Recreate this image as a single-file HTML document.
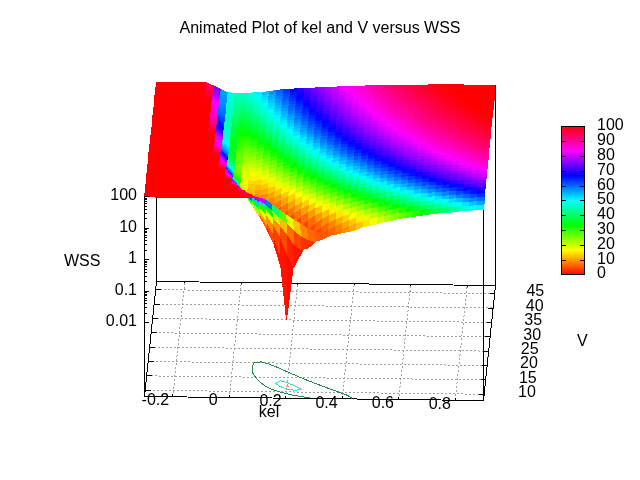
<!DOCTYPE html>
<html><head><meta charset="utf-8"><style>
html,body{margin:0;padding:0;background:#fff;}
svg{display:block;will-change:transform;}
text{font-family:"Liberation Sans",sans-serif;fill:#000;}
</style></head><body>
<svg width="640" height="480" viewBox="0 0 640 480">
<rect width="640" height="480" fill="#fff"/>
<g shape-rendering="crispEdges">
<text x="179.5" y="33" font-size="16">Animated Plot of kel and V versus WSS</text>
<line x1="145.1" y1="390.25" x2="484.1" y2="394.25" stroke="#a0a0a0" stroke-width="1" stroke-dasharray="2,2"/>
<line x1="146.6" y1="375.88" x2="485.6" y2="379.88" stroke="#a0a0a0" stroke-width="1" stroke-dasharray="2,2"/>
<line x1="148.1" y1="361.5" x2="487.1" y2="365.5" stroke="#a0a0a0" stroke-width="1" stroke-dasharray="2,2"/>
<line x1="149.6" y1="347.13" x2="488.6" y2="351.13" stroke="#a0a0a0" stroke-width="1" stroke-dasharray="2,2"/>
<line x1="151.1" y1="332.75" x2="490.1" y2="336.75" stroke="#a0a0a0" stroke-width="1" stroke-dasharray="2,2"/>
<line x1="152.6" y1="318.38" x2="491.6" y2="322.38" stroke="#a0a0a0" stroke-width="1" stroke-dasharray="2,2"/>
<line x1="154.1" y1="304.0" x2="493.1" y2="308.0" stroke="#a0a0a0" stroke-width="1" stroke-dasharray="2,2"/>
<line x1="155.6" y1="289.63" x2="494.6" y2="293.63" stroke="#a0a0a0" stroke-width="1" stroke-dasharray="2,2"/>
<line x1="172.75" y1="396.83" x2="184.75" y2="281.83" stroke="#a0a0a0" stroke-width="1" stroke-dasharray="2,2"/>
<line x1="229.25" y1="397.5" x2="241.25" y2="282.5" stroke="#a0a0a0" stroke-width="1" stroke-dasharray="2,2"/>
<line x1="285.75" y1="398.17" x2="297.75" y2="283.17" stroke="#a0a0a0" stroke-width="1" stroke-dasharray="2,2"/>
<line x1="342.25" y1="398.83" x2="354.25" y2="283.83" stroke="#a0a0a0" stroke-width="1" stroke-dasharray="2,2"/>
<line x1="398.75" y1="399.5" x2="410.75" y2="284.5" stroke="#a0a0a0" stroke-width="1" stroke-dasharray="2,2"/>
<line x1="455.25" y1="400.17" x2="467.25" y2="285.17" stroke="#a0a0a0" stroke-width="1" stroke-dasharray="2,2"/>
<line x1="144.5" y1="396.5" x2="483.5" y2="400.5" stroke="#000" stroke-width="1" />
<line x1="156.5" y1="281.5" x2="495.5" y2="285.5" stroke="#000" stroke-width="1" />
<line x1="144.5" y1="396.5" x2="156.5" y2="281.5" stroke="#000" stroke-width="1" />
<line x1="483.5" y1="400.5" x2="495.5" y2="285.5" stroke="#000" stroke-width="1" />
<line x1="145.1" y1="390.25" x2="150.5" y2="390.25" stroke="#000" stroke-width="1" />
<line x1="479.1" y1="394.25" x2="484.1" y2="394.25" stroke="#000" stroke-width="1" />
<line x1="146.6" y1="375.88" x2="152.0" y2="375.88" stroke="#000" stroke-width="1" />
<line x1="480.6" y1="379.88" x2="485.6" y2="379.88" stroke="#000" stroke-width="1" />
<line x1="148.1" y1="361.5" x2="153.5" y2="361.5" stroke="#000" stroke-width="1" />
<line x1="482.1" y1="365.5" x2="487.1" y2="365.5" stroke="#000" stroke-width="1" />
<line x1="149.6" y1="347.13" x2="155.0" y2="347.13" stroke="#000" stroke-width="1" />
<line x1="483.6" y1="351.13" x2="488.6" y2="351.13" stroke="#000" stroke-width="1" />
<line x1="151.1" y1="332.75" x2="156.5" y2="332.75" stroke="#000" stroke-width="1" />
<line x1="485.1" y1="336.75" x2="490.1" y2="336.75" stroke="#000" stroke-width="1" />
<line x1="152.6" y1="318.38" x2="158.0" y2="318.38" stroke="#000" stroke-width="1" />
<line x1="486.6" y1="322.38" x2="491.6" y2="322.38" stroke="#000" stroke-width="1" />
<line x1="154.1" y1="304.0" x2="159.5" y2="304.0" stroke="#000" stroke-width="1" />
<line x1="488.1" y1="308.0" x2="493.1" y2="308.0" stroke="#000" stroke-width="1" />
<line x1="155.6" y1="289.63" x2="161.0" y2="289.63" stroke="#000" stroke-width="1" />
<line x1="489.6" y1="293.63" x2="494.6" y2="293.63" stroke="#000" stroke-width="1" />
<line x1="172.75" y1="394" x2="172.75" y2="396" stroke="#000" stroke-width="1" />
<line x1="184.75" y1="282" x2="184.75" y2="283" stroke="#000" stroke-width="1" />
<line x1="229.25" y1="395" x2="229.25" y2="397" stroke="#000" stroke-width="1" />
<line x1="241.25" y1="283" x2="241.25" y2="284" stroke="#000" stroke-width="1" />
<line x1="285.75" y1="396" x2="285.75" y2="398" stroke="#000" stroke-width="1" />
<line x1="297.75" y1="284" x2="297.75" y2="285" stroke="#000" stroke-width="1" />
<line x1="342.25" y1="396" x2="342.25" y2="398" stroke="#000" stroke-width="1" />
<line x1="354.25" y1="284" x2="354.25" y2="285" stroke="#000" stroke-width="1" />
<line x1="398.75" y1="397" x2="398.75" y2="399" stroke="#000" stroke-width="1" />
<line x1="410.75" y1="285" x2="410.75" y2="286" stroke="#000" stroke-width="1" />
<line x1="455.25" y1="398" x2="455.25" y2="400" stroke="#000" stroke-width="1" />
<line x1="467.25" y1="286" x2="467.25" y2="287" stroke="#000" stroke-width="1" />
<line x1="156.5" y1="196.5" x2="156.5" y2="281.5" stroke="#000" stroke-width="1" />
<line x1="483.5" y1="209" x2="483.5" y2="400.5" stroke="#000" stroke-width="1" />
<text x="137" y="200.10" text-anchor="end" font-size="16">100</text>
<text x="137" y="231.60" text-anchor="end" font-size="16">10</text>
<text x="137" y="263.10" text-anchor="end" font-size="16">1</text>
<text x="137" y="294.60" text-anchor="end" font-size="16">0.1</text>
<text x="137" y="326.10" text-anchor="end" font-size="16">0.01</text>
<text x="64" y="266" font-size="16">WSS</text>
<text x="155.4" y="405.0" text-anchor="middle" font-size="16">-0.2</text>
<text x="213.1" y="405.0" text-anchor="middle" font-size="16">0</text>
<text x="270.6" y="406.0" text-anchor="middle" font-size="16">0.2</text>
<text x="326.6" y="407.5" text-anchor="middle" font-size="16">0.4</text>
<text x="382.9" y="408.0" text-anchor="middle" font-size="16">0.6</text>
<text x="439.75" y="408.5" text-anchor="middle" font-size="16">0.8</text>
<text x="269" y="417" text-anchor="middle" font-size="16">kel</text>
<text x="526.4" y="296" font-size="16">45</text>
<text x="525.75" y="310.6" font-size="16">40</text>
<text x="524.25" y="325" font-size="16">35</text>
<text x="523.25" y="339.6" font-size="16">30</text>
<text x="520.75" y="353.75" font-size="16">25</text>
<text x="520.1" y="367.75" font-size="16">20</text>
<text x="518.9" y="382.5" font-size="16">15</text>
<text x="518.0" y="396.9" font-size="16">10</text>
<text x="577" y="346" font-size="16">V</text>
<rect x="286" y="386" width="3" height="1" fill="#ffa000"/>
<polyline points="352.5,398.5 349.5,396.8 347.9,395.5 342.7,393.6 340.3,392.6 335.9,391.1 332.0,389.6 329.1,388.6 323.8,386.6 322.3,386.1 315.9,383.6 315.5,383.5 308.7,380.9 308.3,380.7 301.9,378.1 301.0,377.7 295.2,375.2 294.0,374.8 288.4,372.3 287.3,371.8 281.6,369.3 280.6,368.8 274.9,366.3 273.6,365.9 268.1,363.7 264.9,362.9 261.2,361.8 254.3,362.8 254.0,362.9 252.6,365.6 252.2,368.5 252.5,371.4 252.9,373.2 253.5,374.3 255.6,377.2 257.8,380.1 259.2,381.5 261.0,383.0 265.1,385.9 265.7,386.3 271.1,388.9 272.5,389.4 278.9,391.8 279.3,391.9 286.2,393.6 291.0,394.9 293.1,395.2 300.0,396.3 307.0,397.5 310.0,398.0" fill="none" stroke="#228b50" stroke-width="1"/>
<polyline points="300.8,388.9 296.0,386.3 294.1,385.5 288.6,383.3 287.3,382.8 280.4,380.8 275.5,383.2 279.2,386.1 279.9,386.4 286.7,389.0 286.9,389.1 293.6,390.1 300.7,389.9 301.6,389.2 300.8,388.9" fill="none" stroke="#40e0d0" stroke-width="1"/>
</g>
<g shape-rendering="crispEdges" stroke-width="1" stroke-linejoin="bevel">
<polygon points="233.5,96.5 240.5,97.5 241.5,93.5 234.5,93.5" fill="#00ffbd" stroke="#00ffbd"/>
<polygon points="226.5,95.5 233.5,96.5 234.5,93.5 227.5,92.5" fill="#00ffe5" stroke="#00ffe5"/>
<polygon points="240.5,97.5 248.5,96.5 248.5,93.5 241.5,93.5" fill="#00ffc3" stroke="#00ffc3"/>
<polygon points="219.5,92.5 226.5,95.5 227.5,92.5 220.5,89.5" fill="#009cff" stroke="#009cff"/>
<polygon points="248.5,96.5 255.5,95.5 255.5,92.5 248.5,93.5" fill="#00ffe2" stroke="#00ffe2"/>
<polygon points="255.5,95.5 262.5,95.5 262.5,92.5 255.5,92.5" fill="#00f2ff" stroke="#00f2ff"/>
<polygon points="156.5,85.5 163.5,85.5 163.5,82.5 156.5,82.5" fill="#ff0000" stroke="#ff0000"/>
<polygon points="163.5,85.5 170.5,85.5 170.5,82.5 163.5,82.5" fill="#ff0000" stroke="#ff0000"/>
<polygon points="212.5,87.5 219.5,92.5 220.5,89.5 212.5,85.5" fill="#7b00ff" stroke="#7b00ff"/>
<polygon points="262.5,95.5 269.5,94.5 269.5,91.5 262.5,92.5" fill="#00c2ff" stroke="#00c2ff"/>
<polygon points="170.5,85.5 177.5,85.5 177.5,82.5 170.5,82.5" fill="#ff0000" stroke="#ff0000"/>
<polygon points="177.5,85.5 184.5,85.5 184.5,82.5 177.5,82.5" fill="#ff0000" stroke="#ff0000"/>
<polygon points="269.5,94.5 276.5,93.5 276.5,90.5 269.5,91.5" fill="#0091ff" stroke="#0091ff"/>
<polygon points="184.5,85.5 191.5,85.5 191.5,82.5 184.5,82.5" fill="#ff0000" stroke="#ff0000"/>
<polygon points="191.5,85.5 198.5,85.5 198.5,82.5 191.5,82.5" fill="#ff0000" stroke="#ff0000"/>
<polygon points="205.5,85.5 212.5,87.5 212.5,85.5 205.5,82.5" fill="#ff0064" stroke="#ff0064"/>
<polygon points="276.5,93.5 283.5,93.5 283.5,89.5 276.5,90.5" fill="#0060ff" stroke="#0060ff"/>
<polygon points="198.5,85.5 205.5,85.5 205.5,82.5 198.5,82.5" fill="#ff0000" stroke="#ff0000"/>
<polygon points="283.5,93.5 290.5,92.5 290.5,89.5 283.5,89.5" fill="#0032ff" stroke="#0032ff"/>
<polygon points="290.5,92.5 297.5,91.5 297.5,88.5 290.5,89.5" fill="#0005ff" stroke="#0005ff"/>
<polygon points="297.5,91.5 304.5,91.5 304.5,88.5 297.5,88.5" fill="#2400ff" stroke="#2400ff"/>
<polygon points="304.5,91.5 311.5,91.5 311.5,88.5 304.5,88.5" fill="#4c00ff" stroke="#4c00ff"/>
<polygon points="311.5,91.5 318.5,90.5 318.5,87.5 311.5,88.5" fill="#7100ff" stroke="#7100ff"/>
<polygon points="318.5,90.5 325.5,90.5 326.5,87.5 318.5,87.5" fill="#9300ff" stroke="#9300ff"/>
<polygon points="325.5,90.5 332.5,90.5 333.5,87.5 326.5,87.5" fill="#b400ff" stroke="#b400ff"/>
<polygon points="332.5,90.5 339.5,89.5 340.5,86.5 333.5,87.5" fill="#d200ff" stroke="#d200ff"/>
<polygon points="339.5,89.5 346.5,89.5 347.5,86.5 340.5,86.5" fill="#ef00ff" stroke="#ef00ff"/>
<polygon points="346.5,89.5 353.5,89.5 354.5,86.5 347.5,86.5" fill="#ff00f4" stroke="#ff00f4"/>
<polygon points="353.5,89.5 361.5,89.5 361.5,86.5 354.5,86.5" fill="#ff00db" stroke="#ff00db"/>
<polygon points="361.5,89.5 368.5,88.5 368.5,85.5 361.5,86.5" fill="#ff00c3" stroke="#ff00c3"/>
<polygon points="368.5,88.5 375.5,88.5 375.5,85.5 368.5,85.5" fill="#ff00ad" stroke="#ff00ad"/>
<polygon points="233.5,99.5 240.5,100.5 240.5,97.5 233.5,96.5" fill="#00ffb1" stroke="#00ffb1"/>
<polygon points="226.5,98.5 233.5,99.5 233.5,96.5 226.5,95.5" fill="#00ffde" stroke="#00ffde"/>
<polygon points="375.5,88.5 382.5,88.5 382.5,85.5 375.5,85.5" fill="#ff0097" stroke="#ff0097"/>
<polygon points="240.5,100.5 247.5,99.5 248.5,96.5 240.5,97.5" fill="#00ffb4" stroke="#00ffb4"/>
<polygon points="382.5,88.5 389.5,88.5 389.5,85.5 382.5,85.5" fill="#ff0083" stroke="#ff0083"/>
<polygon points="219.5,95.5 226.5,98.5 226.5,95.5 219.5,92.5" fill="#009aff" stroke="#009aff"/>
<polygon points="247.5,99.5 254.5,99.5 255.5,95.5 248.5,96.5" fill="#00ffd1" stroke="#00ffd1"/>
<polygon points="389.5,88.5 396.5,88.5 396.5,85.5 389.5,85.5" fill="#ff0071" stroke="#ff0071"/>
<polygon points="396.5,88.5 403.5,88.5 403.5,85.5 396.5,85.5" fill="#ff005f" stroke="#ff005f"/>
<polygon points="254.5,99.5 261.5,98.5 262.5,95.5 255.5,95.5" fill="#00fffb" stroke="#00fffb"/>
<polygon points="403.5,88.5 410.5,88.5 410.5,85.5 403.5,85.5" fill="#ff004e" stroke="#ff004e"/>
<polygon points="155.5,88.5 162.5,88.5 163.5,85.5 156.5,85.5" fill="#ff0000" stroke="#ff0000"/>
<polygon points="410.5,88.5 417.5,88.5 417.5,85.5 410.5,85.5" fill="#ff003e" stroke="#ff003e"/>
<polygon points="162.5,88.5 170.5,88.5 170.5,85.5 163.5,85.5" fill="#ff0000" stroke="#ff0000"/>
<polygon points="261.5,98.5 268.5,97.5 269.5,94.5 262.5,95.5" fill="#00d3ff" stroke="#00d3ff"/>
<polygon points="212.5,90.5 219.5,95.5 219.5,92.5 212.5,87.5" fill="#8d00ff" stroke="#8d00ff"/>
<polygon points="417.5,88.5 424.5,87.5 424.5,85.5 417.5,85.5" fill="#ff002f" stroke="#ff002f"/>
<polygon points="170.5,88.5 177.5,88.5 177.5,85.5 170.5,85.5" fill="#ff0000" stroke="#ff0000"/>
<polygon points="177.5,88.5 184.5,88.5 184.5,85.5 177.5,85.5" fill="#ff0000" stroke="#ff0000"/>
<polygon points="424.5,87.5 431.5,87.5 431.5,84.5 424.5,85.5" fill="#ff0020" stroke="#ff0020"/>
<polygon points="268.5,97.5 275.5,96.5 276.5,93.5 269.5,94.5" fill="#00a2ff" stroke="#00a2ff"/>
<polygon points="184.5,88.5 191.5,88.5 191.5,85.5 184.5,85.5" fill="#ff0000" stroke="#ff0000"/>
<polygon points="431.5,87.5 438.5,87.5 438.5,84.5 431.5,84.5" fill="#ff0013" stroke="#ff0013"/>
<polygon points="191.5,88.5 198.5,88.5 198.5,85.5 191.5,85.5" fill="#ff0000" stroke="#ff0000"/>
<polygon points="275.5,96.5 283.5,96.5 283.5,93.5 276.5,93.5" fill="#0071ff" stroke="#0071ff"/>
<polygon points="438.5,87.5 445.5,87.5 446.5,84.5 438.5,84.5" fill="#ff0007" stroke="#ff0007"/>
<polygon points="205.5,88.5 212.5,90.5 212.5,87.5 205.5,85.5" fill="#ff0055" stroke="#ff0055"/>
<polygon points="198.5,88.5 205.5,88.5 205.5,85.5 198.5,85.5" fill="#ff0000" stroke="#ff0000"/>
<polygon points="445.5,87.5 452.5,87.5 453.5,84.5 446.5,84.5" fill="#ff0001" stroke="#ff0001"/>
<polygon points="283.5,96.5 290.5,95.5 290.5,92.5 283.5,93.5" fill="#0042ff" stroke="#0042ff"/>
<polygon points="452.5,87.5 459.5,87.5 460.5,84.5 453.5,84.5" fill="#ff0000" stroke="#ff0000"/>
<polygon points="459.5,87.5 466.5,87.5 467.5,85.5 460.5,84.5" fill="#ff0000" stroke="#ff0000"/>
<polygon points="466.5,87.5 474.5,87.5 474.5,85.5 467.5,85.5" fill="#ff0000" stroke="#ff0000"/>
<polygon points="290.5,95.5 297.5,95.5 297.5,91.5 290.5,92.5" fill="#0015ff" stroke="#0015ff"/>
<polygon points="474.5,87.5 481.5,88.5 481.5,85.5 474.5,85.5" fill="#ff0000" stroke="#ff0000"/>
<polygon points="297.5,95.5 304.5,94.5 304.5,91.5 297.5,91.5" fill="#1600ff" stroke="#1600ff"/>
<polygon points="481.5,88.5 488.5,88.5 488.5,85.5 481.5,85.5" fill="#ff0000" stroke="#ff0000"/>
<polygon points="488.5,88.5 495.5,88.5 495.5,85.5 488.5,85.5" fill="#ff0000" stroke="#ff0000"/>
<polygon points="304.5,94.5 311.5,94.5 311.5,91.5 304.5,91.5" fill="#3e00ff" stroke="#3e00ff"/>
<polygon points="311.5,94.5 318.5,93.5 318.5,90.5 311.5,91.5" fill="#6300ff" stroke="#6300ff"/>
<polygon points="318.5,93.5 325.5,93.5 325.5,90.5 318.5,90.5" fill="#8600ff" stroke="#8600ff"/>
<polygon points="325.5,93.5 332.5,93.5 332.5,90.5 325.5,90.5" fill="#a700ff" stroke="#a700ff"/>
<polygon points="332.5,93.5 339.5,92.5 339.5,89.5 332.5,90.5" fill="#c600ff" stroke="#c600ff"/>
<polygon points="339.5,92.5 346.5,92.5 346.5,89.5 339.5,89.5" fill="#e400ff" stroke="#e400ff"/>
<polygon points="346.5,92.5 353.5,92.5 353.5,89.5 346.5,89.5" fill="#ff00ff" stroke="#ff00ff"/>
<polygon points="353.5,92.5 360.5,92.5 361.5,89.5 353.5,89.5" fill="#ff00e5" stroke="#ff00e5"/>
<polygon points="360.5,92.5 367.5,91.5 368.5,88.5 361.5,89.5" fill="#ff00cd" stroke="#ff00cd"/>
<polygon points="367.5,91.5 374.5,91.5 375.5,88.5 368.5,88.5" fill="#ff00b6" stroke="#ff00b6"/>
<polygon points="233.5,102.5 240.5,103.5 240.5,100.5 233.5,99.5" fill="#00ffa4" stroke="#00ffa4"/>
<polygon points="226.5,101.5 233.5,102.5 233.5,99.5 226.5,98.5" fill="#00ffd7" stroke="#00ffd7"/>
<polygon points="240.5,103.5 247.5,103.5 247.5,99.5 240.5,100.5" fill="#00ffa4" stroke="#00ffa4"/>
<polygon points="374.5,91.5 381.5,91.5 382.5,88.5 375.5,88.5" fill="#ff00a1" stroke="#ff00a1"/>
<polygon points="381.5,91.5 388.5,91.5 389.5,88.5 382.5,88.5" fill="#ff008c" stroke="#ff008c"/>
<polygon points="247.5,103.5 254.5,102.5 254.5,99.5 247.5,99.5" fill="#00ffc0" stroke="#00ffc0"/>
<polygon points="219.5,97.5 226.5,101.5 226.5,98.5 219.5,95.5" fill="#0097ff" stroke="#0097ff"/>
<polygon points="388.5,91.5 396.5,91.5 396.5,88.5 389.5,88.5" fill="#ff0079" stroke="#ff0079"/>
<polygon points="396.5,91.5 403.5,91.5 403.5,88.5 396.5,88.5" fill="#ff0067" stroke="#ff0067"/>
<polygon points="254.5,102.5 261.5,101.5 261.5,98.5 254.5,99.5" fill="#00ffe9" stroke="#00ffe9"/>
<polygon points="403.5,91.5 410.5,91.5 410.5,88.5 403.5,88.5" fill="#ff0056" stroke="#ff0056"/>
<polygon points="155.5,91.5 162.5,91.5 162.5,88.5 155.5,88.5" fill="#ff0000" stroke="#ff0000"/>
<polygon points="261.5,101.5 268.5,100.5 268.5,97.5 261.5,98.5" fill="#00e5ff" stroke="#00e5ff"/>
<polygon points="410.5,91.5 417.5,90.5 417.5,88.5 410.5,88.5" fill="#ff0046" stroke="#ff0046"/>
<polygon points="162.5,91.5 169.5,91.5 170.5,88.5 162.5,88.5" fill="#ff0000" stroke="#ff0000"/>
<polygon points="417.5,90.5 424.5,90.5 424.5,87.5 417.5,88.5" fill="#ff0036" stroke="#ff0036"/>
<polygon points="212.5,92.5 219.5,97.5 219.5,95.5 212.5,90.5" fill="#a200ff" stroke="#a200ff"/>
<polygon points="169.5,91.5 176.5,91.5 177.5,88.5 170.5,88.5" fill="#ff0000" stroke="#ff0000"/>
<polygon points="268.5,100.5 275.5,99.5 275.5,96.5 268.5,97.5" fill="#00b3ff" stroke="#00b3ff"/>
<polygon points="176.5,91.5 183.5,91.5 184.5,88.5 177.5,88.5" fill="#ff0000" stroke="#ff0000"/>
<polygon points="424.5,90.5 431.5,90.5 431.5,87.5 424.5,87.5" fill="#ff0027" stroke="#ff0027"/>
<polygon points="183.5,91.5 190.5,91.5 191.5,88.5 184.5,88.5" fill="#ff0000" stroke="#ff0000"/>
<polygon points="431.5,90.5 438.5,90.5 438.5,87.5 431.5,87.5" fill="#ff0019" stroke="#ff0019"/>
<polygon points="190.5,91.5 197.5,91.5 198.5,88.5 191.5,88.5" fill="#ff0000" stroke="#ff0000"/>
<polygon points="275.5,99.5 282.5,99.5 283.5,96.5 275.5,96.5" fill="#0082ff" stroke="#0082ff"/>
<polygon points="438.5,90.5 445.5,90.5 445.5,87.5 438.5,87.5" fill="#ff000c" stroke="#ff000c"/>
<polygon points="205.5,91.5 212.5,92.5 212.5,90.5 205.5,88.5" fill="#ff0045" stroke="#ff0045"/>
<polygon points="197.5,91.5 205.5,91.5 205.5,88.5 198.5,88.5" fill="#ff0000" stroke="#ff0000"/>
<polygon points="445.5,90.5 452.5,90.5 452.5,87.5 445.5,87.5" fill="#ff0003" stroke="#ff0003"/>
<polygon points="282.5,99.5 289.5,98.5 290.5,95.5 283.5,96.5" fill="#0052ff" stroke="#0052ff"/>
<polygon points="452.5,90.5 459.5,90.5 459.5,87.5 452.5,87.5" fill="#ff0000" stroke="#ff0000"/>
<polygon points="459.5,90.5 466.5,90.5 466.5,87.5 459.5,87.5" fill="#ff0000" stroke="#ff0000"/>
<polygon points="289.5,98.5 296.5,98.5 297.5,95.5 290.5,95.5" fill="#0025ff" stroke="#0025ff"/>
<polygon points="466.5,90.5 473.5,90.5 474.5,87.5 466.5,87.5" fill="#ff0000" stroke="#ff0000"/>
<polygon points="473.5,90.5 480.5,90.5 481.5,88.5 474.5,87.5" fill="#ff0000" stroke="#ff0000"/>
<polygon points="296.5,98.5 303.5,97.5 304.5,94.5 297.5,95.5" fill="#0600ff" stroke="#0600ff"/>
<polygon points="480.5,90.5 487.5,90.5 488.5,88.5 481.5,88.5" fill="#ff0000" stroke="#ff0000"/>
<polygon points="487.5,90.5 494.5,91.5 495.5,88.5 488.5,88.5" fill="#ff0000" stroke="#ff0000"/>
<polygon points="303.5,97.5 310.5,97.5 311.5,94.5 304.5,94.5" fill="#2f00ff" stroke="#2f00ff"/>
<polygon points="310.5,97.5 318.5,96.5 318.5,93.5 311.5,94.5" fill="#5500ff" stroke="#5500ff"/>
<polygon points="318.5,96.5 325.5,96.5 325.5,93.5 318.5,93.5" fill="#7900ff" stroke="#7900ff"/>
<polygon points="325.5,96.5 332.5,96.5 332.5,93.5 325.5,93.5" fill="#9a00ff" stroke="#9a00ff"/>
<polygon points="332.5,96.5 339.5,95.5 339.5,92.5 332.5,93.5" fill="#ba00ff" stroke="#ba00ff"/>
<polygon points="339.5,95.5 346.5,95.5 346.5,92.5 339.5,92.5" fill="#d800ff" stroke="#d800ff"/>
<polygon points="346.5,95.5 353.5,95.5 353.5,92.5 346.5,92.5" fill="#f300ff" stroke="#f300ff"/>
<polygon points="353.5,95.5 360.5,95.5 360.5,92.5 353.5,92.5" fill="#ff00f0" stroke="#ff00f0"/>
<polygon points="360.5,95.5 367.5,94.5 367.5,91.5 360.5,92.5" fill="#ff00d8" stroke="#ff00d8"/>
<polygon points="232.5,105.5 240.5,106.5 240.5,103.5 233.5,102.5" fill="#00ff97" stroke="#00ff97"/>
<polygon points="367.5,94.5 374.5,94.5 374.5,91.5 367.5,91.5" fill="#ff00c1" stroke="#ff00c1"/>
<polygon points="225.5,104.5 232.5,105.5 233.5,102.5 226.5,101.5" fill="#00ffd0" stroke="#00ffd0"/>
<polygon points="240.5,106.5 247.5,106.5 247.5,103.5 240.5,103.5" fill="#00ff94" stroke="#00ff94"/>
<polygon points="374.5,94.5 381.5,94.5 381.5,91.5 374.5,91.5" fill="#ff00ab" stroke="#ff00ab"/>
<polygon points="247.5,106.5 254.5,105.5 254.5,102.5 247.5,103.5" fill="#00ffae" stroke="#00ffae"/>
<polygon points="381.5,94.5 388.5,94.5 388.5,91.5 381.5,91.5" fill="#ff0096" stroke="#ff0096"/>
<polygon points="218.5,100.5 225.5,104.5 226.5,101.5 219.5,97.5" fill="#0093ff" stroke="#0093ff"/>
<polygon points="388.5,94.5 395.5,94.5 396.5,91.5 388.5,91.5" fill="#ff0082" stroke="#ff0082"/>
<polygon points="254.5,105.5 261.5,104.5 261.5,101.5 254.5,102.5" fill="#00ffd7" stroke="#00ffd7"/>
<polygon points="395.5,94.5 402.5,94.5 403.5,91.5 396.5,91.5" fill="#ff0070" stroke="#ff0070"/>
<polygon points="402.5,94.5 409.5,93.5 410.5,91.5 403.5,91.5" fill="#ff005e" stroke="#ff005e"/>
<polygon points="155.5,93.5 162.5,93.5 162.5,91.5 155.5,91.5" fill="#ff0000" stroke="#ff0000"/>
<polygon points="261.5,104.5 268.5,103.5 268.5,100.5 261.5,101.5" fill="#00f7ff" stroke="#00f7ff"/>
<polygon points="409.5,93.5 416.5,93.5 417.5,90.5 410.5,91.5" fill="#ff004e" stroke="#ff004e"/>
<polygon points="162.5,93.5 169.5,94.5 169.5,91.5 162.5,91.5" fill="#ff0000" stroke="#ff0000"/>
<polygon points="416.5,93.5 423.5,93.5 424.5,90.5 417.5,90.5" fill="#ff003e" stroke="#ff003e"/>
<polygon points="169.5,94.5 176.5,94.5 176.5,91.5 169.5,91.5" fill="#ff0000" stroke="#ff0000"/>
<polygon points="211.5,95.5 218.5,100.5 219.5,97.5 212.5,92.5" fill="#b900ff" stroke="#b900ff"/>
<polygon points="268.5,103.5 275.5,103.5 275.5,99.5 268.5,100.5" fill="#00c5ff" stroke="#00c5ff"/>
<polygon points="423.5,93.5 431.5,93.5 431.5,90.5 424.5,90.5" fill="#ff002f" stroke="#ff002f"/>
<polygon points="176.5,94.5 183.5,94.5 183.5,91.5 176.5,91.5" fill="#ff0000" stroke="#ff0000"/>
<polygon points="183.5,94.5 190.5,94.5 190.5,91.5 183.5,91.5" fill="#ff0000" stroke="#ff0000"/>
<polygon points="431.5,93.5 438.5,93.5 438.5,90.5 431.5,90.5" fill="#ff0021" stroke="#ff0021"/>
<polygon points="275.5,103.5 282.5,102.5 282.5,99.5 275.5,99.5" fill="#0093ff" stroke="#0093ff"/>
<polygon points="190.5,94.5 197.5,94.5 197.5,91.5 190.5,91.5" fill="#ff0000" stroke="#ff0000"/>
<polygon points="438.5,93.5 445.5,93.5 445.5,90.5 438.5,90.5" fill="#ff0013" stroke="#ff0013"/>
<polygon points="197.5,94.5 204.5,94.5 205.5,91.5 197.5,91.5" fill="#ff0000" stroke="#ff0000"/>
<polygon points="204.5,94.5 211.5,95.5 212.5,92.5 205.5,91.5" fill="#ff0033" stroke="#ff0033"/>
<polygon points="445.5,93.5 452.5,93.5 452.5,90.5 445.5,90.5" fill="#ff0007" stroke="#ff0007"/>
<polygon points="282.5,102.5 289.5,101.5 289.5,98.5 282.5,99.5" fill="#0063ff" stroke="#0063ff"/>
<polygon points="452.5,93.5 459.5,93.5 459.5,90.5 452.5,90.5" fill="#ff0001" stroke="#ff0001"/>
<polygon points="459.5,93.5 466.5,93.5 466.5,90.5 459.5,90.5" fill="#ff0000" stroke="#ff0000"/>
<polygon points="289.5,101.5 296.5,101.5 296.5,98.5 289.5,98.5" fill="#0035ff" stroke="#0035ff"/>
<polygon points="466.5,93.5 473.5,93.5 473.5,90.5 466.5,90.5" fill="#ff0000" stroke="#ff0000"/>
<polygon points="473.5,93.5 480.5,93.5 480.5,90.5 473.5,90.5" fill="#ff0000" stroke="#ff0000"/>
<polygon points="296.5,101.5 303.5,100.5 303.5,97.5 296.5,98.5" fill="#0009ff" stroke="#0009ff"/>
<polygon points="480.5,93.5 487.5,93.5 487.5,90.5 480.5,90.5" fill="#ff0000" stroke="#ff0000"/>
<polygon points="487.5,93.5 494.5,93.5 494.5,91.5 487.5,90.5" fill="#ff0000" stroke="#ff0000"/>
<polygon points="303.5,100.5 310.5,100.5 310.5,97.5 303.5,97.5" fill="#2000ff" stroke="#2000ff"/>
<polygon points="310.5,100.5 317.5,99.5 318.5,96.5 310.5,97.5" fill="#4600ff" stroke="#4600ff"/>
<polygon points="317.5,99.5 324.5,99.5 325.5,96.5 318.5,96.5" fill="#6b00ff" stroke="#6b00ff"/>
<polygon points="324.5,99.5 331.5,99.5 332.5,96.5 325.5,96.5" fill="#8d00ff" stroke="#8d00ff"/>
<polygon points="331.5,99.5 338.5,98.5 339.5,95.5 332.5,96.5" fill="#ad00ff" stroke="#ad00ff"/>
<polygon points="338.5,98.5 345.5,98.5 346.5,95.5 339.5,95.5" fill="#cb00ff" stroke="#cb00ff"/>
<polygon points="345.5,98.5 353.5,98.5 353.5,95.5 346.5,95.5" fill="#e700ff" stroke="#e700ff"/>
<polygon points="353.5,98.5 360.5,98.5 360.5,95.5 353.5,95.5" fill="#ff00fc" stroke="#ff00fc"/>
<polygon points="360.5,98.5 367.5,97.5 367.5,94.5 360.5,95.5" fill="#ff00e3" stroke="#ff00e3"/>
<polygon points="232.5,109.5 239.5,109.5 240.5,106.5 232.5,105.5" fill="#00ff8a" stroke="#00ff8a"/>
<polygon points="367.5,97.5 374.5,97.5 374.5,94.5 367.5,94.5" fill="#ff00cb" stroke="#ff00cb"/>
<polygon points="239.5,109.5 246.5,109.5 247.5,106.5 240.5,106.5" fill="#00ff84" stroke="#00ff84"/>
<polygon points="225.5,106.5 232.5,109.5 232.5,105.5 225.5,104.5" fill="#00ffca" stroke="#00ffca"/>
<polygon points="374.5,97.5 381.5,97.5 381.5,94.5 374.5,94.5" fill="#ff00b5" stroke="#ff00b5"/>
<polygon points="246.5,109.5 253.5,108.5 254.5,105.5 247.5,106.5" fill="#00ff9c" stroke="#00ff9c"/>
<polygon points="381.5,97.5 388.5,97.5 388.5,94.5 381.5,94.5" fill="#ff00a0" stroke="#ff00a0"/>
<polygon points="388.5,97.5 395.5,97.5 395.5,94.5 388.5,94.5" fill="#ff008c" stroke="#ff008c"/>
<polygon points="218.5,103.5 225.5,106.5 225.5,104.5 218.5,100.5" fill="#008dff" stroke="#008dff"/>
<polygon points="253.5,108.5 260.5,107.5 261.5,104.5 254.5,105.5" fill="#00ffc5" stroke="#00ffc5"/>
<polygon points="395.5,97.5 402.5,97.5 402.5,94.5 395.5,94.5" fill="#ff0079" stroke="#ff0079"/>
<polygon points="402.5,97.5 409.5,96.5 409.5,93.5 402.5,94.5" fill="#ff0067" stroke="#ff0067"/>
<polygon points="260.5,107.5 268.5,107.5 268.5,103.5 261.5,104.5" fill="#00fff4" stroke="#00fff4"/>
<polygon points="154.5,96.5 162.5,96.5 162.5,93.5 155.5,93.5" fill="#ff0000" stroke="#ff0000"/>
<polygon points="409.5,96.5 416.5,96.5 416.5,93.5 409.5,93.5" fill="#ff0056" stroke="#ff0056"/>
<polygon points="162.5,96.5 169.5,96.5 169.5,94.5 162.5,93.5" fill="#ff0000" stroke="#ff0000"/>
<polygon points="416.5,96.5 423.5,96.5 423.5,93.5 416.5,93.5" fill="#ff0046" stroke="#ff0046"/>
<polygon points="268.5,107.5 275.5,106.5 275.5,103.5 268.5,103.5" fill="#00d8ff" stroke="#00d8ff"/>
<polygon points="169.5,96.5 176.5,96.5 176.5,94.5 169.5,94.5" fill="#ff0000" stroke="#ff0000"/>
<polygon points="211.5,97.5 218.5,103.5 218.5,100.5 211.5,95.5" fill="#d400ff" stroke="#d400ff"/>
<polygon points="423.5,96.5 430.5,96.5 431.5,93.5 423.5,93.5" fill="#ff0037" stroke="#ff0037"/>
<polygon points="176.5,96.5 183.5,97.5 183.5,94.5 176.5,94.5" fill="#ff0000" stroke="#ff0000"/>
<polygon points="183.5,97.5 190.5,97.5 190.5,94.5 183.5,94.5" fill="#ff0000" stroke="#ff0000"/>
<polygon points="430.5,96.5 437.5,96.5 438.5,93.5 431.5,93.5" fill="#ff0028" stroke="#ff0028"/>
<polygon points="275.5,106.5 282.5,105.5 282.5,102.5 275.5,103.5" fill="#00a6ff" stroke="#00a6ff"/>
<polygon points="190.5,97.5 197.5,97.5 197.5,94.5 190.5,94.5" fill="#ff0000" stroke="#ff0000"/>
<polygon points="437.5,96.5 444.5,96.5 445.5,93.5 438.5,93.5" fill="#ff001a" stroke="#ff001a"/>
<polygon points="197.5,97.5 204.5,97.5 204.5,94.5 197.5,94.5" fill="#ff0000" stroke="#ff0000"/>
<polygon points="282.5,105.5 289.5,104.5 289.5,101.5 282.5,102.5" fill="#0075ff" stroke="#0075ff"/>
<polygon points="444.5,96.5 451.5,96.5 452.5,93.5 445.5,93.5" fill="#ff000d" stroke="#ff000d"/>
<polygon points="204.5,97.5 211.5,97.5 211.5,95.5 204.5,94.5" fill="#ff001f" stroke="#ff001f"/>
<polygon points="451.5,96.5 458.5,96.5 459.5,93.5 452.5,93.5" fill="#ff0003" stroke="#ff0003"/>
<polygon points="289.5,104.5 296.5,104.5 296.5,101.5 289.5,101.5" fill="#0046ff" stroke="#0046ff"/>
<polygon points="458.5,96.5 466.5,96.5 466.5,93.5 459.5,93.5" fill="#ff0000" stroke="#ff0000"/>
<polygon points="466.5,96.5 473.5,96.5 473.5,93.5 466.5,93.5" fill="#ff0000" stroke="#ff0000"/>
<polygon points="296.5,104.5 303.5,103.5 303.5,100.5 296.5,101.5" fill="#001aff" stroke="#001aff"/>
<polygon points="473.5,96.5 480.5,96.5 480.5,93.5 473.5,93.5" fill="#ff0000" stroke="#ff0000"/>
<polygon points="480.5,96.5 487.5,96.5 487.5,93.5 480.5,93.5" fill="#ff0000" stroke="#ff0000"/>
<polygon points="303.5,103.5 310.5,103.5 310.5,100.5 303.5,100.5" fill="#1000ff" stroke="#1000ff"/>
<polygon points="487.5,96.5 494.5,96.5 494.5,93.5 487.5,93.5" fill="#ff0000" stroke="#ff0000"/>
<polygon points="310.5,103.5 317.5,102.5 317.5,99.5 310.5,100.5" fill="#3700ff" stroke="#3700ff"/>
<polygon points="317.5,102.5 324.5,102.5 324.5,99.5 317.5,99.5" fill="#5c00ff" stroke="#5c00ff"/>
<polygon points="324.5,102.5 331.5,102.5 331.5,99.5 324.5,99.5" fill="#7f00ff" stroke="#7f00ff"/>
<polygon points="331.5,102.5 338.5,101.5 338.5,98.5 331.5,99.5" fill="#a000ff" stroke="#a000ff"/>
<polygon points="338.5,101.5 345.5,101.5 345.5,98.5 338.5,98.5" fill="#be00ff" stroke="#be00ff"/>
<polygon points="345.5,101.5 352.5,101.5 353.5,98.5 345.5,98.5" fill="#db00ff" stroke="#db00ff"/>
<polygon points="352.5,101.5 359.5,100.5 360.5,98.5 353.5,98.5" fill="#f600ff" stroke="#f600ff"/>
<polygon points="359.5,100.5 366.5,100.5 367.5,97.5 360.5,98.5" fill="#ff00ee" stroke="#ff00ee"/>
<polygon points="232.5,112.5 239.5,112.5 239.5,109.5 232.5,109.5" fill="#00ff7e" stroke="#00ff7e"/>
<polygon points="366.5,100.5 373.5,100.5 374.5,97.5 367.5,97.5" fill="#ff00d6" stroke="#ff00d6"/>
<polygon points="239.5,112.5 246.5,112.5 246.5,109.5 239.5,109.5" fill="#00ff74" stroke="#00ff74"/>
<polygon points="225.5,109.5 232.5,112.5 232.5,109.5 225.5,106.5" fill="#00ffc4" stroke="#00ffc4"/>
<polygon points="373.5,100.5 380.5,100.5 381.5,97.5 374.5,97.5" fill="#ff00bf" stroke="#ff00bf"/>
<polygon points="246.5,112.5 253.5,112.5 253.5,108.5 246.5,109.5" fill="#00ff8a" stroke="#00ff8a"/>
<polygon points="380.5,100.5 388.5,100.5 388.5,97.5 381.5,97.5" fill="#ff00aa" stroke="#ff00aa"/>
<polygon points="388.5,100.5 395.5,100.5 395.5,97.5 388.5,97.5" fill="#ff0095" stroke="#ff0095"/>
<polygon points="253.5,112.5 260.5,111.5 260.5,107.5 253.5,108.5" fill="#00ffb1" stroke="#00ffb1"/>
<polygon points="218.5,105.5 225.5,109.5 225.5,106.5 218.5,103.5" fill="#0086ff" stroke="#0086ff"/>
<polygon points="395.5,100.5 402.5,100.5 402.5,97.5 395.5,97.5" fill="#ff0082" stroke="#ff0082"/>
<polygon points="260.5,111.5 267.5,110.5 268.5,107.5 260.5,107.5" fill="#00ffe1" stroke="#00ffe1"/>
<polygon points="402.5,100.5 409.5,99.5 409.5,96.5 402.5,97.5" fill="#ff0070" stroke="#ff0070"/>
<polygon points="154.5,99.5 161.5,99.5 162.5,96.5 154.5,96.5" fill="#ff0000" stroke="#ff0000"/>
<polygon points="409.5,99.5 416.5,99.5 416.5,96.5 409.5,96.5" fill="#ff005f" stroke="#ff005f"/>
<polygon points="161.5,99.5 168.5,99.5 169.5,96.5 162.5,96.5" fill="#ff0000" stroke="#ff0000"/>
<polygon points="267.5,110.5 274.5,109.5 275.5,106.5 268.5,107.5" fill="#00ebff" stroke="#00ebff"/>
<polygon points="416.5,99.5 423.5,99.5 423.5,96.5 416.5,96.5" fill="#ff004e" stroke="#ff004e"/>
<polygon points="168.5,99.5 175.5,99.5 176.5,96.5 169.5,96.5" fill="#ff0000" stroke="#ff0000"/>
<polygon points="423.5,99.5 430.5,99.5 430.5,96.5 423.5,96.5" fill="#ff003f" stroke="#ff003f"/>
<polygon points="175.5,99.5 182.5,99.5 183.5,97.5 176.5,96.5" fill="#ff0000" stroke="#ff0000"/>
<polygon points="211.5,100.5 218.5,105.5 218.5,103.5 211.5,97.5" fill="#f000ff" stroke="#f000ff"/>
<polygon points="274.5,109.5 281.5,108.5 282.5,105.5 275.5,106.5" fill="#00b8ff" stroke="#00b8ff"/>
<polygon points="430.5,99.5 437.5,99.5 437.5,96.5 430.5,96.5" fill="#ff0030" stroke="#ff0030"/>
<polygon points="182.5,99.5 190.5,99.5 190.5,97.5 183.5,97.5" fill="#ff0000" stroke="#ff0000"/>
<polygon points="190.5,99.5 197.5,100.5 197.5,97.5 190.5,97.5" fill="#ff0000" stroke="#ff0000"/>
<polygon points="437.5,99.5 444.5,99.5 444.5,96.5 437.5,96.5" fill="#ff0022" stroke="#ff0022"/>
<polygon points="197.5,100.5 204.5,100.5 204.5,97.5 197.5,97.5" fill="#ff0000" stroke="#ff0000"/>
<polygon points="281.5,108.5 288.5,108.5 289.5,104.5 282.5,105.5" fill="#0087ff" stroke="#0087ff"/>
<polygon points="444.5,99.5 451.5,99.5 451.5,96.5 444.5,96.5" fill="#ff0014" stroke="#ff0014"/>
<polygon points="204.5,100.5 211.5,100.5 211.5,97.5 204.5,97.5" fill="#ff000a" stroke="#ff000a"/>
<polygon points="451.5,99.5 458.5,99.5 458.5,96.5 451.5,96.5" fill="#ff0008" stroke="#ff0008"/>
<polygon points="288.5,108.5 295.5,107.5 296.5,104.5 289.5,104.5" fill="#0058ff" stroke="#0058ff"/>
<polygon points="458.5,99.5 465.5,99.5 466.5,96.5 458.5,96.5" fill="#ff0001" stroke="#ff0001"/>
<polygon points="465.5,99.5 472.5,99.5 473.5,96.5 466.5,96.5" fill="#ff0000" stroke="#ff0000"/>
<polygon points="295.5,107.5 303.5,106.5 303.5,103.5 296.5,104.5" fill="#002bff" stroke="#002bff"/>
<polygon points="472.5,99.5 479.5,99.5 480.5,96.5 473.5,96.5" fill="#ff0000" stroke="#ff0000"/>
<polygon points="479.5,99.5 486.5,99.5 487.5,96.5 480.5,96.5" fill="#ff0000" stroke="#ff0000"/>
<polygon points="303.5,106.5 310.5,106.5 310.5,103.5 303.5,103.5" fill="#0000ff" stroke="#0000ff"/>
<polygon points="486.5,99.5 494.5,99.5 494.5,96.5 487.5,96.5" fill="#ff0000" stroke="#ff0000"/>
<polygon points="310.5,106.5 317.5,105.5 317.5,102.5 310.5,103.5" fill="#2700ff" stroke="#2700ff"/>
<polygon points="317.5,105.5 324.5,105.5 324.5,102.5 317.5,102.5" fill="#4d00ff" stroke="#4d00ff"/>
<polygon points="324.5,105.5 331.5,105.5 331.5,102.5 324.5,102.5" fill="#7000ff" stroke="#7000ff"/>
<polygon points="331.5,105.5 338.5,104.5 338.5,101.5 331.5,102.5" fill="#9200ff" stroke="#9200ff"/>
<polygon points="338.5,104.5 345.5,104.5 345.5,101.5 338.5,101.5" fill="#b100ff" stroke="#b100ff"/>
<polygon points="345.5,104.5 352.5,104.5 352.5,101.5 345.5,101.5" fill="#ce00ff" stroke="#ce00ff"/>
<polygon points="352.5,104.5 359.5,103.5 359.5,100.5 352.5,101.5" fill="#ea00ff" stroke="#ea00ff"/>
<polygon points="359.5,103.5 366.5,103.5 366.5,100.5 359.5,100.5" fill="#ff00fa" stroke="#ff00fa"/>
<polygon points="232.5,115.5 239.5,116.5 239.5,112.5 232.5,112.5" fill="#00ff71" stroke="#00ff71"/>
<polygon points="239.5,116.5 246.5,115.5 246.5,112.5 239.5,112.5" fill="#00ff63" stroke="#00ff63"/>
<polygon points="366.5,103.5 373.5,103.5 373.5,100.5 366.5,100.5" fill="#ff00e1" stroke="#ff00e1"/>
<polygon points="225.5,112.5 232.5,115.5 232.5,112.5 225.5,109.5" fill="#00ffc0" stroke="#00ffc0"/>
<polygon points="246.5,115.5 253.5,115.5 253.5,112.5 246.5,112.5" fill="#00ff77" stroke="#00ff77"/>
<polygon points="373.5,103.5 380.5,103.5 380.5,100.5 373.5,100.5" fill="#ff00ca" stroke="#ff00ca"/>
<polygon points="380.5,103.5 387.5,103.5 388.5,100.5 380.5,100.5" fill="#ff00b4" stroke="#ff00b4"/>
<polygon points="253.5,115.5 260.5,114.5 260.5,111.5 253.5,112.5" fill="#00ff9e" stroke="#00ff9e"/>
<polygon points="387.5,103.5 394.5,103.5 395.5,100.5 388.5,100.5" fill="#ff00a0" stroke="#ff00a0"/>
<polygon points="217.5,108.5 225.5,112.5 225.5,109.5 218.5,105.5" fill="#007dff" stroke="#007dff"/>
<polygon points="394.5,103.5 401.5,102.5 402.5,100.5 395.5,100.5" fill="#ff008c" stroke="#ff008c"/>
<polygon points="260.5,114.5 267.5,113.5 267.5,110.5 260.5,111.5" fill="#00ffcd" stroke="#00ffcd"/>
<polygon points="401.5,102.5 408.5,102.5 409.5,99.5 402.5,100.5" fill="#ff0079" stroke="#ff0079"/>
<polygon points="154.5,102.5 161.5,102.5 161.5,99.5 154.5,99.5" fill="#ff0000" stroke="#ff0000"/>
<polygon points="408.5,102.5 416.5,102.5 416.5,99.5 409.5,99.5" fill="#ff0068" stroke="#ff0068"/>
<polygon points="267.5,113.5 274.5,112.5 274.5,109.5 267.5,110.5" fill="#00ffff" stroke="#00ffff"/>
<polygon points="161.5,102.5 168.5,102.5 168.5,99.5 161.5,99.5" fill="#ff0000" stroke="#ff0000"/>
<polygon points="416.5,102.5 423.5,102.5 423.5,99.5 416.5,99.5" fill="#ff0057" stroke="#ff0057"/>
<polygon points="168.5,102.5 175.5,102.5 175.5,99.5 168.5,99.5" fill="#ff0000" stroke="#ff0000"/>
<polygon points="423.5,102.5 430.5,102.5 430.5,99.5 423.5,99.5" fill="#ff0047" stroke="#ff0047"/>
<polygon points="175.5,102.5 182.5,102.5 182.5,99.5 175.5,99.5" fill="#ff0000" stroke="#ff0000"/>
<polygon points="274.5,112.5 281.5,111.5 281.5,108.5 274.5,109.5" fill="#00ccff" stroke="#00ccff"/>
<polygon points="210.5,102.5 217.5,108.5 218.5,105.5 211.5,100.5" fill="#ff00fa" stroke="#ff00fa"/>
<polygon points="430.5,102.5 437.5,102.5 437.5,99.5 430.5,99.5" fill="#ff0038" stroke="#ff0038"/>
<polygon points="182.5,102.5 189.5,102.5 190.5,99.5 182.5,99.5" fill="#ff0000" stroke="#ff0000"/>
<polygon points="189.5,102.5 196.5,102.5 197.5,100.5 190.5,99.5" fill="#ff0000" stroke="#ff0000"/>
<polygon points="437.5,102.5 444.5,102.5 444.5,99.5 437.5,99.5" fill="#ff002a" stroke="#ff002a"/>
<polygon points="281.5,111.5 288.5,111.5 288.5,108.5 281.5,108.5" fill="#009aff" stroke="#009aff"/>
<polygon points="196.5,102.5 203.5,102.5 204.5,100.5 197.5,100.5" fill="#ff0000" stroke="#ff0000"/>
<polygon points="444.5,102.5 451.5,102.5 451.5,99.5 444.5,99.5" fill="#ff001c" stroke="#ff001c"/>
<polygon points="203.5,102.5 210.5,102.5 211.5,100.5 204.5,100.5" fill="#ff0000" stroke="#ff0000"/>
<polygon points="451.5,102.5 458.5,102.5 458.5,99.5 451.5,99.5" fill="#ff000f" stroke="#ff000f"/>
<polygon points="288.5,111.5 295.5,110.5 295.5,107.5 288.5,108.5" fill="#006aff" stroke="#006aff"/>
<polygon points="458.5,102.5 465.5,102.5 465.5,99.5 458.5,99.5" fill="#ff0004" stroke="#ff0004"/>
<polygon points="465.5,102.5 472.5,102.5 472.5,99.5 465.5,99.5" fill="#ff0000" stroke="#ff0000"/>
<polygon points="295.5,110.5 302.5,109.5 303.5,106.5 295.5,107.5" fill="#003dff" stroke="#003dff"/>
<polygon points="472.5,102.5 479.5,102.5 479.5,99.5 472.5,99.5" fill="#ff0000" stroke="#ff0000"/>
<polygon points="479.5,102.5 486.5,102.5 486.5,99.5 479.5,99.5" fill="#ff0000" stroke="#ff0000"/>
<polygon points="302.5,109.5 309.5,109.5 310.5,106.5 303.5,106.5" fill="#0012ff" stroke="#0012ff"/>
<polygon points="486.5,102.5 493.5,102.5 494.5,99.5 486.5,99.5" fill="#ff0000" stroke="#ff0000"/>
<polygon points="309.5,109.5 316.5,108.5 317.5,105.5 310.5,106.5" fill="#1700ff" stroke="#1700ff"/>
<polygon points="316.5,108.5 323.5,108.5 324.5,105.5 317.5,105.5" fill="#3d00ff" stroke="#3d00ff"/>
<polygon points="323.5,108.5 330.5,108.5 331.5,105.5 324.5,105.5" fill="#6100ff" stroke="#6100ff"/>
<polygon points="330.5,108.5 338.5,107.5 338.5,104.5 331.5,105.5" fill="#8300ff" stroke="#8300ff"/>
<polygon points="338.5,107.5 345.5,107.5 345.5,104.5 338.5,104.5" fill="#a300ff" stroke="#a300ff"/>
<polygon points="345.5,107.5 352.5,107.5 352.5,104.5 345.5,104.5" fill="#c100ff" stroke="#c100ff"/>
<polygon points="352.5,107.5 359.5,106.5 359.5,103.5 352.5,104.5" fill="#dd00ff" stroke="#dd00ff"/>
<polygon points="359.5,106.5 366.5,106.5 366.5,103.5 359.5,103.5" fill="#f700ff" stroke="#f700ff"/>
<polygon points="231.5,118.5 238.5,119.5 239.5,116.5 232.5,115.5" fill="#00ff65" stroke="#00ff65"/>
<polygon points="238.5,119.5 245.5,119.5 246.5,115.5 239.5,116.5" fill="#00ff52" stroke="#00ff52"/>
<polygon points="366.5,106.5 373.5,106.5 373.5,103.5 366.5,103.5" fill="#ff00ed" stroke="#ff00ed"/>
<polygon points="224.5,115.5 231.5,118.5 232.5,115.5 225.5,112.5" fill="#00ffbc" stroke="#00ffbc"/>
<polygon points="245.5,119.5 252.5,118.5 253.5,115.5 246.5,115.5" fill="#00ff64" stroke="#00ff64"/>
<polygon points="373.5,106.5 380.5,106.5 380.5,103.5 373.5,103.5" fill="#ff00d6" stroke="#ff00d6"/>
<polygon points="380.5,106.5 387.5,106.5 387.5,103.5 380.5,103.5" fill="#ff00bf" stroke="#ff00bf"/>
<polygon points="252.5,118.5 260.5,117.5 260.5,114.5 253.5,115.5" fill="#00ff89" stroke="#00ff89"/>
<polygon points="387.5,106.5 394.5,106.5 394.5,103.5 387.5,103.5" fill="#ff00aa" stroke="#ff00aa"/>
<polygon points="217.5,110.5 224.5,115.5 225.5,112.5 217.5,108.5" fill="#0071ff" stroke="#0071ff"/>
<polygon points="394.5,106.5 401.5,105.5 401.5,102.5 394.5,103.5" fill="#ff0096" stroke="#ff0096"/>
<polygon points="260.5,117.5 267.5,116.5 267.5,113.5 260.5,114.5" fill="#00ffb8" stroke="#00ffb8"/>
<polygon points="401.5,105.5 408.5,105.5 408.5,102.5 401.5,102.5" fill="#ff0083" stroke="#ff0083"/>
<polygon points="408.5,105.5 415.5,105.5 416.5,102.5 408.5,102.5" fill="#ff0071" stroke="#ff0071"/>
<polygon points="154.5,105.5 161.5,105.5 161.5,102.5 154.5,102.5" fill="#ff0000" stroke="#ff0000"/>
<polygon points="267.5,116.5 274.5,115.5 274.5,112.5 267.5,113.5" fill="#00ffeb" stroke="#00ffeb"/>
<polygon points="161.5,105.5 168.5,105.5 168.5,102.5 161.5,102.5" fill="#ff0000" stroke="#ff0000"/>
<polygon points="415.5,105.5 422.5,105.5 423.5,102.5 416.5,102.5" fill="#ff0060" stroke="#ff0060"/>
<polygon points="168.5,105.5 175.5,105.5 175.5,102.5 168.5,102.5" fill="#ff0000" stroke="#ff0000"/>
<polygon points="422.5,105.5 429.5,105.5 430.5,102.5 423.5,102.5" fill="#ff0050" stroke="#ff0050"/>
<polygon points="274.5,115.5 281.5,115.5 281.5,111.5 274.5,112.5" fill="#00e0ff" stroke="#00e0ff"/>
<polygon points="175.5,105.5 182.5,105.5 182.5,102.5 175.5,102.5" fill="#ff0000" stroke="#ff0000"/>
<polygon points="429.5,105.5 436.5,105.5 437.5,102.5 430.5,102.5" fill="#ff0041" stroke="#ff0041"/>
<polygon points="210.5,105.5 217.5,110.5 217.5,108.5 210.5,102.5" fill="#ff00f0" stroke="#ff00f0"/>
<polygon points="182.5,105.5 189.5,105.5 189.5,102.5 182.5,102.5" fill="#ff0000" stroke="#ff0000"/>
<polygon points="436.5,105.5 443.5,105.5 444.5,102.5 437.5,102.5" fill="#ff0032" stroke="#ff0032"/>
<polygon points="189.5,105.5 196.5,105.5 196.5,102.5 189.5,102.5" fill="#ff0000" stroke="#ff0000"/>
<polygon points="281.5,115.5 288.5,114.5 288.5,111.5 281.5,111.5" fill="#00aeff" stroke="#00aeff"/>
<polygon points="196.5,105.5 203.5,105.5 203.5,102.5 196.5,102.5" fill="#ff0000" stroke="#ff0000"/>
<polygon points="443.5,105.5 451.5,105.5 451.5,102.5 444.5,102.5" fill="#ff0024" stroke="#ff0024"/>
<polygon points="203.5,105.5 210.5,105.5 210.5,102.5 203.5,102.5" fill="#ff0000" stroke="#ff0000"/>
<polygon points="288.5,114.5 295.5,113.5 295.5,110.5 288.5,111.5" fill="#007dff" stroke="#007dff"/>
<polygon points="451.5,105.5 458.5,105.5 458.5,102.5 451.5,102.5" fill="#ff0017" stroke="#ff0017"/>
<polygon points="458.5,105.5 465.5,105.5 465.5,102.5 458.5,102.5" fill="#ff000a" stroke="#ff000a"/>
<polygon points="295.5,113.5 302.5,113.5 302.5,109.5 295.5,110.5" fill="#004fff" stroke="#004fff"/>
<polygon points="465.5,105.5 472.5,105.5 472.5,102.5 465.5,102.5" fill="#ff0002" stroke="#ff0002"/>
<polygon points="472.5,105.5 479.5,105.5 479.5,102.5 472.5,102.5" fill="#ff0000" stroke="#ff0000"/>
<polygon points="302.5,113.5 309.5,112.5 309.5,109.5 302.5,109.5" fill="#0023ff" stroke="#0023ff"/>
<polygon points="479.5,105.5 486.5,105.5 486.5,102.5 479.5,102.5" fill="#ff0000" stroke="#ff0000"/>
<polygon points="486.5,105.5 493.5,105.5 493.5,102.5 486.5,102.5" fill="#ff0000" stroke="#ff0000"/>
<polygon points="309.5,112.5 316.5,112.5 316.5,108.5 309.5,109.5" fill="#0600ff" stroke="#0600ff"/>
<polygon points="316.5,112.5 323.5,111.5 323.5,108.5 316.5,108.5" fill="#2d00ff" stroke="#2d00ff"/>
<polygon points="323.5,111.5 330.5,111.5 330.5,108.5 323.5,108.5" fill="#5100ff" stroke="#5100ff"/>
<polygon points="330.5,111.5 337.5,110.5 338.5,107.5 330.5,108.5" fill="#7400ff" stroke="#7400ff"/>
<polygon points="337.5,110.5 344.5,110.5 345.5,107.5 338.5,107.5" fill="#9400ff" stroke="#9400ff"/>
<polygon points="344.5,110.5 351.5,110.5 352.5,107.5 345.5,107.5" fill="#b300ff" stroke="#b300ff"/>
<polygon points="351.5,110.5 358.5,109.5 359.5,106.5 352.5,107.5" fill="#cf00ff" stroke="#cf00ff"/>
<polygon points="358.5,109.5 365.5,109.5 366.5,106.5 359.5,106.5" fill="#eb00ff" stroke="#eb00ff"/>
<polygon points="231.5,121.5 238.5,122.5 238.5,119.5 231.5,118.5" fill="#00ff5a" stroke="#00ff5a"/>
<polygon points="238.5,122.5 245.5,122.5 245.5,119.5 238.5,119.5" fill="#00ff41" stroke="#00ff41"/>
<polygon points="365.5,109.5 373.5,109.5 373.5,106.5 366.5,106.5" fill="#ff00fa" stroke="#ff00fa"/>
<polygon points="245.5,122.5 252.5,121.5 252.5,118.5 245.5,119.5" fill="#00ff50" stroke="#00ff50"/>
<polygon points="224.5,118.5 231.5,121.5 231.5,118.5 224.5,115.5" fill="#00ffb9" stroke="#00ffb9"/>
<polygon points="373.5,109.5 380.5,109.5 380.5,106.5 373.5,106.5" fill="#ff00e2" stroke="#ff00e2"/>
<polygon points="252.5,121.5 259.5,121.5 260.5,117.5 252.5,118.5" fill="#00ff74" stroke="#00ff74"/>
<polygon points="380.5,109.5 387.5,109.5 387.5,106.5 380.5,106.5" fill="#ff00cb" stroke="#ff00cb"/>
<polygon points="387.5,109.5 394.5,109.5 394.5,106.5 387.5,106.5" fill="#ff00b5" stroke="#ff00b5"/>
<polygon points="259.5,121.5 266.5,120.5 267.5,116.5 260.5,117.5" fill="#00ffa3" stroke="#00ffa3"/>
<polygon points="394.5,109.5 401.5,108.5 401.5,105.5 394.5,106.5" fill="#ff00a1" stroke="#ff00a1"/>
<polygon points="217.5,113.5 224.5,118.5 224.5,115.5 217.5,110.5" fill="#0064ff" stroke="#0064ff"/>
<polygon points="401.5,108.5 408.5,108.5 408.5,105.5 401.5,105.5" fill="#ff008e" stroke="#ff008e"/>
<polygon points="266.5,120.5 273.5,119.5 274.5,115.5 267.5,116.5" fill="#00ffd5" stroke="#00ffd5"/>
<polygon points="408.5,108.5 415.5,108.5 415.5,105.5 408.5,105.5" fill="#ff007b" stroke="#ff007b"/>
<polygon points="153.5,108.5 160.5,108.5 161.5,105.5 154.5,105.5" fill="#ff0000" stroke="#ff0000"/>
<polygon points="160.5,108.5 167.5,108.5 168.5,105.5 161.5,105.5" fill="#ff0000" stroke="#ff0000"/>
<polygon points="415.5,108.5 422.5,108.5 422.5,105.5 415.5,105.5" fill="#ff006a" stroke="#ff006a"/>
<polygon points="167.5,108.5 174.5,108.5 175.5,105.5 168.5,105.5" fill="#ff0000" stroke="#ff0000"/>
<polygon points="273.5,119.5 280.5,118.5 281.5,115.5 274.5,115.5" fill="#00f5ff" stroke="#00f5ff"/>
<polygon points="422.5,108.5 429.5,108.5 429.5,105.5 422.5,105.5" fill="#ff0059" stroke="#ff0059"/>
<polygon points="174.5,108.5 182.5,108.5 182.5,105.5 175.5,105.5" fill="#ff0000" stroke="#ff0000"/>
<polygon points="429.5,108.5 436.5,108.5 436.5,105.5 429.5,105.5" fill="#ff0049" stroke="#ff0049"/>
<polygon points="182.5,108.5 189.5,108.5 189.5,105.5 182.5,105.5" fill="#ff0000" stroke="#ff0000"/>
<polygon points="210.5,108.5 217.5,113.5 217.5,110.5 210.5,105.5" fill="#ff00e4" stroke="#ff00e4"/>
<polygon points="280.5,118.5 287.5,117.5 288.5,114.5 281.5,115.5" fill="#00c2ff" stroke="#00c2ff"/>
<polygon points="436.5,108.5 443.5,108.5 443.5,105.5 436.5,105.5" fill="#ff003a" stroke="#ff003a"/>
<polygon points="189.5,108.5 196.5,108.5 196.5,105.5 189.5,105.5" fill="#ff0000" stroke="#ff0000"/>
<polygon points="196.5,108.5 203.5,108.5 203.5,105.5 196.5,105.5" fill="#ff0000" stroke="#ff0000"/>
<polygon points="443.5,108.5 450.5,108.5 451.5,105.5 443.5,105.5" fill="#ff002c" stroke="#ff002c"/>
<polygon points="287.5,117.5 295.5,116.5 295.5,113.5 288.5,114.5" fill="#0091ff" stroke="#0091ff"/>
<polygon points="203.5,108.5 210.5,108.5 210.5,105.5 203.5,105.5" fill="#ff0000" stroke="#ff0000"/>
<polygon points="450.5,108.5 457.5,108.5 458.5,105.5 451.5,105.5" fill="#ff001f" stroke="#ff001f"/>
<polygon points="457.5,108.5 464.5,108.5 465.5,105.5 458.5,105.5" fill="#ff0012" stroke="#ff0012"/>
<polygon points="295.5,116.5 302.5,116.5 302.5,113.5 295.5,113.5" fill="#0062ff" stroke="#0062ff"/>
<polygon points="464.5,108.5 471.5,108.5 472.5,105.5 465.5,105.5" fill="#ff0006" stroke="#ff0006"/>
<polygon points="471.5,108.5 478.5,108.5 479.5,105.5 472.5,105.5" fill="#ff0001" stroke="#ff0001"/>
<polygon points="302.5,116.5 309.5,115.5 309.5,112.5 302.5,113.5" fill="#0036ff" stroke="#0036ff"/>
<polygon points="478.5,108.5 486.5,108.5 486.5,105.5 479.5,105.5" fill="#ff0000" stroke="#ff0000"/>
<polygon points="486.5,108.5 493.5,108.5 493.5,105.5 486.5,105.5" fill="#ff0000" stroke="#ff0000"/>
<polygon points="309.5,115.5 316.5,115.5 316.5,112.5 309.5,112.5" fill="#000cff" stroke="#000cff"/>
<polygon points="316.5,115.5 323.5,114.5 323.5,111.5 316.5,112.5" fill="#1c00ff" stroke="#1c00ff"/>
<polygon points="323.5,114.5 330.5,114.5 330.5,111.5 323.5,111.5" fill="#4100ff" stroke="#4100ff"/>
<polygon points="330.5,114.5 337.5,113.5 337.5,110.5 330.5,111.5" fill="#6400ff" stroke="#6400ff"/>
<polygon points="337.5,113.5 344.5,113.5 344.5,110.5 337.5,110.5" fill="#8500ff" stroke="#8500ff"/>
<polygon points="344.5,113.5 351.5,113.5 351.5,110.5 344.5,110.5" fill="#a400ff" stroke="#a400ff"/>
<polygon points="351.5,113.5 358.5,113.5 358.5,109.5 351.5,110.5" fill="#c100ff" stroke="#c100ff"/>
<polygon points="238.5,125.5 245.5,125.5 245.5,122.5 238.5,122.5" fill="#00ff30" stroke="#00ff30"/>
<polygon points="231.5,124.5 238.5,125.5 238.5,122.5 231.5,121.5" fill="#00ff4e" stroke="#00ff4e"/>
<polygon points="358.5,113.5 365.5,112.5 365.5,109.5 358.5,109.5" fill="#dd00ff" stroke="#dd00ff"/>
<polygon points="245.5,125.5 252.5,125.5 252.5,121.5 245.5,122.5" fill="#00ff3c" stroke="#00ff3c"/>
<polygon points="365.5,112.5 372.5,112.5 373.5,109.5 365.5,109.5" fill="#f700ff" stroke="#f700ff"/>
<polygon points="224.5,120.5 231.5,124.5 231.5,121.5 224.5,118.5" fill="#00ffb8" stroke="#00ffb8"/>
<polygon points="372.5,112.5 379.5,112.5 380.5,109.5 373.5,109.5" fill="#ff00ee" stroke="#ff00ee"/>
<polygon points="252.5,125.5 259.5,124.5 259.5,121.5 252.5,121.5" fill="#00ff5f" stroke="#00ff5f"/>
<polygon points="379.5,112.5 386.5,112.5 387.5,109.5 380.5,109.5" fill="#ff00d7" stroke="#ff00d7"/>
<polygon points="386.5,112.5 393.5,112.5 394.5,109.5 387.5,109.5" fill="#ff00c1" stroke="#ff00c1"/>
<polygon points="259.5,124.5 266.5,123.5 266.5,120.5 259.5,121.5" fill="#00ff8d" stroke="#00ff8d"/>
<polygon points="393.5,112.5 400.5,111.5 401.5,108.5 394.5,109.5" fill="#ff00ac" stroke="#ff00ac"/>
<polygon points="217.5,115.5 224.5,120.5 224.5,118.5 217.5,113.5" fill="#0054ff" stroke="#0054ff"/>
<polygon points="400.5,111.5 408.5,111.5 408.5,108.5 401.5,108.5" fill="#ff0098" stroke="#ff0098"/>
<polygon points="266.5,123.5 273.5,122.5 273.5,119.5 266.5,120.5" fill="#00ffbf" stroke="#00ffbf"/>
<polygon points="408.5,111.5 415.5,111.5 415.5,108.5 408.5,108.5" fill="#ff0086" stroke="#ff0086"/>
<polygon points="153.5,111.5 160.5,111.5 160.5,108.5 153.5,108.5" fill="#ff0000" stroke="#ff0000"/>
<polygon points="415.5,111.5 422.5,111.5 422.5,108.5 415.5,108.5" fill="#ff0074" stroke="#ff0074"/>
<polygon points="160.5,111.5 167.5,111.5 167.5,108.5 160.5,108.5" fill="#ff0000" stroke="#ff0000"/>
<polygon points="273.5,122.5 280.5,121.5 280.5,118.5 273.5,119.5" fill="#00fff3" stroke="#00fff3"/>
<polygon points="167.5,111.5 174.5,111.5 174.5,108.5 167.5,108.5" fill="#ff0000" stroke="#ff0000"/>
<polygon points="422.5,111.5 429.5,111.5 429.5,108.5 422.5,108.5" fill="#ff0063" stroke="#ff0063"/>
<polygon points="174.5,111.5 181.5,111.5 182.5,108.5 174.5,108.5" fill="#ff0000" stroke="#ff0000"/>
<polygon points="429.5,111.5 436.5,111.5 436.5,108.5 429.5,108.5" fill="#ff0053" stroke="#ff0053"/>
<polygon points="280.5,121.5 287.5,120.5 287.5,117.5 280.5,118.5" fill="#00d7ff" stroke="#00d7ff"/>
<polygon points="181.5,111.5 188.5,111.5 189.5,108.5 182.5,108.5" fill="#ff0000" stroke="#ff0000"/>
<polygon points="210.5,111.5 217.5,115.5 217.5,113.5 210.5,108.5" fill="#ff00d6" stroke="#ff00d6"/>
<polygon points="436.5,111.5 443.5,111.5 443.5,108.5 436.5,108.5" fill="#ff0043" stroke="#ff0043"/>
<polygon points="188.5,111.5 195.5,111.5 196.5,108.5 189.5,108.5" fill="#ff0000" stroke="#ff0000"/>
<polygon points="443.5,111.5 450.5,111.5 450.5,108.5 443.5,108.5" fill="#ff0035" stroke="#ff0035"/>
<polygon points="195.5,111.5 202.5,111.5 203.5,108.5 196.5,108.5" fill="#ff0000" stroke="#ff0000"/>
<polygon points="287.5,120.5 294.5,120.5 295.5,116.5 287.5,117.5" fill="#00a6ff" stroke="#00a6ff"/>
<polygon points="202.5,111.5 210.5,111.5 210.5,108.5 203.5,108.5" fill="#ff0000" stroke="#ff0000"/>
<polygon points="450.5,111.5 457.5,111.5 457.5,108.5 450.5,108.5" fill="#ff0027" stroke="#ff0027"/>
<polygon points="457.5,111.5 464.5,111.5 464.5,108.5 457.5,108.5" fill="#ff001a" stroke="#ff001a"/>
<polygon points="294.5,120.5 301.5,119.5 302.5,116.5 295.5,116.5" fill="#0076ff" stroke="#0076ff"/>
<polygon points="464.5,111.5 471.5,110.5 471.5,108.5 464.5,108.5" fill="#ff000d" stroke="#ff000d"/>
<polygon points="301.5,119.5 308.5,118.5 309.5,115.5 302.5,116.5" fill="#0049ff" stroke="#0049ff"/>
<polygon points="471.5,110.5 478.5,110.5 478.5,108.5 471.5,108.5" fill="#ff0004" stroke="#ff0004"/>
<polygon points="478.5,110.5 485.5,110.5 486.5,108.5 478.5,108.5" fill="#ff0000" stroke="#ff0000"/>
<polygon points="308.5,118.5 315.5,118.5 316.5,115.5 309.5,115.5" fill="#001eff" stroke="#001eff"/>
<polygon points="485.5,110.5 492.5,111.5 493.5,108.5 486.5,108.5" fill="#ff0000" stroke="#ff0000"/>
<polygon points="315.5,118.5 322.5,117.5 323.5,114.5 316.5,115.5" fill="#0a00ff" stroke="#0a00ff"/>
<polygon points="322.5,117.5 330.5,117.5 330.5,114.5 323.5,114.5" fill="#3000ff" stroke="#3000ff"/>
<polygon points="330.5,117.5 337.5,116.5 337.5,113.5 330.5,114.5" fill="#5300ff" stroke="#5300ff"/>
<polygon points="337.5,116.5 344.5,116.5 344.5,113.5 337.5,113.5" fill="#7500ff" stroke="#7500ff"/>
<polygon points="344.5,116.5 351.5,116.5 351.5,113.5 344.5,113.5" fill="#9500ff" stroke="#9500ff"/>
<polygon points="351.5,116.5 358.5,116.5 358.5,113.5 351.5,113.5" fill="#b300ff" stroke="#b300ff"/>
<polygon points="237.5,128.5 245.5,129.5 245.5,125.5 238.5,125.5" fill="#00ff1f" stroke="#00ff1f"/>
<polygon points="230.5,127.5 237.5,128.5 238.5,125.5 231.5,124.5" fill="#00ff43" stroke="#00ff43"/>
<polygon points="358.5,116.5 365.5,115.5 365.5,112.5 358.5,113.5" fill="#cf00ff" stroke="#cf00ff"/>
<polygon points="245.5,129.5 252.5,128.5 252.5,125.5 245.5,125.5" fill="#00ff28" stroke="#00ff28"/>
<polygon points="365.5,115.5 372.5,115.5 372.5,112.5 365.5,112.5" fill="#e900ff" stroke="#e900ff"/>
<polygon points="223.5,123.5 230.5,127.5 231.5,124.5 224.5,120.5" fill="#00ffb8" stroke="#00ffb8"/>
<polygon points="372.5,115.5 379.5,115.5 379.5,112.5 372.5,112.5" fill="#ff00fb" stroke="#ff00fb"/>
<polygon points="252.5,128.5 259.5,127.5 259.5,124.5 252.5,125.5" fill="#00ff49" stroke="#00ff49"/>
<polygon points="379.5,115.5 386.5,115.5 386.5,112.5 379.5,112.5" fill="#ff00e4" stroke="#ff00e4"/>
<polygon points="259.5,127.5 266.5,126.5 266.5,123.5 259.5,124.5" fill="#00ff76" stroke="#00ff76"/>
<polygon points="386.5,115.5 393.5,114.5 393.5,112.5 386.5,112.5" fill="#ff00cd" stroke="#ff00cd"/>
<polygon points="393.5,114.5 400.5,114.5 400.5,111.5 393.5,112.5" fill="#ff00b8" stroke="#ff00b8"/>
<polygon points="266.5,126.5 273.5,125.5 273.5,122.5 266.5,123.5" fill="#00ffa8" stroke="#00ffa8"/>
<polygon points="400.5,114.5 407.5,114.5 408.5,111.5 400.5,111.5" fill="#ff00a4" stroke="#ff00a4"/>
<polygon points="216.5,118.5 223.5,123.5 224.5,120.5 217.5,115.5" fill="#0040ff" stroke="#0040ff"/>
<polygon points="407.5,114.5 414.5,114.5 415.5,111.5 408.5,111.5" fill="#ff0090" stroke="#ff0090"/>
<polygon points="153.5,113.5 160.5,114.5 160.5,111.5 153.5,111.5" fill="#ff0000" stroke="#ff0000"/>
<polygon points="414.5,114.5 421.5,114.5 422.5,111.5 415.5,111.5" fill="#ff007e" stroke="#ff007e"/>
<polygon points="273.5,125.5 280.5,124.5 280.5,121.5 273.5,122.5" fill="#00ffdd" stroke="#00ffdd"/>
<polygon points="160.5,114.5 167.5,114.5 167.5,111.5 160.5,111.5" fill="#ff0000" stroke="#ff0000"/>
<polygon points="167.5,114.5 174.5,114.5 174.5,111.5 167.5,111.5" fill="#ff0000" stroke="#ff0000"/>
<polygon points="421.5,114.5 428.5,114.5 429.5,111.5 422.5,111.5" fill="#ff006d" stroke="#ff006d"/>
<polygon points="174.5,114.5 181.5,114.5 181.5,111.5 174.5,111.5" fill="#ff0000" stroke="#ff0000"/>
<polygon points="428.5,114.5 436.5,114.5 436.5,111.5 429.5,111.5" fill="#ff005c" stroke="#ff005c"/>
<polygon points="280.5,124.5 287.5,123.5 287.5,120.5 280.5,121.5" fill="#00edff" stroke="#00edff"/>
<polygon points="181.5,114.5 188.5,114.5 188.5,111.5 181.5,111.5" fill="#ff0000" stroke="#ff0000"/>
<polygon points="436.5,114.5 443.5,114.5 443.5,111.5 436.5,111.5" fill="#ff004d" stroke="#ff004d"/>
<polygon points="209.5,114.5 216.5,118.5 217.5,115.5 210.5,111.5" fill="#ff00c7" stroke="#ff00c7"/>
<polygon points="188.5,114.5 195.5,114.5 195.5,111.5 188.5,111.5" fill="#ff0000" stroke="#ff0000"/>
<polygon points="287.5,123.5 294.5,123.5 294.5,120.5 287.5,120.5" fill="#00bbff" stroke="#00bbff"/>
<polygon points="443.5,114.5 450.5,114.5 450.5,111.5 443.5,111.5" fill="#ff003e" stroke="#ff003e"/>
<polygon points="195.5,114.5 202.5,114.5 202.5,111.5 195.5,111.5" fill="#ff0000" stroke="#ff0000"/>
<polygon points="450.5,114.5 457.5,114.5 457.5,111.5 450.5,111.5" fill="#ff0030" stroke="#ff0030"/>
<polygon points="202.5,114.5 209.5,114.5 210.5,111.5 202.5,111.5" fill="#ff0000" stroke="#ff0000"/>
<polygon points="294.5,123.5 301.5,122.5 301.5,119.5 294.5,120.5" fill="#008bff" stroke="#008bff"/>
<polygon points="457.5,114.5 464.5,113.5 464.5,111.5 457.5,111.5" fill="#ff0022" stroke="#ff0022"/>
<polygon points="464.5,113.5 471.5,113.5 471.5,110.5 464.5,111.5" fill="#ff0015" stroke="#ff0015"/>
<polygon points="301.5,122.5 308.5,121.5 308.5,118.5 301.5,119.5" fill="#005dff" stroke="#005dff"/>
<polygon points="471.5,113.5 478.5,113.5 478.5,110.5 471.5,110.5" fill="#ff0009" stroke="#ff0009"/>
<polygon points="478.5,113.5 485.5,113.5 485.5,110.5 478.5,110.5" fill="#ff0002" stroke="#ff0002"/>
<polygon points="308.5,121.5 315.5,121.5 315.5,118.5 308.5,118.5" fill="#0032ff" stroke="#0032ff"/>
<polygon points="485.5,113.5 492.5,113.5 492.5,111.5 485.5,110.5" fill="#ff0000" stroke="#ff0000"/>
<polygon points="315.5,121.5 322.5,120.5 322.5,117.5 315.5,118.5" fill="#0009ff" stroke="#0009ff"/>
<polygon points="322.5,120.5 329.5,120.5 330.5,117.5 322.5,117.5" fill="#1e00ff" stroke="#1e00ff"/>
<polygon points="329.5,120.5 336.5,120.5 337.5,116.5 330.5,117.5" fill="#4200ff" stroke="#4200ff"/>
<polygon points="336.5,120.5 343.5,119.5 344.5,116.5 337.5,116.5" fill="#6400ff" stroke="#6400ff"/>
<polygon points="343.5,119.5 350.5,119.5 351.5,116.5 344.5,116.5" fill="#8500ff" stroke="#8500ff"/>
<polygon points="350.5,119.5 358.5,119.5 358.5,116.5 351.5,116.5" fill="#a300ff" stroke="#a300ff"/>
<polygon points="237.5,132.5 244.5,132.5 245.5,129.5 237.5,128.5" fill="#00ff0e" stroke="#00ff0e"/>
<polygon points="230.5,130.5 237.5,132.5 237.5,128.5 230.5,127.5" fill="#00ff39" stroke="#00ff39"/>
<polygon points="358.5,119.5 365.5,118.5 365.5,115.5 358.5,116.5" fill="#c000ff" stroke="#c000ff"/>
<polygon points="244.5,132.5 251.5,132.5 252.5,128.5 245.5,129.5" fill="#00ff13" stroke="#00ff13"/>
<polygon points="365.5,118.5 372.5,118.5 372.5,115.5 365.5,115.5" fill="#db00ff" stroke="#db00ff"/>
<polygon points="251.5,132.5 258.5,131.5 259.5,127.5 252.5,128.5" fill="#00ff32" stroke="#00ff32"/>
<polygon points="372.5,118.5 379.5,118.5 379.5,115.5 372.5,115.5" fill="#f500ff" stroke="#f500ff"/>
<polygon points="223.5,126.5 230.5,130.5 230.5,127.5 223.5,123.5" fill="#00ffba" stroke="#00ffba"/>
<polygon points="379.5,118.5 386.5,118.5 386.5,115.5 379.5,115.5" fill="#ff00f1" stroke="#ff00f1"/>
<polygon points="258.5,131.5 265.5,130.5 266.5,126.5 259.5,127.5" fill="#00ff5e" stroke="#00ff5e"/>
<polygon points="386.5,118.5 393.5,117.5 393.5,114.5 386.5,115.5" fill="#ff00da" stroke="#ff00da"/>
<polygon points="393.5,117.5 400.5,117.5 400.5,114.5 393.5,114.5" fill="#ff00c4" stroke="#ff00c4"/>
<polygon points="265.5,130.5 272.5,129.5 273.5,125.5 266.5,126.5" fill="#00ff91" stroke="#00ff91"/>
<polygon points="400.5,117.5 407.5,117.5 407.5,114.5 400.5,114.5" fill="#ff00af" stroke="#ff00af"/>
<polygon points="216.5,120.5 223.5,126.5 223.5,123.5 216.5,118.5" fill="#0029ff" stroke="#0029ff"/>
<polygon points="407.5,117.5 414.5,117.5 414.5,114.5 407.5,114.5" fill="#ff009c" stroke="#ff009c"/>
<polygon points="152.5,116.5 159.5,116.5 160.5,114.5 153.5,113.5" fill="#ff0000" stroke="#ff0000"/>
<polygon points="272.5,129.5 280.5,128.5 280.5,124.5 273.5,125.5" fill="#00ffc5" stroke="#00ffc5"/>
<polygon points="414.5,117.5 421.5,117.5 421.5,114.5 414.5,114.5" fill="#ff0089" stroke="#ff0089"/>
<polygon points="159.5,116.5 167.5,116.5 167.5,114.5 160.5,114.5" fill="#ff0000" stroke="#ff0000"/>
<polygon points="421.5,117.5 428.5,117.5 428.5,114.5 421.5,114.5" fill="#ff0078" stroke="#ff0078"/>
<polygon points="167.5,116.5 174.5,116.5 174.5,114.5 167.5,114.5" fill="#ff0000" stroke="#ff0000"/>
<polygon points="280.5,128.5 287.5,127.5 287.5,123.5 280.5,124.5" fill="#00fffa" stroke="#00fffa"/>
<polygon points="174.5,116.5 181.5,117.5 181.5,114.5 174.5,114.5" fill="#ff0000" stroke="#ff0000"/>
<polygon points="428.5,117.5 435.5,117.5 436.5,114.5 428.5,114.5" fill="#ff0067" stroke="#ff0067"/>
<polygon points="181.5,117.5 188.5,117.5 188.5,114.5 181.5,114.5" fill="#ff0000" stroke="#ff0000"/>
<polygon points="435.5,117.5 442.5,117.5 443.5,114.5 436.5,114.5" fill="#ff0057" stroke="#ff0057"/>
<polygon points="188.5,117.5 195.5,117.5 195.5,114.5 188.5,114.5" fill="#ff0000" stroke="#ff0000"/>
<polygon points="209.5,117.5 216.5,120.5 216.5,118.5 209.5,114.5" fill="#ff00b5" stroke="#ff00b5"/>
<polygon points="287.5,127.5 294.5,126.5 294.5,123.5 287.5,123.5" fill="#00d1ff" stroke="#00d1ff"/>
<polygon points="442.5,117.5 449.5,117.5 450.5,114.5 443.5,114.5" fill="#ff0047" stroke="#ff0047"/>
<polygon points="195.5,117.5 202.5,117.5 202.5,114.5 195.5,114.5" fill="#ff0000" stroke="#ff0000"/>
<polygon points="449.5,117.5 456.5,116.5 457.5,114.5 450.5,114.5" fill="#ff0039" stroke="#ff0039"/>
<polygon points="202.5,117.5 209.5,117.5 209.5,114.5 202.5,114.5" fill="#ff0000" stroke="#ff0000"/>
<polygon points="294.5,126.5 301.5,125.5 301.5,122.5 294.5,123.5" fill="#00a1ff" stroke="#00a1ff"/>
<polygon points="456.5,116.5 463.5,116.5 464.5,113.5 457.5,114.5" fill="#ff002b" stroke="#ff002b"/>
<polygon points="463.5,116.5 471.5,116.5 471.5,113.5 464.5,113.5" fill="#ff001e" stroke="#ff001e"/>
<polygon points="301.5,125.5 308.5,125.5 308.5,121.5 301.5,122.5" fill="#0072ff" stroke="#0072ff"/>
<polygon points="471.5,116.5 478.5,116.5 478.5,113.5 471.5,113.5" fill="#ff0011" stroke="#ff0011"/>
<polygon points="308.5,125.5 315.5,124.5 315.5,121.5 308.5,121.5" fill="#0046ff" stroke="#0046ff"/>
<polygon points="478.5,116.5 485.5,116.5 485.5,113.5 478.5,113.5" fill="#ff0006" stroke="#ff0006"/>
<polygon points="485.5,116.5 492.5,116.5 492.5,113.5 485.5,113.5" fill="#ff0001" stroke="#ff0001"/>
<polygon points="315.5,124.5 322.5,123.5 322.5,120.5 315.5,121.5" fill="#001cff" stroke="#001cff"/>
<polygon points="322.5,123.5 329.5,123.5 329.5,120.5 322.5,120.5" fill="#0b00ff" stroke="#0b00ff"/>
<polygon points="329.5,123.5 336.5,123.5 336.5,120.5 329.5,120.5" fill="#3000ff" stroke="#3000ff"/>
<polygon points="336.5,123.5 343.5,122.5 343.5,119.5 336.5,120.5" fill="#5300ff" stroke="#5300ff"/>
<polygon points="343.5,122.5 350.5,122.5 350.5,119.5 343.5,119.5" fill="#7400ff" stroke="#7400ff"/>
<polygon points="350.5,122.5 357.5,122.5 358.5,119.5 350.5,119.5" fill="#9300ff" stroke="#9300ff"/>
<polygon points="237.5,135.5 244.5,136.5 244.5,132.5 237.5,132.5" fill="#02ff00" stroke="#02ff00"/>
<polygon points="230.5,133.5 237.5,135.5 237.5,132.5 230.5,130.5" fill="#00ff30" stroke="#00ff30"/>
<polygon points="244.5,136.5 251.5,135.5 251.5,132.5 244.5,132.5" fill="#02ff00" stroke="#02ff00"/>
<polygon points="357.5,122.5 364.5,121.5 365.5,118.5 358.5,119.5" fill="#b100ff" stroke="#b100ff"/>
<polygon points="364.5,121.5 371.5,121.5 372.5,118.5 365.5,118.5" fill="#cc00ff" stroke="#cc00ff"/>
<polygon points="251.5,135.5 258.5,134.5 258.5,131.5 251.5,132.5" fill="#00ff1b" stroke="#00ff1b"/>
<polygon points="371.5,121.5 378.5,121.5 379.5,118.5 372.5,118.5" fill="#e700ff" stroke="#e700ff"/>
<polygon points="223.5,128.5 230.5,133.5 230.5,130.5 223.5,126.5" fill="#00ffbe" stroke="#00ffbe"/>
<polygon points="378.5,121.5 385.5,121.5 386.5,118.5 379.5,118.5" fill="#ff00ff" stroke="#ff00ff"/>
<polygon points="258.5,134.5 265.5,133.5 265.5,130.5 258.5,131.5" fill="#00ff46" stroke="#00ff46"/>
<polygon points="385.5,121.5 393.5,120.5 393.5,117.5 386.5,118.5" fill="#ff00e7" stroke="#ff00e7"/>
<polygon points="393.5,120.5 400.5,120.5 400.5,117.5 393.5,117.5" fill="#ff00d1" stroke="#ff00d1"/>
<polygon points="265.5,133.5 272.5,132.5 272.5,129.5 265.5,130.5" fill="#00ff78" stroke="#00ff78"/>
<polygon points="400.5,120.5 407.5,120.5 407.5,117.5 400.5,117.5" fill="#ff00bc" stroke="#ff00bc"/>
<polygon points="407.5,120.5 414.5,120.5 414.5,117.5 407.5,117.5" fill="#ff00a8" stroke="#ff00a8"/>
<polygon points="272.5,132.5 279.5,131.5 280.5,128.5 272.5,129.5" fill="#00ffad" stroke="#00ffad"/>
<polygon points="216.5,123.5 223.5,128.5 223.5,126.5 216.5,120.5" fill="#000eff" stroke="#000eff"/>
<polygon points="152.5,119.5 159.5,119.5 159.5,116.5 152.5,116.5" fill="#ff0000" stroke="#ff0000"/>
<polygon points="414.5,120.5 421.5,120.5 421.5,117.5 414.5,117.5" fill="#ff0095" stroke="#ff0095"/>
<polygon points="159.5,119.5 166.5,119.5 167.5,116.5 159.5,116.5" fill="#ff0000" stroke="#ff0000"/>
<polygon points="421.5,120.5 428.5,120.5 428.5,117.5 421.5,117.5" fill="#ff0083" stroke="#ff0083"/>
<polygon points="279.5,131.5 286.5,130.5 287.5,127.5 280.5,128.5" fill="#00ffe2" stroke="#00ffe2"/>
<polygon points="166.5,119.5 173.5,119.5 174.5,116.5 167.5,116.5" fill="#ff0000" stroke="#ff0000"/>
<polygon points="428.5,120.5 435.5,120.5 435.5,117.5 428.5,117.5" fill="#ff0071" stroke="#ff0071"/>
<polygon points="173.5,119.5 180.5,119.5 181.5,117.5 174.5,116.5" fill="#ff0000" stroke="#ff0000"/>
<polygon points="180.5,119.5 187.5,119.5 188.5,117.5 181.5,117.5" fill="#ff0000" stroke="#ff0000"/>
<polygon points="435.5,120.5 442.5,120.5 442.5,117.5 435.5,117.5" fill="#ff0061" stroke="#ff0061"/>
<polygon points="286.5,130.5 293.5,129.5 294.5,126.5 287.5,127.5" fill="#00e9ff" stroke="#00e9ff"/>
<polygon points="187.5,119.5 194.5,120.5 195.5,117.5 188.5,117.5" fill="#ff0000" stroke="#ff0000"/>
<polygon points="209.5,120.5 216.5,123.5 216.5,120.5 209.5,117.5" fill="#ff00a0" stroke="#ff00a0"/>
<polygon points="442.5,120.5 449.5,119.5 449.5,117.5 442.5,117.5" fill="#ff0051" stroke="#ff0051"/>
<polygon points="194.5,120.5 202.5,120.5 202.5,117.5 195.5,117.5" fill="#ff0000" stroke="#ff0000"/>
<polygon points="449.5,119.5 456.5,119.5 456.5,116.5 449.5,117.5" fill="#ff0043" stroke="#ff0043"/>
<polygon points="293.5,129.5 300.5,128.5 301.5,125.5 294.5,126.5" fill="#00b7ff" stroke="#00b7ff"/>
<polygon points="202.5,120.5 209.5,120.5 209.5,117.5 202.5,117.5" fill="#ff0000" stroke="#ff0000"/>
<polygon points="456.5,119.5 463.5,119.5 463.5,116.5 456.5,116.5" fill="#ff0034" stroke="#ff0034"/>
<polygon points="300.5,128.5 307.5,128.5 308.5,125.5 301.5,125.5" fill="#0088ff" stroke="#0088ff"/>
<polygon points="463.5,119.5 470.5,119.5 471.5,116.5 463.5,116.5" fill="#ff0027" stroke="#ff0027"/>
<polygon points="470.5,119.5 477.5,119.5 478.5,116.5 471.5,116.5" fill="#ff001a" stroke="#ff001a"/>
<polygon points="307.5,128.5 315.5,127.5 315.5,124.5 308.5,125.5" fill="#005bff" stroke="#005bff"/>
<polygon points="477.5,119.5 484.5,119.5 485.5,116.5 478.5,116.5" fill="#ff000e" stroke="#ff000e"/>
<polygon points="484.5,119.5 491.5,119.5 492.5,116.5 485.5,116.5" fill="#ff0004" stroke="#ff0004"/>
<polygon points="315.5,127.5 322.5,127.5 322.5,123.5 315.5,124.5" fill="#0031ff" stroke="#0031ff"/>
<polygon points="322.5,127.5 329.5,126.5 329.5,123.5 322.5,123.5" fill="#0009ff" stroke="#0009ff"/>
<polygon points="329.5,126.5 336.5,126.5 336.5,123.5 329.5,123.5" fill="#1d00ff" stroke="#1d00ff"/>
<polygon points="336.5,126.5 343.5,125.5 343.5,122.5 336.5,123.5" fill="#4100ff" stroke="#4100ff"/>
<polygon points="343.5,125.5 350.5,125.5 350.5,122.5 343.5,122.5" fill="#6300ff" stroke="#6300ff"/>
<polygon points="237.5,138.5 244.5,139.5 244.5,136.5 237.5,135.5" fill="#13ff00" stroke="#13ff00"/>
<polygon points="350.5,125.5 357.5,125.5 357.5,122.5 350.5,122.5" fill="#8200ff" stroke="#8200ff"/>
<polygon points="244.5,139.5 251.5,139.5 251.5,135.5 244.5,136.5" fill="#17ff00" stroke="#17ff00"/>
<polygon points="229.5,136.5 237.5,138.5 237.5,135.5 230.5,133.5" fill="#00ff28" stroke="#00ff28"/>
<polygon points="357.5,125.5 364.5,124.5 364.5,121.5 357.5,122.5" fill="#a000ff" stroke="#a000ff"/>
<polygon points="251.5,139.5 258.5,138.5 258.5,134.5 251.5,135.5" fill="#00ff03" stroke="#00ff03"/>
<polygon points="364.5,124.5 371.5,124.5 371.5,121.5 364.5,121.5" fill="#bd00ff" stroke="#bd00ff"/>
<polygon points="371.5,124.5 378.5,124.5 378.5,121.5 371.5,121.5" fill="#d700ff" stroke="#d700ff"/>
<polygon points="258.5,138.5 265.5,137.5 265.5,133.5 258.5,134.5" fill="#00ff2d" stroke="#00ff2d"/>
<polygon points="222.5,131.5 229.5,136.5 230.5,133.5 223.5,128.5" fill="#00ffc5" stroke="#00ffc5"/>
<polygon points="378.5,124.5 385.5,124.5 385.5,121.5 378.5,121.5" fill="#f100ff" stroke="#f100ff"/>
<polygon points="385.5,124.5 392.5,123.5 393.5,120.5 385.5,121.5" fill="#ff00f5" stroke="#ff00f5"/>
<polygon points="265.5,137.5 272.5,135.5 272.5,132.5 265.5,133.5" fill="#00ff5f" stroke="#00ff5f"/>
<polygon points="392.5,123.5 399.5,123.5 400.5,120.5 393.5,120.5" fill="#ff00de" stroke="#ff00de"/>
<polygon points="399.5,123.5 406.5,123.5 407.5,120.5 400.5,120.5" fill="#ff00c9" stroke="#ff00c9"/>
<polygon points="272.5,135.5 279.5,134.5 279.5,131.5 272.5,132.5" fill="#00ff94" stroke="#00ff94"/>
<polygon points="406.5,123.5 413.5,123.5 414.5,120.5 407.5,120.5" fill="#ff00b4" stroke="#ff00b4"/>
<polygon points="215.5,125.5 222.5,131.5 223.5,128.5 216.5,123.5" fill="#1100ff" stroke="#1100ff"/>
<polygon points="152.5,122.5 159.5,122.5 159.5,119.5 152.5,119.5" fill="#ff0000" stroke="#ff0000"/>
<polygon points="413.5,123.5 420.5,123.5 421.5,120.5 414.5,120.5" fill="#ff00a1" stroke="#ff00a1"/>
<polygon points="159.5,122.5 166.5,122.5 166.5,119.5 159.5,119.5" fill="#ff0000" stroke="#ff0000"/>
<polygon points="279.5,134.5 286.5,133.5 286.5,130.5 279.5,131.5" fill="#00ffc9" stroke="#00ffc9"/>
<polygon points="420.5,123.5 428.5,123.5 428.5,120.5 421.5,120.5" fill="#ff008e" stroke="#ff008e"/>
<polygon points="166.5,122.5 173.5,122.5 173.5,119.5 166.5,119.5" fill="#ff0000" stroke="#ff0000"/>
<polygon points="428.5,123.5 435.5,123.5 435.5,120.5 428.5,120.5" fill="#ff007d" stroke="#ff007d"/>
<polygon points="173.5,122.5 180.5,122.5 180.5,119.5 173.5,119.5" fill="#ff0000" stroke="#ff0000"/>
<polygon points="286.5,133.5 293.5,132.5 293.5,129.5 286.5,130.5" fill="#00fffd" stroke="#00fffd"/>
<polygon points="180.5,122.5 187.5,122.5 187.5,119.5 180.5,119.5" fill="#ff0000" stroke="#ff0000"/>
<polygon points="435.5,123.5 442.5,123.5 442.5,120.5 435.5,120.5" fill="#ff006c" stroke="#ff006c"/>
<polygon points="187.5,122.5 194.5,122.5 194.5,120.5 187.5,119.5" fill="#ff0000" stroke="#ff0000"/>
<polygon points="442.5,123.5 449.5,122.5 449.5,119.5 442.5,120.5" fill="#ff005c" stroke="#ff005c"/>
<polygon points="208.5,122.5 215.5,125.5 216.5,123.5 209.5,120.5" fill="#ff0088" stroke="#ff0088"/>
<polygon points="194.5,122.5 201.5,122.5 202.5,120.5 194.5,120.5" fill="#ff0000" stroke="#ff0000"/>
<polygon points="293.5,132.5 300.5,132.5 300.5,128.5 293.5,129.5" fill="#00cfff" stroke="#00cfff"/>
<polygon points="449.5,122.5 456.5,122.5 456.5,119.5 449.5,119.5" fill="#ff004d" stroke="#ff004d"/>
<polygon points="201.5,122.5 208.5,122.5 209.5,120.5 202.5,120.5" fill="#ff0000" stroke="#ff0000"/>
<polygon points="456.5,122.5 463.5,122.5 463.5,119.5 456.5,119.5" fill="#ff003e" stroke="#ff003e"/>
<polygon points="300.5,132.5 307.5,131.5 307.5,128.5 300.5,128.5" fill="#009fff" stroke="#009fff"/>
<polygon points="463.5,122.5 470.5,122.5 470.5,119.5 463.5,119.5" fill="#ff0030" stroke="#ff0030"/>
<polygon points="470.5,122.5 477.5,122.5 477.5,119.5 470.5,119.5" fill="#ff0023" stroke="#ff0023"/>
<polygon points="307.5,131.5 314.5,130.5 315.5,127.5 307.5,128.5" fill="#0071ff" stroke="#0071ff"/>
<polygon points="477.5,122.5 484.5,122.5 484.5,119.5 477.5,119.5" fill="#ff0017" stroke="#ff0017"/>
<polygon points="484.5,122.5 491.5,122.5 491.5,119.5 484.5,119.5" fill="#ff000b" stroke="#ff000b"/>
<polygon points="314.5,130.5 321.5,130.5 322.5,127.5 315.5,127.5" fill="#0046ff" stroke="#0046ff"/>
<polygon points="321.5,130.5 328.5,129.5 329.5,126.5 322.5,127.5" fill="#001dff" stroke="#001dff"/>
<polygon points="328.5,129.5 335.5,129.5 336.5,126.5 329.5,126.5" fill="#0900ff" stroke="#0900ff"/>
<polygon points="335.5,129.5 342.5,128.5 343.5,125.5 336.5,126.5" fill="#2e00ff" stroke="#2e00ff"/>
<polygon points="342.5,128.5 350.5,128.5 350.5,125.5 343.5,125.5" fill="#5000ff" stroke="#5000ff"/>
<polygon points="236.5,141.5 243.5,142.5 244.5,139.5 237.5,138.5" fill="#23ff00" stroke="#23ff00"/>
<polygon points="243.5,142.5 250.5,142.5 251.5,139.5 244.5,139.5" fill="#2cff00" stroke="#2cff00"/>
<polygon points="350.5,128.5 357.5,128.5 357.5,125.5 350.5,125.5" fill="#7100ff" stroke="#7100ff"/>
<polygon points="229.5,138.5 236.5,141.5 237.5,138.5 229.5,136.5" fill="#00ff21" stroke="#00ff21"/>
<polygon points="357.5,128.5 364.5,127.5 364.5,124.5 357.5,125.5" fill="#8f00ff" stroke="#8f00ff"/>
<polygon points="250.5,142.5 257.5,141.5 258.5,138.5 251.5,139.5" fill="#15ff00" stroke="#15ff00"/>
<polygon points="364.5,127.5 371.5,127.5 371.5,124.5 364.5,124.5" fill="#ac00ff" stroke="#ac00ff"/>
<polygon points="371.5,127.5 378.5,127.5 378.5,124.5 371.5,124.5" fill="#c800ff" stroke="#c800ff"/>
<polygon points="257.5,141.5 264.5,140.5 265.5,137.5 258.5,138.5" fill="#00ff14" stroke="#00ff14"/>
<polygon points="222.5,134.5 229.5,138.5 229.5,136.5 222.5,131.5" fill="#00ffce" stroke="#00ffce"/>
<polygon points="378.5,127.5 385.5,127.5 385.5,124.5 378.5,124.5" fill="#e200ff" stroke="#e200ff"/>
<polygon points="385.5,127.5 392.5,127.5 392.5,123.5 385.5,124.5" fill="#fa00ff" stroke="#fa00ff"/>
<polygon points="264.5,140.5 272.5,139.5 272.5,135.5 265.5,137.5" fill="#00ff45" stroke="#00ff45"/>
<polygon points="392.5,127.5 399.5,126.5 399.5,123.5 392.5,123.5" fill="#ff00ed" stroke="#ff00ed"/>
<polygon points="399.5,126.5 406.5,126.5 406.5,123.5 399.5,123.5" fill="#ff00d6" stroke="#ff00d6"/>
<polygon points="272.5,139.5 279.5,138.5 279.5,134.5 272.5,135.5" fill="#00ff7a" stroke="#00ff7a"/>
<polygon points="406.5,126.5 413.5,126.5 413.5,123.5 406.5,123.5" fill="#ff00c1" stroke="#ff00c1"/>
<polygon points="152.5,125.5 159.5,125.5 159.5,122.5 152.5,122.5" fill="#ff0000" stroke="#ff0000"/>
<polygon points="413.5,126.5 420.5,126.5 420.5,123.5 413.5,123.5" fill="#ff00ad" stroke="#ff00ad"/>
<polygon points="279.5,138.5 286.5,137.5 286.5,133.5 279.5,134.5" fill="#00ffaf" stroke="#00ffaf"/>
<polygon points="215.5,127.5 222.5,134.5 222.5,131.5 215.5,125.5" fill="#3600ff" stroke="#3600ff"/>
<polygon points="159.5,125.5 166.5,125.5 166.5,122.5 159.5,122.5" fill="#ff0000" stroke="#ff0000"/>
<polygon points="420.5,126.5 427.5,126.5 428.5,123.5 420.5,123.5" fill="#ff009b" stroke="#ff009b"/>
<polygon points="166.5,125.5 173.5,125.5 173.5,122.5 166.5,122.5" fill="#ff0000" stroke="#ff0000"/>
<polygon points="427.5,126.5 434.5,126.5 435.5,123.5 428.5,123.5" fill="#ff0089" stroke="#ff0089"/>
<polygon points="173.5,125.5 180.5,125.5 180.5,122.5 173.5,122.5" fill="#ff0000" stroke="#ff0000"/>
<polygon points="286.5,137.5 293.5,136.5 293.5,132.5 286.5,133.5" fill="#00ffe4" stroke="#00ffe4"/>
<polygon points="434.5,126.5 441.5,126.5 442.5,123.5 435.5,123.5" fill="#ff0077" stroke="#ff0077"/>
<polygon points="180.5,125.5 187.5,125.5 187.5,122.5 180.5,122.5" fill="#ff0000" stroke="#ff0000"/>
<polygon points="187.5,125.5 194.5,125.5 194.5,122.5 187.5,122.5" fill="#ff0000" stroke="#ff0000"/>
<polygon points="441.5,126.5 448.5,125.5 449.5,122.5 442.5,123.5" fill="#ff0067" stroke="#ff0067"/>
<polygon points="293.5,136.5 300.5,135.5 300.5,132.5 293.5,132.5" fill="#00e7ff" stroke="#00e7ff"/>
<polygon points="194.5,125.5 201.5,125.5 201.5,122.5 194.5,122.5" fill="#ff0000" stroke="#ff0000"/>
<polygon points="208.5,125.5 215.5,127.5 215.5,125.5 208.5,122.5" fill="#ff006d" stroke="#ff006d"/>
<polygon points="448.5,125.5 455.5,125.5 456.5,122.5 449.5,122.5" fill="#ff0057" stroke="#ff0057"/>
<polygon points="201.5,125.5 208.5,125.5 208.5,122.5 201.5,122.5" fill="#ff0000" stroke="#ff0000"/>
<polygon points="455.5,125.5 463.5,125.5 463.5,122.5 456.5,122.5" fill="#ff0049" stroke="#ff0049"/>
<polygon points="300.5,135.5 307.5,134.5 307.5,131.5 300.5,132.5" fill="#00b7ff" stroke="#00b7ff"/>
<polygon points="463.5,125.5 470.5,125.5 470.5,122.5 463.5,122.5" fill="#ff003a" stroke="#ff003a"/>
<polygon points="307.5,134.5 314.5,134.5 314.5,130.5 307.5,131.5" fill="#0088ff" stroke="#0088ff"/>
<polygon points="470.5,125.5 477.5,125.5 477.5,122.5 470.5,122.5" fill="#ff002d" stroke="#ff002d"/>
<polygon points="477.5,125.5 484.5,125.5 484.5,122.5 477.5,122.5" fill="#ff0020" stroke="#ff0020"/>
<polygon points="314.5,134.5 321.5,133.5 321.5,130.5 314.5,130.5" fill="#005cff" stroke="#005cff"/>
<polygon points="484.5,125.5 491.5,125.5 491.5,122.5 484.5,122.5" fill="#ff0014" stroke="#ff0014"/>
<polygon points="321.5,133.5 328.5,132.5 328.5,129.5 321.5,130.5" fill="#0033ff" stroke="#0033ff"/>
<polygon points="328.5,132.5 335.5,132.5 335.5,129.5 328.5,129.5" fill="#000bff" stroke="#000bff"/>
<polygon points="335.5,132.5 342.5,132.5 342.5,128.5 335.5,129.5" fill="#1a00ff" stroke="#1a00ff"/>
<polygon points="342.5,132.5 349.5,131.5 350.5,128.5 342.5,128.5" fill="#3d00ff" stroke="#3d00ff"/>
<polygon points="236.5,145.5 243.5,146.5 243.5,142.5 236.5,141.5" fill="#32ff00" stroke="#32ff00"/>
<polygon points="243.5,146.5 250.5,146.5 250.5,142.5 243.5,142.5" fill="#42ff00" stroke="#42ff00"/>
<polygon points="349.5,131.5 356.5,131.5 357.5,128.5 350.5,128.5" fill="#5e00ff" stroke="#5e00ff"/>
<polygon points="250.5,146.5 257.5,145.5 257.5,141.5 250.5,142.5" fill="#2eff00" stroke="#2eff00"/>
<polygon points="229.5,141.5 236.5,145.5 236.5,141.5 229.5,138.5" fill="#00ff1c" stroke="#00ff1c"/>
<polygon points="356.5,131.5 363.5,131.5 364.5,127.5 357.5,128.5" fill="#7d00ff" stroke="#7d00ff"/>
<polygon points="363.5,131.5 370.5,130.5 371.5,127.5 364.5,127.5" fill="#9b00ff" stroke="#9b00ff"/>
<polygon points="257.5,145.5 264.5,144.5 264.5,140.5 257.5,141.5" fill="#07ff00" stroke="#07ff00"/>
<polygon points="370.5,130.5 378.5,130.5 378.5,127.5 371.5,127.5" fill="#b700ff" stroke="#b700ff"/>
<polygon points="378.5,130.5 385.5,130.5 385.5,127.5 378.5,127.5" fill="#d200ff" stroke="#d200ff"/>
<polygon points="222.5,136.5 229.5,141.5 229.5,138.5 222.5,134.5" fill="#00ffdb" stroke="#00ffdb"/>
<polygon points="264.5,144.5 271.5,142.5 272.5,139.5 264.5,140.5" fill="#00ff2a" stroke="#00ff2a"/>
<polygon points="385.5,130.5 392.5,130.5 392.5,127.5 385.5,127.5" fill="#eb00ff" stroke="#eb00ff"/>
<polygon points="392.5,130.5 399.5,129.5 399.5,126.5 392.5,127.5" fill="#ff00fb" stroke="#ff00fb"/>
<polygon points="271.5,142.5 278.5,141.5 279.5,138.5 272.5,139.5" fill="#00ff5e" stroke="#00ff5e"/>
<polygon points="399.5,129.5 406.5,129.5 406.5,126.5 399.5,126.5" fill="#ff00e5" stroke="#ff00e5"/>
<polygon points="406.5,129.5 413.5,129.5 413.5,126.5 406.5,126.5" fill="#ff00cf" stroke="#ff00cf"/>
<polygon points="278.5,141.5 285.5,140.5 286.5,137.5 279.5,138.5" fill="#00ff94" stroke="#00ff94"/>
<polygon points="413.5,129.5 420.5,129.5 420.5,126.5 413.5,126.5" fill="#ff00bb" stroke="#ff00bb"/>
<polygon points="151.5,128.5 158.5,128.5 159.5,125.5 152.5,125.5" fill="#ff0000" stroke="#ff0000"/>
<polygon points="158.5,128.5 165.5,128.5 166.5,125.5 159.5,125.5" fill="#ff0000" stroke="#ff0000"/>
<polygon points="420.5,129.5 427.5,129.5 427.5,126.5 420.5,126.5" fill="#ff00a7" stroke="#ff00a7"/>
<polygon points="215.5,129.5 222.5,136.5 222.5,134.5 215.5,127.5" fill="#6100ff" stroke="#6100ff"/>
<polygon points="165.5,128.5 172.5,128.5 173.5,125.5 166.5,125.5" fill="#ff0000" stroke="#ff0000"/>
<polygon points="285.5,140.5 292.5,139.5 293.5,136.5 286.5,137.5" fill="#00ffc9" stroke="#00ffc9"/>
<polygon points="427.5,129.5 434.5,129.5 434.5,126.5 427.5,126.5" fill="#ff0095" stroke="#ff0095"/>
<polygon points="172.5,128.5 179.5,128.5 180.5,125.5 173.5,125.5" fill="#ff0000" stroke="#ff0000"/>
<polygon points="434.5,129.5 441.5,128.5 441.5,126.5 434.5,126.5" fill="#ff0083" stroke="#ff0083"/>
<polygon points="179.5,128.5 187.5,128.5 187.5,125.5 180.5,125.5" fill="#ff0000" stroke="#ff0000"/>
<polygon points="292.5,139.5 300.5,138.5 300.5,135.5 293.5,136.5" fill="#00fffd" stroke="#00fffd"/>
<polygon points="441.5,128.5 448.5,128.5 448.5,125.5 441.5,126.5" fill="#ff0073" stroke="#ff0073"/>
<polygon points="187.5,128.5 194.5,128.5 194.5,125.5 187.5,125.5" fill="#ff0000" stroke="#ff0000"/>
<polygon points="194.5,128.5 201.5,128.5 201.5,125.5 194.5,125.5" fill="#ff0000" stroke="#ff0000"/>
<polygon points="448.5,128.5 455.5,128.5 455.5,125.5 448.5,125.5" fill="#ff0063" stroke="#ff0063"/>
<polygon points="208.5,128.5 215.5,129.5 215.5,127.5 208.5,125.5" fill="#ff004e" stroke="#ff004e"/>
<polygon points="201.5,128.5 208.5,128.5 208.5,125.5 201.5,125.5" fill="#ff0000" stroke="#ff0000"/>
<polygon points="300.5,138.5 307.5,137.5 307.5,134.5 300.5,135.5" fill="#00d0ff" stroke="#00d0ff"/>
<polygon points="455.5,128.5 462.5,128.5 463.5,125.5 455.5,125.5" fill="#ff0053" stroke="#ff0053"/>
<polygon points="462.5,128.5 469.5,128.5 470.5,125.5 463.5,125.5" fill="#ff0045" stroke="#ff0045"/>
<polygon points="307.5,137.5 314.5,137.5 314.5,134.5 307.5,134.5" fill="#00a0ff" stroke="#00a0ff"/>
<polygon points="469.5,128.5 476.5,128.5 477.5,125.5 470.5,125.5" fill="#ff0037" stroke="#ff0037"/>
<polygon points="476.5,128.5 483.5,128.5 484.5,125.5 477.5,125.5" fill="#ff002a" stroke="#ff002a"/>
<polygon points="314.5,137.5 321.5,136.5 321.5,133.5 314.5,134.5" fill="#0074ff" stroke="#0074ff"/>
<polygon points="483.5,128.5 490.5,128.5 491.5,125.5 484.5,125.5" fill="#ff001d" stroke="#ff001d"/>
<polygon points="321.5,136.5 328.5,136.5 328.5,132.5 321.5,133.5" fill="#0049ff" stroke="#0049ff"/>
<polygon points="328.5,136.5 335.5,135.5 335.5,132.5 328.5,132.5" fill="#0021ff" stroke="#0021ff"/>
<polygon points="335.5,135.5 342.5,135.5 342.5,132.5 335.5,132.5" fill="#0500ff" stroke="#0500ff"/>
<polygon points="342.5,135.5 349.5,134.5 349.5,131.5 342.5,132.5" fill="#2900ff" stroke="#2900ff"/>
<polygon points="243.5,149.5 250.5,149.5 250.5,146.5 243.5,146.5" fill="#57ff00" stroke="#57ff00"/>
<polygon points="236.5,148.5 243.5,149.5 243.5,146.5 236.5,145.5" fill="#41ff00" stroke="#41ff00"/>
<polygon points="349.5,134.5 356.5,134.5 356.5,131.5 349.5,131.5" fill="#4a00ff" stroke="#4a00ff"/>
<polygon points="250.5,149.5 257.5,149.5 257.5,145.5 250.5,146.5" fill="#47ff00" stroke="#47ff00"/>
<polygon points="229.5,144.5 236.5,148.5 236.5,145.5 229.5,141.5" fill="#00ff19" stroke="#00ff19"/>
<polygon points="356.5,134.5 363.5,134.5 363.5,131.5 356.5,131.5" fill="#6a00ff" stroke="#6a00ff"/>
<polygon points="257.5,149.5 264.5,147.5 264.5,144.5 257.5,145.5" fill="#22ff00" stroke="#22ff00"/>
<polygon points="363.5,134.5 370.5,133.5 370.5,130.5 363.5,131.5" fill="#8900ff" stroke="#8900ff"/>
<polygon points="370.5,133.5 377.5,133.5 378.5,130.5 370.5,130.5" fill="#a500ff" stroke="#a500ff"/>
<polygon points="264.5,147.5 271.5,146.5 271.5,142.5 264.5,144.5" fill="#00ff0e" stroke="#00ff0e"/>
<polygon points="377.5,133.5 384.5,133.5 385.5,130.5 378.5,130.5" fill="#c100ff" stroke="#c100ff"/>
<polygon points="222.5,138.5 229.5,144.5 229.5,141.5 222.5,136.5" fill="#00ffeb" stroke="#00ffeb"/>
<polygon points="384.5,133.5 391.5,133.5 392.5,130.5 385.5,130.5" fill="#da00ff" stroke="#da00ff"/>
<polygon points="391.5,133.5 398.5,132.5 399.5,129.5 392.5,130.5" fill="#f300ff" stroke="#f300ff"/>
<polygon points="271.5,146.5 278.5,145.5 278.5,141.5 271.5,142.5" fill="#00ff42" stroke="#00ff42"/>
<polygon points="398.5,132.5 405.5,132.5 406.5,129.5 399.5,129.5" fill="#ff00f4" stroke="#ff00f4"/>
<polygon points="405.5,132.5 413.5,132.5 413.5,129.5 406.5,129.5" fill="#ff00de" stroke="#ff00de"/>
<polygon points="278.5,145.5 285.5,144.5 285.5,140.5 278.5,141.5" fill="#00ff78" stroke="#00ff78"/>
<polygon points="413.5,132.5 420.5,132.5 420.5,129.5 413.5,129.5" fill="#ff00c9" stroke="#ff00c9"/>
<polygon points="151.5,131.5 158.5,131.5 158.5,128.5 151.5,128.5" fill="#ff0000" stroke="#ff0000"/>
<polygon points="420.5,132.5 427.5,132.5 427.5,129.5 420.5,129.5" fill="#ff00b5" stroke="#ff00b5"/>
<polygon points="158.5,131.5 165.5,131.5 165.5,128.5 158.5,128.5" fill="#ff0000" stroke="#ff0000"/>
<polygon points="285.5,144.5 292.5,143.5 292.5,139.5 285.5,140.5" fill="#00ffae" stroke="#00ffae"/>
<polygon points="165.5,131.5 172.5,131.5 172.5,128.5 165.5,128.5" fill="#ff0000" stroke="#ff0000"/>
<polygon points="427.5,132.5 434.5,132.5 434.5,129.5 427.5,129.5" fill="#ff00a2" stroke="#ff00a2"/>
<polygon points="214.5,132.5 222.5,138.5 222.5,136.5 215.5,129.5" fill="#9400ff" stroke="#9400ff"/>
<polygon points="172.5,131.5 179.5,131.5 179.5,128.5 172.5,128.5" fill="#ff0000" stroke="#ff0000"/>
<polygon points="434.5,132.5 441.5,131.5 441.5,128.5 434.5,129.5" fill="#ff0090" stroke="#ff0090"/>
<polygon points="292.5,143.5 299.5,142.5 300.5,138.5 292.5,139.5" fill="#00ffe2" stroke="#00ffe2"/>
<polygon points="179.5,131.5 186.5,131.5 187.5,128.5 179.5,128.5" fill="#ff0000" stroke="#ff0000"/>
<polygon points="441.5,131.5 448.5,131.5 448.5,128.5 441.5,128.5" fill="#ff007f" stroke="#ff007f"/>
<polygon points="186.5,131.5 193.5,131.5 194.5,128.5 187.5,128.5" fill="#ff0000" stroke="#ff0000"/>
<polygon points="193.5,131.5 200.5,131.5 201.5,128.5 194.5,128.5" fill="#ff0000" stroke="#ff0000"/>
<polygon points="448.5,131.5 455.5,131.5 455.5,128.5 448.5,128.5" fill="#ff006f" stroke="#ff006f"/>
<polygon points="299.5,142.5 306.5,141.5 307.5,137.5 300.5,138.5" fill="#00eaff" stroke="#00eaff"/>
<polygon points="200.5,131.5 207.5,131.5 208.5,128.5 201.5,128.5" fill="#ff0000" stroke="#ff0000"/>
<polygon points="455.5,131.5 462.5,131.5 462.5,128.5 455.5,128.5" fill="#ff005f" stroke="#ff005f"/>
<polygon points="207.5,131.5 214.5,132.5 215.5,129.5 208.5,128.5" fill="#ff002a" stroke="#ff002a"/>
<polygon points="462.5,131.5 469.5,131.5 469.5,128.5 462.5,128.5" fill="#ff0050" stroke="#ff0050"/>
<polygon points="306.5,141.5 313.5,140.5 314.5,137.5 307.5,137.5" fill="#00baff" stroke="#00baff"/>
<polygon points="469.5,131.5 476.5,131.5 476.5,128.5 469.5,128.5" fill="#ff0042" stroke="#ff0042"/>
<polygon points="313.5,140.5 320.5,139.5 321.5,136.5 314.5,137.5" fill="#008cff" stroke="#008cff"/>
<polygon points="476.5,131.5 483.5,131.5 483.5,128.5 476.5,128.5" fill="#ff0034" stroke="#ff0034"/>
<polygon points="483.5,131.5 490.5,131.5 490.5,128.5 483.5,128.5" fill="#ff0027" stroke="#ff0027"/>
<polygon points="320.5,139.5 327.5,139.5 328.5,136.5 321.5,136.5" fill="#0061ff" stroke="#0061ff"/>
<polygon points="327.5,139.5 335.5,138.5 335.5,135.5 328.5,136.5" fill="#0038ff" stroke="#0038ff"/>
<polygon points="335.5,138.5 342.5,138.5 342.5,135.5 335.5,135.5" fill="#0011ff" stroke="#0011ff"/>
<polygon points="242.5,153.5 249.5,153.5 250.5,149.5 243.5,149.5" fill="#6cff00" stroke="#6cff00"/>
<polygon points="342.5,138.5 349.5,137.5 349.5,134.5 342.5,135.5" fill="#1300ff" stroke="#1300ff"/>
<polygon points="235.5,151.5 242.5,153.5 243.5,149.5 236.5,148.5" fill="#4fff00" stroke="#4fff00"/>
<polygon points="249.5,153.5 257.5,152.5 257.5,149.5 250.5,149.5" fill="#60ff00" stroke="#60ff00"/>
<polygon points="349.5,137.5 356.5,137.5 356.5,134.5 349.5,134.5" fill="#3600ff" stroke="#3600ff"/>
<polygon points="356.5,137.5 363.5,137.5 363.5,134.5 356.5,134.5" fill="#5700ff" stroke="#5700ff"/>
<polygon points="228.5,147.5 235.5,151.5 236.5,148.5 229.5,144.5" fill="#00ff18" stroke="#00ff18"/>
<polygon points="257.5,152.5 264.5,151.5 264.5,147.5 257.5,149.5" fill="#3eff00" stroke="#3eff00"/>
<polygon points="363.5,137.5 370.5,136.5 370.5,133.5 363.5,134.5" fill="#7600ff" stroke="#7600ff"/>
<polygon points="370.5,136.5 377.5,136.5 377.5,133.5 370.5,133.5" fill="#9300ff" stroke="#9300ff"/>
<polygon points="264.5,151.5 271.5,150.5 271.5,146.5 264.5,147.5" fill="#0fff00" stroke="#0fff00"/>
<polygon points="377.5,136.5 384.5,136.5 384.5,133.5 377.5,133.5" fill="#af00ff" stroke="#af00ff"/>
<polygon points="384.5,136.5 391.5,136.5 391.5,133.5 384.5,133.5" fill="#c900ff" stroke="#c900ff"/>
<polygon points="221.5,141.5 228.5,147.5 229.5,144.5 222.5,138.5" fill="#00fdff" stroke="#00fdff"/>
<polygon points="271.5,150.5 278.5,148.5 278.5,145.5 271.5,146.5" fill="#00ff25" stroke="#00ff25"/>
<polygon points="391.5,136.5 398.5,135.5 398.5,132.5 391.5,133.5" fill="#e200ff" stroke="#e200ff"/>
<polygon points="398.5,135.5 405.5,135.5 405.5,132.5 398.5,132.5" fill="#fa00ff" stroke="#fa00ff"/>
<polygon points="278.5,148.5 285.5,147.5 285.5,144.5 278.5,145.5" fill="#00ff5b" stroke="#00ff5b"/>
<polygon points="405.5,135.5 412.5,135.5 413.5,132.5 405.5,132.5" fill="#ff00ed" stroke="#ff00ed"/>
<polygon points="412.5,135.5 419.5,135.5 420.5,132.5 413.5,132.5" fill="#ff00d8" stroke="#ff00d8"/>
<polygon points="151.5,133.5 158.5,134.5 158.5,131.5 151.5,131.5" fill="#ff0000" stroke="#ff0000"/>
<polygon points="285.5,147.5 292.5,146.5 292.5,143.5 285.5,144.5" fill="#00ff91" stroke="#00ff91"/>
<polygon points="419.5,135.5 426.5,135.5 427.5,132.5 420.5,132.5" fill="#ff00c3" stroke="#ff00c3"/>
<polygon points="158.5,134.5 165.5,134.5 165.5,131.5 158.5,131.5" fill="#ff0000" stroke="#ff0000"/>
<polygon points="426.5,135.5 433.5,135.5 434.5,132.5 427.5,132.5" fill="#ff00b0" stroke="#ff00b0"/>
<polygon points="165.5,134.5 172.5,134.5 172.5,131.5 165.5,131.5" fill="#ff0000" stroke="#ff0000"/>
<polygon points="172.5,134.5 179.5,134.5 179.5,131.5 172.5,131.5" fill="#ff0000" stroke="#ff0000"/>
<polygon points="292.5,146.5 299.5,145.5 299.5,142.5 292.5,143.5" fill="#00ffc6" stroke="#00ffc6"/>
<polygon points="433.5,135.5 440.5,134.5 441.5,131.5 434.5,132.5" fill="#ff009e" stroke="#ff009e"/>
<polygon points="214.5,134.5 221.5,141.5 222.5,138.5 214.5,132.5" fill="#c400ff" stroke="#c400ff"/>
<polygon points="179.5,134.5 186.5,134.5 186.5,131.5 179.5,131.5" fill="#ff0000" stroke="#ff0000"/>
<polygon points="440.5,134.5 448.5,134.5 448.5,131.5 441.5,131.5" fill="#ff008c" stroke="#ff008c"/>
<polygon points="186.5,134.5 193.5,134.5 193.5,131.5 186.5,131.5" fill="#ff0000" stroke="#ff0000"/>
<polygon points="299.5,145.5 306.5,144.5 306.5,141.5 299.5,142.5" fill="#00fff9" stroke="#00fff9"/>
<polygon points="448.5,134.5 455.5,134.5 455.5,131.5 448.5,131.5" fill="#ff007b" stroke="#ff007b"/>
<polygon points="193.5,134.5 200.5,134.5 200.5,131.5 193.5,131.5" fill="#ff0000" stroke="#ff0000"/>
<polygon points="200.5,134.5 207.5,134.5 207.5,131.5 200.5,131.5" fill="#ff0000" stroke="#ff0000"/>
<polygon points="455.5,134.5 462.5,134.5 462.5,131.5 455.5,131.5" fill="#ff006b" stroke="#ff006b"/>
<polygon points="207.5,134.5 214.5,134.5 214.5,132.5 207.5,131.5" fill="#ff000b" stroke="#ff000b"/>
<polygon points="306.5,144.5 313.5,143.5 313.5,140.5 306.5,141.5" fill="#00d4ff" stroke="#00d4ff"/>
<polygon points="462.5,134.5 469.5,134.5 469.5,131.5 462.5,131.5" fill="#ff005c" stroke="#ff005c"/>
<polygon points="469.5,134.5 476.5,134.5 476.5,131.5 469.5,131.5" fill="#ff004d" stroke="#ff004d"/>
<polygon points="313.5,143.5 320.5,143.5 320.5,139.5 313.5,140.5" fill="#00a6ff" stroke="#00a6ff"/>
<polygon points="476.5,134.5 483.5,134.5 483.5,131.5 476.5,131.5" fill="#ff003f" stroke="#ff003f"/>
<polygon points="483.5,134.5 490.5,134.5 490.5,131.5 483.5,131.5" fill="#ff0032" stroke="#ff0032"/>
<polygon points="320.5,143.5 327.5,142.5 327.5,139.5 320.5,139.5" fill="#007aff" stroke="#007aff"/>
<polygon points="327.5,142.5 334.5,142.5 335.5,138.5 327.5,139.5" fill="#0050ff" stroke="#0050ff"/>
<polygon points="334.5,142.5 341.5,141.5 342.5,138.5 335.5,138.5" fill="#0029ff" stroke="#0029ff"/>
<polygon points="242.5,156.5 249.5,157.5 249.5,153.5 242.5,153.5" fill="#81ff00" stroke="#81ff00"/>
<polygon points="235.5,154.5 242.5,156.5 242.5,153.5 235.5,151.5" fill="#5bff00" stroke="#5bff00"/>
<polygon points="341.5,141.5 348.5,141.5 349.5,137.5 342.5,138.5" fill="#0003ff" stroke="#0003ff"/>
<polygon points="249.5,157.5 256.5,156.5 257.5,152.5 249.5,153.5" fill="#7aff00" stroke="#7aff00"/>
<polygon points="348.5,141.5 355.5,140.5 356.5,137.5 349.5,137.5" fill="#2000ff" stroke="#2000ff"/>
<polygon points="256.5,156.5 263.5,155.5 264.5,151.5 257.5,152.5" fill="#5aff00" stroke="#5aff00"/>
<polygon points="355.5,140.5 362.5,140.5 363.5,137.5 356.5,137.5" fill="#4200ff" stroke="#4200ff"/>
<polygon points="228.5,149.5 235.5,154.5 235.5,151.5 228.5,147.5" fill="#00ff1a" stroke="#00ff1a"/>
<polygon points="362.5,140.5 370.5,140.5 370.5,136.5 363.5,137.5" fill="#6100ff" stroke="#6100ff"/>
<polygon points="263.5,155.5 270.5,153.5 271.5,150.5 264.5,151.5" fill="#2dff00" stroke="#2dff00"/>
<polygon points="370.5,140.5 377.5,139.5 377.5,136.5 370.5,136.5" fill="#8000ff" stroke="#8000ff"/>
<polygon points="377.5,139.5 384.5,139.5 384.5,136.5 377.5,136.5" fill="#9c00ff" stroke="#9c00ff"/>
<polygon points="270.5,153.5 277.5,152.5 278.5,148.5 271.5,150.5" fill="#00ff07" stroke="#00ff07"/>
<polygon points="384.5,139.5 391.5,139.5 391.5,136.5 384.5,136.5" fill="#b700ff" stroke="#b700ff"/>
<polygon points="391.5,139.5 398.5,138.5 398.5,135.5 391.5,136.5" fill="#d100ff" stroke="#d100ff"/>
<polygon points="221.5,143.5 228.5,149.5 228.5,147.5 221.5,141.5" fill="#00e3ff" stroke="#00e3ff"/>
<polygon points="398.5,138.5 405.5,138.5 405.5,135.5 398.5,135.5" fill="#e900ff" stroke="#e900ff"/>
<polygon points="277.5,152.5 284.5,151.5 285.5,147.5 278.5,148.5" fill="#00ff3d" stroke="#00ff3d"/>
<polygon points="405.5,138.5 412.5,138.5 412.5,135.5 405.5,135.5" fill="#ff00fe" stroke="#ff00fe"/>
<polygon points="412.5,138.5 419.5,138.5 419.5,135.5 412.5,135.5" fill="#ff00e8" stroke="#ff00e8"/>
<polygon points="284.5,151.5 292.5,149.5 292.5,146.5 285.5,147.5" fill="#00ff73" stroke="#00ff73"/>
<polygon points="150.5,136.5 157.5,136.5 158.5,134.5 151.5,133.5" fill="#ff0000" stroke="#ff0000"/>
<polygon points="419.5,138.5 426.5,138.5 426.5,135.5 419.5,135.5" fill="#ff00d3" stroke="#ff00d3"/>
<polygon points="157.5,136.5 164.5,136.5 165.5,134.5 158.5,134.5" fill="#ff0000" stroke="#ff0000"/>
<polygon points="426.5,138.5 433.5,138.5 433.5,135.5 426.5,135.5" fill="#ff00bf" stroke="#ff00bf"/>
<polygon points="164.5,136.5 171.5,137.5 172.5,134.5 165.5,134.5" fill="#ff0000" stroke="#ff0000"/>
<polygon points="292.5,149.5 299.5,148.5 299.5,145.5 292.5,146.5" fill="#00ffa9" stroke="#00ffa9"/>
<polygon points="171.5,137.5 179.5,137.5 179.5,134.5 172.5,134.5" fill="#ff0000" stroke="#ff0000"/>
<polygon points="433.5,138.5 440.5,137.5 440.5,134.5 433.5,135.5" fill="#ff00ac" stroke="#ff00ac"/>
<polygon points="214.5,137.5 221.5,143.5 221.5,141.5 214.5,134.5" fill="#e400ff" stroke="#e400ff"/>
<polygon points="179.5,137.5 186.5,137.5 186.5,134.5 179.5,134.5" fill="#ff0000" stroke="#ff0000"/>
<polygon points="440.5,137.5 447.5,137.5 448.5,134.5 440.5,134.5" fill="#ff009a" stroke="#ff009a"/>
<polygon points="299.5,148.5 306.5,148.5 306.5,144.5 299.5,145.5" fill="#00ffdc" stroke="#00ffdc"/>
<polygon points="186.5,137.5 193.5,137.5 193.5,134.5 186.5,134.5" fill="#ff0000" stroke="#ff0000"/>
<polygon points="447.5,137.5 454.5,137.5 455.5,134.5 448.5,134.5" fill="#ff0088" stroke="#ff0088"/>
<polygon points="193.5,137.5 200.5,137.5 200.5,134.5 193.5,134.5" fill="#ff0000" stroke="#ff0000"/>
<polygon points="454.5,137.5 461.5,137.5 462.5,134.5 455.5,134.5" fill="#ff0078" stroke="#ff0078"/>
<polygon points="200.5,137.5 207.5,137.5 207.5,134.5 200.5,134.5" fill="#ff0000" stroke="#ff0000"/>
<polygon points="306.5,148.5 313.5,147.5 313.5,143.5 306.5,144.5" fill="#00f0ff" stroke="#00f0ff"/>
<polygon points="207.5,137.5 214.5,137.5 214.5,134.5 207.5,134.5" fill="#ff0000" stroke="#ff0000"/>
<polygon points="461.5,137.5 468.5,137.5 469.5,134.5 462.5,134.5" fill="#ff0068" stroke="#ff0068"/>
<polygon points="468.5,137.5 475.5,137.5 476.5,134.5 469.5,134.5" fill="#ff0059" stroke="#ff0059"/>
<polygon points="313.5,147.5 320.5,146.5 320.5,143.5 313.5,143.5" fill="#00c1ff" stroke="#00c1ff"/>
<polygon points="475.5,137.5 483.5,137.5 483.5,134.5 476.5,134.5" fill="#ff004b" stroke="#ff004b"/>
<polygon points="320.5,146.5 327.5,145.5 327.5,142.5 320.5,143.5" fill="#0094ff" stroke="#0094ff"/>
<polygon points="483.5,137.5 490.5,137.5 490.5,134.5 483.5,134.5" fill="#ff003d" stroke="#ff003d"/>
<polygon points="327.5,145.5 334.5,145.5 334.5,142.5 327.5,142.5" fill="#0069ff" stroke="#0069ff"/>
<polygon points="334.5,145.5 341.5,144.5 341.5,141.5 334.5,142.5" fill="#0041ff" stroke="#0041ff"/>
<polygon points="242.5,160.5 249.5,161.5 249.5,157.5 242.5,156.5" fill="#95ff00" stroke="#95ff00"/>
<polygon points="249.5,161.5 256.5,160.5 256.5,156.5 249.5,157.5" fill="#94ff00" stroke="#94ff00"/>
<polygon points="235.5,157.5 242.5,160.5 242.5,156.5 235.5,154.5" fill="#66ff00" stroke="#66ff00"/>
<polygon points="341.5,144.5 348.5,144.5 348.5,141.5 341.5,141.5" fill="#001bff" stroke="#001bff"/>
<polygon points="348.5,144.5 355.5,143.5 355.5,140.5 348.5,141.5" fill="#0900ff" stroke="#0900ff"/>
<polygon points="256.5,160.5 263.5,159.5 263.5,155.5 256.5,156.5" fill="#77ff00" stroke="#77ff00"/>
<polygon points="355.5,143.5 362.5,143.5 362.5,140.5 355.5,140.5" fill="#2c00ff" stroke="#2c00ff"/>
<polygon points="228.5,152.5 235.5,157.5 235.5,154.5 228.5,149.5" fill="#00ff20" stroke="#00ff20"/>
<polygon points="362.5,143.5 369.5,143.5 370.5,140.5 362.5,140.5" fill="#4c00ff" stroke="#4c00ff"/>
<polygon points="263.5,159.5 270.5,157.5 270.5,153.5 263.5,155.5" fill="#4cff00" stroke="#4cff00"/>
<polygon points="369.5,143.5 376.5,142.5 377.5,139.5 370.5,140.5" fill="#6b00ff" stroke="#6b00ff"/>
<polygon points="376.5,142.5 383.5,142.5 384.5,139.5 377.5,139.5" fill="#8800ff" stroke="#8800ff"/>
<polygon points="270.5,157.5 277.5,156.5 277.5,152.5 270.5,153.5" fill="#19ff00" stroke="#19ff00"/>
<polygon points="383.5,142.5 390.5,142.5 391.5,139.5 384.5,139.5" fill="#a400ff" stroke="#a400ff"/>
<polygon points="390.5,142.5 397.5,142.5 398.5,138.5 391.5,139.5" fill="#be00ff" stroke="#be00ff"/>
<polygon points="277.5,156.5 284.5,154.5 284.5,151.5 277.5,152.5" fill="#00ff1d" stroke="#00ff1d"/>
<polygon points="221.5,145.5 228.5,152.5 228.5,149.5 221.5,143.5" fill="#00c1ff" stroke="#00c1ff"/>
<polygon points="397.5,142.5 405.5,141.5 405.5,138.5 398.5,138.5" fill="#d700ff" stroke="#d700ff"/>
<polygon points="405.5,141.5 412.5,141.5 412.5,138.5 405.5,138.5" fill="#ef00ff" stroke="#ef00ff"/>
<polygon points="284.5,154.5 291.5,153.5 292.5,149.5 284.5,151.5" fill="#00ff54" stroke="#00ff54"/>
<polygon points="412.5,141.5 419.5,141.5 419.5,138.5 412.5,138.5" fill="#ff00f8" stroke="#ff00f8"/>
<polygon points="150.5,139.5 157.5,139.5 157.5,136.5 150.5,136.5" fill="#ff0000" stroke="#ff0000"/>
<polygon points="419.5,141.5 426.5,141.5 426.5,138.5 419.5,138.5" fill="#ff00e3" stroke="#ff00e3"/>
<polygon points="157.5,139.5 164.5,139.5 164.5,136.5 157.5,136.5" fill="#ff0000" stroke="#ff0000"/>
<polygon points="291.5,153.5 298.5,152.5 299.5,148.5 292.5,149.5" fill="#00ff8a" stroke="#00ff8a"/>
<polygon points="426.5,141.5 433.5,141.5 433.5,138.5 426.5,138.5" fill="#ff00ce" stroke="#ff00ce"/>
<polygon points="164.5,139.5 171.5,139.5 171.5,137.5 164.5,136.5" fill="#ff0000" stroke="#ff0000"/>
<polygon points="433.5,141.5 440.5,140.5 440.5,137.5 433.5,138.5" fill="#ff00bb" stroke="#ff00bb"/>
<polygon points="171.5,139.5 178.5,139.5 179.5,137.5 171.5,137.5" fill="#ff0000" stroke="#ff0000"/>
<polygon points="298.5,152.5 305.5,151.5 306.5,148.5 299.5,148.5" fill="#00ffbe" stroke="#00ffbe"/>
<polygon points="178.5,139.5 185.5,139.5 186.5,137.5 179.5,137.5" fill="#ff0000" stroke="#ff0000"/>
<polygon points="440.5,140.5 447.5,140.5 447.5,137.5 440.5,137.5" fill="#ff00a8" stroke="#ff00a8"/>
<polygon points="214.5,140.5 221.5,145.5 221.5,143.5 214.5,137.5" fill="#fd00ff" stroke="#fd00ff"/>
<polygon points="185.5,139.5 192.5,140.5 193.5,137.5 186.5,137.5" fill="#ff0000" stroke="#ff0000"/>
<polygon points="447.5,140.5 454.5,140.5 454.5,137.5 447.5,137.5" fill="#ff0096" stroke="#ff0096"/>
<polygon points="192.5,140.5 199.5,140.5 200.5,137.5 193.5,137.5" fill="#ff0000" stroke="#ff0000"/>
<polygon points="305.5,151.5 312.5,150.5 313.5,147.5 306.5,148.5" fill="#00fff1" stroke="#00fff1"/>
<polygon points="454.5,140.5 461.5,140.5 461.5,137.5 454.5,137.5" fill="#ff0085" stroke="#ff0085"/>
<polygon points="199.5,140.5 206.5,140.5 207.5,137.5 200.5,137.5" fill="#ff0000" stroke="#ff0000"/>
<polygon points="461.5,140.5 468.5,140.5 468.5,137.5 461.5,137.5" fill="#ff0075" stroke="#ff0075"/>
<polygon points="206.5,140.5 214.5,140.5 214.5,137.5 207.5,137.5" fill="#ff0000" stroke="#ff0000"/>
<polygon points="312.5,150.5 320.5,149.5 320.5,146.5 313.5,147.5" fill="#00ddff" stroke="#00ddff"/>
<polygon points="468.5,140.5 475.5,140.5 475.5,137.5 468.5,137.5" fill="#ff0066" stroke="#ff0066"/>
<polygon points="475.5,140.5 482.5,140.5 483.5,137.5 475.5,137.5" fill="#ff0057" stroke="#ff0057"/>
<polygon points="320.5,149.5 327.5,149.5 327.5,145.5 320.5,146.5" fill="#00b0ff" stroke="#00b0ff"/>
<polygon points="482.5,140.5 489.5,140.5 490.5,137.5 483.5,137.5" fill="#ff0049" stroke="#ff0049"/>
<polygon points="327.5,149.5 334.5,148.5 334.5,145.5 327.5,145.5" fill="#0084ff" stroke="#0084ff"/>
<polygon points="242.5,163.5 249.5,164.5 249.5,161.5 242.5,160.5" fill="#a9ff00" stroke="#a9ff00"/>
<polygon points="334.5,148.5 341.5,147.5 341.5,144.5 334.5,145.5" fill="#005bff" stroke="#005bff"/>
<polygon points="249.5,164.5 256.5,164.5 256.5,160.5 249.5,161.5" fill="#aeff00" stroke="#aeff00"/>
<polygon points="234.5,160.5 242.5,163.5 242.5,160.5 235.5,157.5" fill="#6eff00" stroke="#6eff00"/>
<polygon points="341.5,147.5 348.5,147.5 348.5,144.5 341.5,144.5" fill="#0034ff" stroke="#0034ff"/>
<polygon points="256.5,164.5 263.5,163.5 263.5,159.5 256.5,160.5" fill="#95ff00" stroke="#95ff00"/>
<polygon points="348.5,147.5 355.5,147.5 355.5,143.5 348.5,144.5" fill="#000fff" stroke="#000fff"/>
<polygon points="355.5,147.5 362.5,146.5 362.5,143.5 355.5,143.5" fill="#1400ff" stroke="#1400ff"/>
<polygon points="263.5,163.5 270.5,161.5 270.5,157.5 263.5,159.5" fill="#6bff00" stroke="#6bff00"/>
<polygon points="362.5,146.5 369.5,146.5 369.5,143.5 362.5,143.5" fill="#3600ff" stroke="#3600ff"/>
<polygon points="227.5,154.5 234.5,160.5 235.5,157.5 228.5,152.5" fill="#00ff2a" stroke="#00ff2a"/>
<polygon points="369.5,146.5 376.5,145.5 376.5,142.5 369.5,143.5" fill="#5500ff" stroke="#5500ff"/>
<polygon points="270.5,161.5 277.5,159.5 277.5,156.5 270.5,157.5" fill="#39ff00" stroke="#39ff00"/>
<polygon points="376.5,145.5 383.5,145.5 383.5,142.5 376.5,142.5" fill="#7300ff" stroke="#7300ff"/>
<polygon points="383.5,145.5 390.5,145.5 390.5,142.5 383.5,142.5" fill="#9000ff" stroke="#9000ff"/>
<polygon points="277.5,159.5 284.5,158.5 284.5,154.5 277.5,156.5" fill="#04ff00" stroke="#04ff00"/>
<polygon points="390.5,145.5 397.5,145.5 397.5,142.5 390.5,142.5" fill="#ab00ff" stroke="#ab00ff"/>
<polygon points="397.5,145.5 404.5,144.5 405.5,141.5 397.5,142.5" fill="#c400ff" stroke="#c400ff"/>
<polygon points="220.5,147.5 227.5,154.5 228.5,152.5 221.5,145.5" fill="#0098ff" stroke="#0098ff"/>
<polygon points="284.5,158.5 291.5,157.5 291.5,153.5 284.5,154.5" fill="#00ff33" stroke="#00ff33"/>
<polygon points="404.5,144.5 411.5,144.5 412.5,141.5 405.5,141.5" fill="#dd00ff" stroke="#dd00ff"/>
<polygon points="411.5,144.5 418.5,144.5 419.5,141.5 412.5,141.5" fill="#f400ff" stroke="#f400ff"/>
<polygon points="418.5,144.5 425.5,144.5 426.5,141.5 419.5,141.5" fill="#ff00f4" stroke="#ff00f4"/>
<polygon points="150.5,142.5 157.5,142.5 157.5,139.5 150.5,139.5" fill="#ff0000" stroke="#ff0000"/>
<polygon points="291.5,157.5 298.5,155.5 298.5,152.5 291.5,153.5" fill="#00ff6a" stroke="#00ff6a"/>
<polygon points="157.5,142.5 164.5,142.5 164.5,139.5 157.5,139.5" fill="#ff0000" stroke="#ff0000"/>
<polygon points="425.5,144.5 432.5,144.5 433.5,141.5 426.5,141.5" fill="#ff00df" stroke="#ff00df"/>
<polygon points="164.5,142.5 171.5,142.5 171.5,139.5 164.5,139.5" fill="#ff0000" stroke="#ff0000"/>
<polygon points="432.5,144.5 440.5,144.5 440.5,140.5 433.5,141.5" fill="#ff00cb" stroke="#ff00cb"/>
<polygon points="298.5,155.5 305.5,154.5 305.5,151.5 298.5,152.5" fill="#00ff9f" stroke="#00ff9f"/>
<polygon points="171.5,142.5 178.5,142.5 178.5,139.5 171.5,139.5" fill="#ff0000" stroke="#ff0000"/>
<polygon points="440.5,144.5 447.5,143.5 447.5,140.5 440.5,140.5" fill="#ff00b8" stroke="#ff00b8"/>
<polygon points="178.5,142.5 185.5,142.5 185.5,139.5 178.5,139.5" fill="#ff0000" stroke="#ff0000"/>
<polygon points="185.5,142.5 192.5,142.5 192.5,140.5 185.5,139.5" fill="#ff0000" stroke="#ff0000"/>
<polygon points="213.5,143.5 220.5,147.5 221.5,145.5 214.5,140.5" fill="#ff00e2" stroke="#ff00e2"/>
<polygon points="447.5,143.5 454.5,143.5 454.5,140.5 447.5,140.5" fill="#ff00a5" stroke="#ff00a5"/>
<polygon points="305.5,154.5 312.5,154.5 312.5,150.5 305.5,151.5" fill="#00ffd2" stroke="#00ffd2"/>
<polygon points="192.5,142.5 199.5,142.5 199.5,140.5 192.5,140.5" fill="#ff0000" stroke="#ff0000"/>
<polygon points="454.5,143.5 461.5,143.5 461.5,140.5 454.5,140.5" fill="#ff0094" stroke="#ff0094"/>
<polygon points="199.5,142.5 206.5,143.5 206.5,140.5 199.5,140.5" fill="#ff0000" stroke="#ff0000"/>
<polygon points="461.5,143.5 468.5,143.5 468.5,140.5 461.5,140.5" fill="#ff0083" stroke="#ff0083"/>
<polygon points="312.5,154.5 319.5,153.5 320.5,149.5 312.5,150.5" fill="#00fbff" stroke="#00fbff"/>
<polygon points="206.5,143.5 213.5,143.5 214.5,140.5 206.5,140.5" fill="#ff0000" stroke="#ff0000"/>
<polygon points="468.5,143.5 475.5,143.5 475.5,140.5 468.5,140.5" fill="#ff0073" stroke="#ff0073"/>
<polygon points="475.5,143.5 482.5,143.5 482.5,140.5 475.5,140.5" fill="#ff0064" stroke="#ff0064"/>
<polygon points="319.5,153.5 326.5,152.5 327.5,149.5 320.5,149.5" fill="#00cdff" stroke="#00cdff"/>
<polygon points="482.5,143.5 489.5,143.5 489.5,140.5 482.5,140.5" fill="#ff0056" stroke="#ff0056"/>
<polygon points="326.5,152.5 333.5,151.5 334.5,148.5 327.5,149.5" fill="#00a0ff" stroke="#00a0ff"/>
<polygon points="241.5,166.5 248.5,168.5 249.5,164.5 242.5,163.5" fill="#bbff00" stroke="#bbff00"/>
<polygon points="248.5,168.5 255.5,168.5 256.5,164.5 249.5,164.5" fill="#c8ff00" stroke="#c8ff00"/>
<polygon points="333.5,151.5 340.5,151.5 341.5,147.5 334.5,148.5" fill="#0076ff" stroke="#0076ff"/>
<polygon points="255.5,168.5 262.5,167.5 263.5,163.5 256.5,164.5" fill="#b3ff00" stroke="#b3ff00"/>
<polygon points="340.5,151.5 347.5,150.5 348.5,147.5 341.5,147.5" fill="#004eff" stroke="#004eff"/>
<polygon points="234.5,162.5 241.5,166.5 242.5,163.5 234.5,160.5" fill="#74ff00" stroke="#74ff00"/>
<polygon points="347.5,150.5 355.5,150.5 355.5,147.5 348.5,147.5" fill="#0028ff" stroke="#0028ff"/>
<polygon points="262.5,167.5 269.5,165.5 270.5,161.5 263.5,163.5" fill="#8cff00" stroke="#8cff00"/>
<polygon points="355.5,150.5 362.5,149.5 362.5,146.5 355.5,147.5" fill="#0004ff" stroke="#0004ff"/>
<polygon points="362.5,149.5 369.5,149.5 369.5,146.5 362.5,146.5" fill="#1e00ff" stroke="#1e00ff"/>
<polygon points="269.5,165.5 277.5,163.5 277.5,159.5 270.5,161.5" fill="#5bff00" stroke="#5bff00"/>
<polygon points="227.5,156.5 234.5,162.5 234.5,160.5 227.5,154.5" fill="#00ff3a" stroke="#00ff3a"/>
<polygon points="369.5,149.5 376.5,149.5 376.5,145.5 369.5,146.5" fill="#3e00ff" stroke="#3e00ff"/>
<polygon points="376.5,149.5 383.5,148.5 383.5,145.5 376.5,145.5" fill="#5d00ff" stroke="#5d00ff"/>
<polygon points="277.5,163.5 284.5,162.5 284.5,158.5 277.5,159.5" fill="#26ff00" stroke="#26ff00"/>
<polygon points="383.5,148.5 390.5,148.5 390.5,145.5 383.5,145.5" fill="#7a00ff" stroke="#7a00ff"/>
<polygon points="390.5,148.5 397.5,148.5 397.5,145.5 390.5,145.5" fill="#9600ff" stroke="#9600ff"/>
<polygon points="397.5,148.5 404.5,147.5 404.5,144.5 397.5,145.5" fill="#b000ff" stroke="#b000ff"/>
<polygon points="284.5,162.5 291.5,160.5 291.5,157.5 284.5,158.5" fill="#00ff11" stroke="#00ff11"/>
<polygon points="404.5,147.5 411.5,147.5 411.5,144.5 404.5,144.5" fill="#c900ff" stroke="#c900ff"/>
<polygon points="220.5,149.5 227.5,156.5 227.5,154.5 220.5,147.5" fill="#0066ff" stroke="#0066ff"/>
<polygon points="411.5,147.5 418.5,147.5 418.5,144.5 411.5,144.5" fill="#e100ff" stroke="#e100ff"/>
<polygon points="291.5,160.5 298.5,159.5 298.5,155.5 291.5,157.5" fill="#00ff48" stroke="#00ff48"/>
<polygon points="418.5,147.5 425.5,147.5 425.5,144.5 418.5,144.5" fill="#f800ff" stroke="#f800ff"/>
<polygon points="149.5,145.5 156.5,145.5 157.5,142.5 150.5,142.5" fill="#ff0000" stroke="#ff0000"/>
<polygon points="425.5,147.5 432.5,147.5 432.5,144.5 425.5,144.5" fill="#ff00f0" stroke="#ff00f0"/>
<polygon points="156.5,145.5 164.5,145.5 164.5,142.5 157.5,142.5" fill="#ff0000" stroke="#ff0000"/>
<polygon points="298.5,159.5 305.5,158.5 305.5,154.5 298.5,155.5" fill="#00ff7e" stroke="#00ff7e"/>
<polygon points="164.5,145.5 171.5,145.5 171.5,142.5 164.5,142.5" fill="#ff0000" stroke="#ff0000"/>
<polygon points="432.5,147.5 439.5,147.5 440.5,144.5 432.5,144.5" fill="#ff00dc" stroke="#ff00dc"/>
<polygon points="171.5,145.5 178.5,145.5 178.5,142.5 171.5,142.5" fill="#ff0000" stroke="#ff0000"/>
<polygon points="439.5,147.5 446.5,146.5 447.5,143.5 440.5,144.5" fill="#ff00c8" stroke="#ff00c8"/>
<polygon points="178.5,145.5 185.5,145.5 185.5,142.5 178.5,142.5" fill="#ff0000" stroke="#ff0000"/>
<polygon points="305.5,158.5 312.5,157.5 312.5,154.5 305.5,154.5" fill="#00ffb1" stroke="#00ffb1"/>
<polygon points="446.5,146.5 453.5,146.5 454.5,143.5 447.5,143.5" fill="#ff00b5" stroke="#ff00b5"/>
<polygon points="185.5,145.5 192.5,145.5 192.5,142.5 185.5,142.5" fill="#ff0000" stroke="#ff0000"/>
<polygon points="213.5,145.5 220.5,149.5 220.5,147.5 213.5,143.5" fill="#ff00be" stroke="#ff00be"/>
<polygon points="192.5,145.5 199.5,145.5 199.5,142.5 192.5,142.5" fill="#ff0000" stroke="#ff0000"/>
<polygon points="453.5,146.5 460.5,146.5 461.5,143.5 454.5,143.5" fill="#ff00a3" stroke="#ff00a3"/>
<polygon points="312.5,157.5 319.5,156.5 319.5,153.5 312.5,154.5" fill="#00ffe3" stroke="#00ffe3"/>
<polygon points="199.5,145.5 206.5,145.5 206.5,143.5 199.5,142.5" fill="#ff0000" stroke="#ff0000"/>
<polygon points="460.5,146.5 468.5,146.5 468.5,143.5 461.5,143.5" fill="#ff0092" stroke="#ff0092"/>
<polygon points="206.5,145.5 213.5,145.5 213.5,143.5 206.5,143.5" fill="#ff0000" stroke="#ff0000"/>
<polygon points="468.5,146.5 475.5,146.5 475.5,143.5 468.5,143.5" fill="#ff0082" stroke="#ff0082"/>
<polygon points="319.5,156.5 326.5,155.5 326.5,152.5 319.5,153.5" fill="#00ebff" stroke="#00ebff"/>
<polygon points="475.5,146.5 482.5,146.5 482.5,143.5 475.5,143.5" fill="#ff0072" stroke="#ff0072"/>
<polygon points="482.5,146.5 489.5,146.5 489.5,143.5 482.5,143.5" fill="#ff0063" stroke="#ff0063"/>
<polygon points="248.5,172.5 255.5,172.5 255.5,168.5 248.5,168.5" fill="#e1ff00" stroke="#e1ff00"/>
<polygon points="326.5,155.5 333.5,155.5 333.5,151.5 326.5,152.5" fill="#00beff" stroke="#00beff"/>
<polygon points="241.5,170.5 248.5,172.5 248.5,168.5 241.5,166.5" fill="#cbff00" stroke="#cbff00"/>
<polygon points="255.5,172.5 262.5,171.5 262.5,167.5 255.5,168.5" fill="#d1ff00" stroke="#d1ff00"/>
<polygon points="333.5,155.5 340.5,154.5 340.5,151.5 333.5,151.5" fill="#0093ff" stroke="#0093ff"/>
<polygon points="340.5,154.5 347.5,154.5 347.5,150.5 340.5,151.5" fill="#006aff" stroke="#006aff"/>
<polygon points="234.5,165.5 241.5,170.5 241.5,166.5 234.5,162.5" fill="#76ff00" stroke="#76ff00"/>
<polygon points="262.5,171.5 269.5,169.5 269.5,165.5 262.5,167.5" fill="#adff00" stroke="#adff00"/>
<polygon points="347.5,154.5 354.5,153.5 355.5,150.5 347.5,150.5" fill="#0043ff" stroke="#0043ff"/>
<polygon points="354.5,153.5 361.5,153.5 362.5,149.5 355.5,150.5" fill="#001fff" stroke="#001fff"/>
<polygon points="269.5,169.5 276.5,167.5 277.5,163.5 269.5,165.5" fill="#7eff00" stroke="#7eff00"/>
<polygon points="361.5,153.5 368.5,152.5 369.5,149.5 362.5,149.5" fill="#0400ff" stroke="#0400ff"/>
<polygon points="368.5,152.5 375.5,152.5 376.5,149.5 369.5,149.5" fill="#2600ff" stroke="#2600ff"/>
<polygon points="227.5,158.5 234.5,165.5 234.5,162.5 227.5,156.5" fill="#00ff50" stroke="#00ff50"/>
<polygon points="375.5,152.5 382.5,151.5 383.5,148.5 376.5,149.5" fill="#4500ff" stroke="#4500ff"/>
<polygon points="276.5,167.5 283.5,166.5 284.5,162.5 277.5,163.5" fill="#49ff00" stroke="#49ff00"/>
<polygon points="382.5,151.5 390.5,151.5 390.5,148.5 383.5,148.5" fill="#6300ff" stroke="#6300ff"/>
<polygon points="390.5,151.5 397.5,151.5 397.5,148.5 390.5,148.5" fill="#8000ff" stroke="#8000ff"/>
<polygon points="283.5,166.5 290.5,164.5 291.5,160.5 284.5,162.5" fill="#12ff00" stroke="#12ff00"/>
<polygon points="397.5,151.5 404.5,151.5 404.5,147.5 397.5,148.5" fill="#9b00ff" stroke="#9b00ff"/>
<polygon points="404.5,151.5 411.5,150.5 411.5,147.5 404.5,147.5" fill="#b500ff" stroke="#b500ff"/>
<polygon points="290.5,164.5 297.5,163.5 298.5,159.5 291.5,160.5" fill="#00ff25" stroke="#00ff25"/>
<polygon points="411.5,150.5 418.5,150.5 418.5,147.5 411.5,147.5" fill="#cd00ff" stroke="#cd00ff"/>
<polygon points="418.5,150.5 425.5,150.5 425.5,147.5 418.5,147.5" fill="#e500ff" stroke="#e500ff"/>
<polygon points="220.5,151.5 227.5,158.5 227.5,156.5 220.5,149.5" fill="#0029ff" stroke="#0029ff"/>
<polygon points="149.5,148.5 156.5,148.5 156.5,145.5 149.5,145.5" fill="#ff0000" stroke="#ff0000"/>
<polygon points="297.5,163.5 304.5,162.5 305.5,158.5 298.5,159.5" fill="#00ff5b" stroke="#00ff5b"/>
<polygon points="425.5,150.5 432.5,150.5 432.5,147.5 425.5,147.5" fill="#fb00ff" stroke="#fb00ff"/>
<polygon points="156.5,148.5 163.5,148.5 164.5,145.5 156.5,145.5" fill="#ff0000" stroke="#ff0000"/>
<polygon points="432.5,150.5 439.5,150.5 439.5,147.5 432.5,147.5" fill="#ff00ee" stroke="#ff00ee"/>
<polygon points="163.5,148.5 170.5,148.5 171.5,145.5 164.5,145.5" fill="#ff0000" stroke="#ff0000"/>
<polygon points="170.5,148.5 177.5,148.5 178.5,145.5 171.5,145.5" fill="#ff0000" stroke="#ff0000"/>
<polygon points="439.5,150.5 446.5,149.5 446.5,146.5 439.5,147.5" fill="#ff00da" stroke="#ff00da"/>
<polygon points="304.5,162.5 312.5,161.5 312.5,157.5 305.5,158.5" fill="#00ff8f" stroke="#00ff8f"/>
<polygon points="177.5,148.5 184.5,148.5 185.5,145.5 178.5,145.5" fill="#ff0000" stroke="#ff0000"/>
<polygon points="446.5,149.5 453.5,149.5 453.5,146.5 446.5,146.5" fill="#ff00c6" stroke="#ff00c6"/>
<polygon points="184.5,148.5 191.5,148.5 192.5,145.5 185.5,145.5" fill="#ff0000" stroke="#ff0000"/>
<polygon points="453.5,149.5 460.5,149.5 460.5,146.5 453.5,146.5" fill="#ff00b4" stroke="#ff00b4"/>
<polygon points="312.5,161.5 319.5,160.5 319.5,156.5 312.5,157.5" fill="#00ffc2" stroke="#00ffc2"/>
<polygon points="191.5,148.5 199.5,148.5 199.5,145.5 192.5,145.5" fill="#ff0000" stroke="#ff0000"/>
<polygon points="213.5,148.5 220.5,151.5 220.5,149.5 213.5,145.5" fill="#ff0093" stroke="#ff0093"/>
<polygon points="199.5,148.5 206.5,148.5 206.5,145.5 199.5,145.5" fill="#ff0000" stroke="#ff0000"/>
<polygon points="460.5,149.5 467.5,149.5 468.5,146.5 460.5,146.5" fill="#ff00a2" stroke="#ff00a2"/>
<polygon points="206.5,148.5 213.5,148.5 213.5,145.5 206.5,145.5" fill="#ff0000" stroke="#ff0000"/>
<polygon points="319.5,160.5 326.5,159.5 326.5,155.5 319.5,156.5" fill="#00fff2" stroke="#00fff2"/>
<polygon points="467.5,149.5 474.5,149.5 475.5,146.5 468.5,146.5" fill="#ff0091" stroke="#ff0091"/>
<polygon points="248.5,176.5 255.5,177.5 255.5,172.5 248.5,172.5" fill="#f9ff00" stroke="#f9ff00"/>
<polygon points="474.5,149.5 481.5,149.5 482.5,146.5 475.5,146.5" fill="#ff0081" stroke="#ff0081"/>
<polygon points="326.5,159.5 333.5,158.5 333.5,155.5 326.5,155.5" fill="#00deff" stroke="#00deff"/>
<polygon points="481.5,149.5 488.5,149.5 489.5,146.5 482.5,146.5" fill="#ff0072" stroke="#ff0072"/>
<polygon points="241.5,173.5 248.5,176.5 248.5,172.5 241.5,170.5" fill="#d9ff00" stroke="#d9ff00"/>
<polygon points="255.5,177.5 262.5,175.5 262.5,171.5 255.5,172.5" fill="#efff00" stroke="#efff00"/>
<polygon points="333.5,158.5 340.5,157.5 340.5,154.5 333.5,155.5" fill="#00b2ff" stroke="#00b2ff"/>
<polygon points="262.5,175.5 269.5,174.5 269.5,169.5 262.5,171.5" fill="#cfff00" stroke="#cfff00"/>
<polygon points="340.5,157.5 347.5,157.5 347.5,154.5 340.5,154.5" fill="#0088ff" stroke="#0088ff"/>
<polygon points="234.5,167.5 241.5,173.5 241.5,170.5 234.5,165.5" fill="#73ff00" stroke="#73ff00"/>
<polygon points="347.5,157.5 354.5,156.5 354.5,153.5 347.5,154.5" fill="#0060ff" stroke="#0060ff"/>
<polygon points="354.5,156.5 361.5,156.5 361.5,153.5 354.5,153.5" fill="#003aff" stroke="#003aff"/>
<polygon points="269.5,174.5 276.5,172.5 276.5,167.5 269.5,169.5" fill="#a2ff00" stroke="#a2ff00"/>
<polygon points="361.5,156.5 368.5,155.5 368.5,152.5 361.5,153.5" fill="#0016ff" stroke="#0016ff"/>
<polygon points="368.5,155.5 375.5,155.5 375.5,152.5 368.5,152.5" fill="#0c00ff" stroke="#0c00ff"/>
<polygon points="276.5,172.5 283.5,170.5 283.5,166.5 276.5,167.5" fill="#6eff00" stroke="#6eff00"/>
<polygon points="375.5,155.5 382.5,155.5 382.5,151.5 375.5,152.5" fill="#2c00ff" stroke="#2c00ff"/>
<polygon points="226.5,160.5 234.5,167.5 234.5,165.5 227.5,158.5" fill="#00ff6d" stroke="#00ff6d"/>
<polygon points="382.5,155.5 389.5,154.5 390.5,151.5 382.5,151.5" fill="#4b00ff" stroke="#4b00ff"/>
<polygon points="283.5,170.5 290.5,168.5 290.5,164.5 283.5,166.5" fill="#37ff00" stroke="#37ff00"/>
<polygon points="389.5,154.5 396.5,154.5 397.5,151.5 390.5,151.5" fill="#6800ff" stroke="#6800ff"/>
<polygon points="396.5,154.5 403.5,154.5 404.5,151.5 397.5,151.5" fill="#8400ff" stroke="#8400ff"/>
<polygon points="290.5,168.5 297.5,167.5 297.5,163.5 290.5,164.5" fill="#00ff00" stroke="#00ff00"/>
<polygon points="403.5,154.5 410.5,153.5 411.5,150.5 404.5,151.5" fill="#9f00ff" stroke="#9f00ff"/>
<polygon points="410.5,153.5 417.5,153.5 418.5,150.5 411.5,150.5" fill="#b800ff" stroke="#b800ff"/>
<polygon points="417.5,153.5 425.5,153.5 425.5,150.5 418.5,150.5" fill="#d000ff" stroke="#d000ff"/>
<polygon points="297.5,167.5 304.5,165.5 304.5,162.5 297.5,163.5" fill="#00ff36" stroke="#00ff36"/>
<polygon points="149.5,151.5 156.5,151.5 156.5,148.5 149.5,148.5" fill="#ff0000" stroke="#ff0000"/>
<polygon points="425.5,153.5 432.5,153.5 432.5,150.5 425.5,150.5" fill="#e700ff" stroke="#e700ff"/>
<polygon points="219.5,152.5 226.5,160.5 227.5,158.5 220.5,151.5" fill="#2200ff" stroke="#2200ff"/>
<polygon points="156.5,151.5 163.5,151.5 163.5,148.5 156.5,148.5" fill="#ff0000" stroke="#ff0000"/>
<polygon points="432.5,153.5 439.5,153.5 439.5,150.5 432.5,150.5" fill="#fd00ff" stroke="#fd00ff"/>
<polygon points="163.5,151.5 170.5,151.5 170.5,148.5 163.5,148.5" fill="#ff0000" stroke="#ff0000"/>
<polygon points="304.5,165.5 311.5,164.5 312.5,161.5 304.5,162.5" fill="#00ff6c" stroke="#00ff6c"/>
<polygon points="439.5,153.5 446.5,153.5 446.5,149.5 439.5,150.5" fill="#ff00ec" stroke="#ff00ec"/>
<polygon points="170.5,151.5 177.5,151.5 177.5,148.5 170.5,148.5" fill="#ff0000" stroke="#ff0000"/>
<polygon points="177.5,151.5 184.5,151.5 184.5,148.5 177.5,148.5" fill="#ff0000" stroke="#ff0000"/>
<polygon points="446.5,153.5 453.5,152.5 453.5,149.5 446.5,149.5" fill="#ff00d8" stroke="#ff00d8"/>
<polygon points="311.5,164.5 318.5,163.5 319.5,160.5 312.5,161.5" fill="#00ff9f" stroke="#00ff9f"/>
<polygon points="184.5,151.5 191.5,151.5 191.5,148.5 184.5,148.5" fill="#ff0000" stroke="#ff0000"/>
<polygon points="453.5,152.5 460.5,152.5 460.5,149.5 453.5,149.5" fill="#ff00c5" stroke="#ff00c5"/>
<polygon points="191.5,151.5 198.5,151.5 199.5,148.5 191.5,148.5" fill="#ff0000" stroke="#ff0000"/>
<polygon points="460.5,152.5 467.5,152.5 467.5,149.5 460.5,149.5" fill="#ff00b3" stroke="#ff00b3"/>
<polygon points="198.5,151.5 205.5,151.5 206.5,148.5 199.5,148.5" fill="#ff0000" stroke="#ff0000"/>
<polygon points="318.5,163.5 325.5,162.5 326.5,159.5 319.5,160.5" fill="#00ffd0" stroke="#00ffd0"/>
<polygon points="212.5,151.5 219.5,152.5 220.5,151.5 213.5,148.5" fill="#ff0060" stroke="#ff0060"/>
<polygon points="247.5,180.5 254.5,181.5 255.5,177.5 248.5,176.5" fill="#ffef00" stroke="#ffef00"/>
<polygon points="205.5,151.5 212.5,151.5 213.5,148.5 206.5,148.5" fill="#ff0000" stroke="#ff0000"/>
<polygon points="467.5,152.5 474.5,152.5 474.5,149.5 467.5,149.5" fill="#ff00a2" stroke="#ff00a2"/>
<polygon points="254.5,181.5 262.5,180.5 262.5,175.5 255.5,177.5" fill="#fff100" stroke="#fff100"/>
<polygon points="474.5,152.5 481.5,152.5 481.5,149.5 474.5,149.5" fill="#ff0091" stroke="#ff0091"/>
<polygon points="325.5,162.5 332.5,162.5 333.5,158.5 326.5,159.5" fill="#00ffff" stroke="#00ffff"/>
<polygon points="240.5,176.5 247.5,180.5 248.5,176.5 241.5,173.5" fill="#e4ff00" stroke="#e4ff00"/>
<polygon points="481.5,152.5 488.5,152.5 488.5,149.5 481.5,149.5" fill="#ff0081" stroke="#ff0081"/>
<polygon points="332.5,162.5 339.5,161.5 340.5,157.5 333.5,158.5" fill="#00d2ff" stroke="#00d2ff"/>
<polygon points="262.5,180.5 269.5,178.5 269.5,174.5 262.5,175.5" fill="#f1ff00" stroke="#f1ff00"/>
<polygon points="339.5,161.5 347.5,160.5 347.5,157.5 340.5,157.5" fill="#00a7ff" stroke="#00a7ff"/>
<polygon points="347.5,160.5 354.5,160.5 354.5,156.5 347.5,157.5" fill="#007fff" stroke="#007fff"/>
<polygon points="269.5,178.5 276.5,176.5 276.5,172.5 269.5,174.5" fill="#c6ff00" stroke="#c6ff00"/>
<polygon points="233.5,169.5 240.5,176.5 241.5,173.5 234.5,167.5" fill="#6aff00" stroke="#6aff00"/>
<polygon points="354.5,160.5 361.5,159.5 361.5,156.5 354.5,156.5" fill="#0058ff" stroke="#0058ff"/>
<polygon points="361.5,159.5 368.5,159.5 368.5,155.5 361.5,156.5" fill="#0033ff" stroke="#0033ff"/>
<polygon points="276.5,176.5 283.5,174.5 283.5,170.5 276.5,172.5" fill="#94ff00" stroke="#94ff00"/>
<polygon points="368.5,159.5 375.5,158.5 375.5,155.5 368.5,155.5" fill="#0010ff" stroke="#0010ff"/>
<polygon points="375.5,158.5 382.5,158.5 382.5,155.5 375.5,155.5" fill="#1100ff" stroke="#1100ff"/>
<polygon points="283.5,174.5 290.5,172.5 290.5,168.5 283.5,170.5" fill="#5eff00" stroke="#5eff00"/>
<polygon points="382.5,158.5 389.5,157.5 389.5,154.5 382.5,155.5" fill="#3100ff" stroke="#3100ff"/>
<polygon points="226.5,162.5 233.5,169.5 234.5,167.5 226.5,160.5" fill="#00ff95" stroke="#00ff95"/>
<polygon points="389.5,157.5 396.5,157.5 396.5,154.5 389.5,154.5" fill="#4f00ff" stroke="#4f00ff"/>
<polygon points="396.5,157.5 403.5,157.5 403.5,154.5 396.5,154.5" fill="#6c00ff" stroke="#6c00ff"/>
<polygon points="290.5,172.5 297.5,171.5 297.5,167.5 290.5,168.5" fill="#27ff00" stroke="#27ff00"/>
<polygon points="403.5,157.5 410.5,157.5 410.5,153.5 403.5,154.5" fill="#8700ff" stroke="#8700ff"/>
<polygon points="410.5,157.5 417.5,156.5 417.5,153.5 410.5,153.5" fill="#a100ff" stroke="#a100ff"/>
<polygon points="297.5,171.5 304.5,169.5 304.5,165.5 297.5,167.5" fill="#00ff10" stroke="#00ff10"/>
<polygon points="417.5,156.5 424.5,156.5 425.5,153.5 417.5,153.5" fill="#ba00ff" stroke="#ba00ff"/>
<polygon points="424.5,156.5 431.5,156.5 432.5,153.5 425.5,153.5" fill="#d200ff" stroke="#d200ff"/>
<polygon points="148.5,153.5 156.5,154.5 156.5,151.5 149.5,151.5" fill="#ff0000" stroke="#ff0000"/>
<polygon points="304.5,169.5 311.5,168.5 311.5,164.5 304.5,165.5" fill="#00ff46" stroke="#00ff46"/>
<polygon points="156.5,154.5 163.5,154.5 163.5,151.5 156.5,151.5" fill="#ff0000" stroke="#ff0000"/>
<polygon points="431.5,156.5 438.5,156.5 439.5,153.5 432.5,153.5" fill="#e800ff" stroke="#e800ff"/>
<polygon points="163.5,154.5 170.5,154.5 170.5,151.5 163.5,151.5" fill="#ff0000" stroke="#ff0000"/>
<polygon points="438.5,156.5 445.5,156.5 446.5,153.5 439.5,153.5" fill="#fe00ff" stroke="#fe00ff"/>
<polygon points="219.5,154.5 226.5,162.5 226.5,160.5 219.5,152.5" fill="#7d00ff" stroke="#7d00ff"/>
<polygon points="170.5,154.5 177.5,154.5 177.5,151.5 170.5,151.5" fill="#ff0000" stroke="#ff0000"/>
<polygon points="311.5,168.5 318.5,167.5 318.5,163.5 311.5,164.5" fill="#00ff7a" stroke="#00ff7a"/>
<polygon points="177.5,154.5 184.5,154.5 184.5,151.5 177.5,151.5" fill="#ff0000" stroke="#ff0000"/>
<polygon points="445.5,156.5 452.5,155.5 453.5,152.5 446.5,153.5" fill="#ff00ec" stroke="#ff00ec"/>
<polygon points="184.5,154.5 191.5,154.5 191.5,151.5 184.5,151.5" fill="#ff0000" stroke="#ff0000"/>
<polygon points="452.5,155.5 460.5,155.5 460.5,152.5 453.5,152.5" fill="#ff00d8" stroke="#ff00d8"/>
<polygon points="247.5,183.5 254.5,185.5 254.5,181.5 247.5,180.5" fill="#ffdb00" stroke="#ffdb00"/>
<polygon points="191.5,154.5 198.5,154.5 198.5,151.5 191.5,151.5" fill="#ff0000" stroke="#ff0000"/>
<polygon points="254.5,185.5 261.5,185.5 262.5,180.5 254.5,181.5" fill="#ffd400" stroke="#ffd400"/>
<polygon points="318.5,167.5 325.5,166.5 325.5,162.5 318.5,163.5" fill="#00ffac" stroke="#00ffac"/>
<polygon points="460.5,155.5 467.5,155.5 467.5,152.5 460.5,152.5" fill="#ff00c5" stroke="#ff00c5"/>
<polygon points="198.5,154.5 205.5,154.5 205.5,151.5 198.5,151.5" fill="#ff0000" stroke="#ff0000"/>
<polygon points="467.5,155.5 474.5,155.5 474.5,152.5 467.5,152.5" fill="#ff00b3" stroke="#ff00b3"/>
<polygon points="205.5,154.5 212.5,154.5 212.5,151.5 205.5,151.5" fill="#ff0000" stroke="#ff0000"/>
<polygon points="212.5,154.5 219.5,154.5 219.5,152.5 212.5,151.5" fill="#ff0023" stroke="#ff0023"/>
<polygon points="325.5,166.5 332.5,165.5 332.5,162.5 325.5,162.5" fill="#00ffdc" stroke="#00ffdc"/>
<polygon points="261.5,185.5 268.5,183.5 269.5,178.5 262.5,180.5" fill="#ffeb00" stroke="#ffeb00"/>
<polygon points="474.5,155.5 481.5,155.5 481.5,152.5 474.5,152.5" fill="#ff00a2" stroke="#ff00a2"/>
<polygon points="240.5,178.5 247.5,183.5 247.5,180.5 240.5,176.5" fill="#eaff00" stroke="#eaff00"/>
<polygon points="481.5,155.5 488.5,155.5 488.5,152.5 481.5,152.5" fill="#ff0092" stroke="#ff0092"/>
<polygon points="332.5,165.5 339.5,164.5 339.5,161.5 332.5,162.5" fill="#00f4ff" stroke="#00f4ff"/>
<polygon points="339.5,164.5 346.5,164.5 347.5,160.5 339.5,161.5" fill="#00c9ff" stroke="#00c9ff"/>
<polygon points="268.5,183.5 275.5,181.5 276.5,176.5 269.5,178.5" fill="#ecff00" stroke="#ecff00"/>
<polygon points="346.5,164.5 353.5,163.5 354.5,160.5 347.5,160.5" fill="#009fff" stroke="#009fff"/>
<polygon points="233.5,171.5 240.5,178.5 240.5,176.5 233.5,169.5" fill="#5bff00" stroke="#5bff00"/>
<polygon points="353.5,163.5 360.5,162.5 361.5,159.5 354.5,160.5" fill="#0077ff" stroke="#0077ff"/>
<polygon points="275.5,181.5 282.5,178.5 283.5,174.5 276.5,176.5" fill="#bbff00" stroke="#bbff00"/>
<polygon points="360.5,162.5 367.5,162.5 368.5,159.5 361.5,159.5" fill="#0051ff" stroke="#0051ff"/>
<polygon points="367.5,162.5 374.5,161.5 375.5,158.5 368.5,159.5" fill="#002eff" stroke="#002eff"/>
<polygon points="282.5,178.5 289.5,176.5 290.5,172.5 283.5,174.5" fill="#86ff00" stroke="#86ff00"/>
<polygon points="374.5,161.5 382.5,161.5 382.5,158.5 375.5,158.5" fill="#000bff" stroke="#000bff"/>
<polygon points="382.5,161.5 389.5,161.5 389.5,157.5 382.5,158.5" fill="#1500ff" stroke="#1500ff"/>
<polygon points="389.5,161.5 396.5,160.5 396.5,157.5 389.5,157.5" fill="#3400ff" stroke="#3400ff"/>
<polygon points="289.5,176.5 297.5,175.5 297.5,171.5 290.5,172.5" fill="#4fff00" stroke="#4fff00"/>
<polygon points="226.5,164.5 233.5,171.5 233.5,169.5 226.5,162.5" fill="#00ffc9" stroke="#00ffc9"/>
<polygon points="396.5,160.5 403.5,160.5 403.5,157.5 396.5,157.5" fill="#5200ff" stroke="#5200ff"/>
<polygon points="403.5,160.5 410.5,160.5 410.5,157.5 403.5,157.5" fill="#6e00ff" stroke="#6e00ff"/>
<polygon points="297.5,175.5 304.5,173.5 304.5,169.5 297.5,171.5" fill="#18ff00" stroke="#18ff00"/>
<polygon points="410.5,160.5 417.5,160.5 417.5,156.5 410.5,157.5" fill="#8900ff" stroke="#8900ff"/>
<polygon points="417.5,160.5 424.5,159.5 424.5,156.5 417.5,156.5" fill="#a200ff" stroke="#a200ff"/>
<polygon points="304.5,173.5 311.5,172.5 311.5,168.5 304.5,169.5" fill="#00ff1e" stroke="#00ff1e"/>
<polygon points="424.5,159.5 431.5,159.5 431.5,156.5 424.5,156.5" fill="#bb00ff" stroke="#bb00ff"/>
<polygon points="148.5,156.5 155.5,156.5 156.5,154.5 148.5,153.5" fill="#ff0000" stroke="#ff0000"/>
<polygon points="431.5,159.5 438.5,159.5 438.5,156.5 431.5,156.5" fill="#d200ff" stroke="#d200ff"/>
<polygon points="155.5,156.5 162.5,156.5 163.5,154.5 156.5,154.5" fill="#ff0000" stroke="#ff0000"/>
<polygon points="162.5,156.5 169.5,157.5 170.5,154.5 163.5,154.5" fill="#ff0000" stroke="#ff0000"/>
<polygon points="311.5,172.5 318.5,171.5 318.5,167.5 311.5,168.5" fill="#00ff53" stroke="#00ff53"/>
<polygon points="438.5,159.5 445.5,159.5 445.5,156.5 438.5,156.5" fill="#e800ff" stroke="#e800ff"/>
<polygon points="254.5,190.5 261.5,190.5 261.5,185.5 254.5,185.5" fill="#ffb900" stroke="#ffb900"/>
<polygon points="169.5,157.5 176.5,157.5 177.5,154.5 170.5,154.5" fill="#ff0000" stroke="#ff0000"/>
<polygon points="445.5,159.5 452.5,159.5 452.5,155.5 445.5,156.5" fill="#fe00ff" stroke="#fe00ff"/>
<polygon points="247.5,187.5 254.5,190.5 254.5,185.5 247.5,183.5" fill="#ffca00" stroke="#ffca00"/>
<polygon points="176.5,157.5 184.5,157.5 184.5,154.5 177.5,154.5" fill="#ff0000" stroke="#ff0000"/>
<polygon points="219.5,157.5 226.5,164.5 226.5,162.5 219.5,154.5" fill="#c400ff" stroke="#c400ff"/>
<polygon points="452.5,159.5 459.5,158.5 460.5,155.5 452.5,155.5" fill="#ff00ec" stroke="#ff00ec"/>
<polygon points="184.5,157.5 191.5,157.5 191.5,154.5 184.5,154.5" fill="#ff0000" stroke="#ff0000"/>
<polygon points="318.5,171.5 325.5,170.5 325.5,166.5 318.5,167.5" fill="#00ff86" stroke="#00ff86"/>
<polygon points="261.5,190.5 268.5,188.5 268.5,183.5 261.5,185.5" fill="#ffc900" stroke="#ffc900"/>
<polygon points="191.5,157.5 198.5,157.5 198.5,154.5 191.5,154.5" fill="#ff0000" stroke="#ff0000"/>
<polygon points="459.5,158.5 466.5,158.5 467.5,155.5 460.5,155.5" fill="#ff00d9" stroke="#ff00d9"/>
<polygon points="198.5,157.5 205.5,157.5 205.5,154.5 198.5,154.5" fill="#ff0000" stroke="#ff0000"/>
<polygon points="325.5,170.5 332.5,169.5 332.5,165.5 325.5,166.5" fill="#00ffb7" stroke="#00ffb7"/>
<polygon points="466.5,158.5 473.5,158.5 474.5,155.5 467.5,155.5" fill="#ff00c6" stroke="#ff00c6"/>
<polygon points="205.5,157.5 212.5,157.5 212.5,154.5 205.5,154.5" fill="#ff0000" stroke="#ff0000"/>
<polygon points="473.5,158.5 480.5,158.5 481.5,155.5 474.5,155.5" fill="#ff00b4" stroke="#ff00b4"/>
<polygon points="212.5,157.5 219.5,157.5 219.5,154.5 212.5,154.5" fill="#ff0001" stroke="#ff0001"/>
<polygon points="240.5,181.5 247.5,187.5 247.5,183.5 240.5,178.5" fill="#ebff00" stroke="#ebff00"/>
<polygon points="332.5,169.5 339.5,168.5 339.5,164.5 332.5,165.5" fill="#00ffe5" stroke="#00ffe5"/>
<polygon points="480.5,158.5 488.5,158.5 488.5,155.5 481.5,155.5" fill="#ff00a3" stroke="#ff00a3"/>
<polygon points="268.5,188.5 275.5,186.5 275.5,181.5 268.5,183.5" fill="#ffed00" stroke="#ffed00"/>
<polygon points="339.5,168.5 346.5,167.5 346.5,164.5 339.5,164.5" fill="#00ecff" stroke="#00ecff"/>
<polygon points="346.5,167.5 353.5,166.5 353.5,163.5 346.5,164.5" fill="#00c1ff" stroke="#00c1ff"/>
<polygon points="275.5,186.5 282.5,183.5 282.5,178.5 275.5,181.5" fill="#e3ff00" stroke="#e3ff00"/>
<polygon points="353.5,166.5 360.5,166.5 360.5,162.5 353.5,163.5" fill="#0099ff" stroke="#0099ff"/>
<polygon points="233.5,173.5 240.5,181.5 240.5,178.5 233.5,171.5" fill="#41ff00" stroke="#41ff00"/>
<polygon points="360.5,166.5 367.5,165.5 367.5,162.5 360.5,162.5" fill="#0072ff" stroke="#0072ff"/>
<polygon points="282.5,183.5 289.5,181.5 289.5,176.5 282.5,178.5" fill="#afff00" stroke="#afff00"/>
<polygon points="367.5,165.5 374.5,165.5 374.5,161.5 367.5,162.5" fill="#004dff" stroke="#004dff"/>
<polygon points="374.5,165.5 381.5,164.5 382.5,161.5 374.5,161.5" fill="#002aff" stroke="#002aff"/>
<polygon points="381.5,164.5 388.5,164.5 389.5,161.5 382.5,161.5" fill="#0008ff" stroke="#0008ff"/>
<polygon points="289.5,181.5 296.5,179.5 297.5,175.5 289.5,176.5" fill="#79ff00" stroke="#79ff00"/>
<polygon points="388.5,164.5 395.5,164.5 396.5,160.5 389.5,161.5" fill="#1800ff" stroke="#1800ff"/>
<polygon points="395.5,164.5 402.5,163.5 403.5,160.5 396.5,160.5" fill="#3600ff" stroke="#3600ff"/>
<polygon points="296.5,179.5 303.5,177.5 304.5,173.5 297.5,175.5" fill="#42ff00" stroke="#42ff00"/>
<polygon points="402.5,163.5 410.5,163.5 410.5,160.5 403.5,160.5" fill="#5300ff" stroke="#5300ff"/>
<polygon points="226.5,165.5 233.5,173.5 233.5,171.5 226.5,164.5" fill="#00f2ff" stroke="#00f2ff"/>
<polygon points="410.5,163.5 417.5,163.5 417.5,160.5 410.5,160.5" fill="#6f00ff" stroke="#6f00ff"/>
<polygon points="303.5,177.5 310.5,176.5 311.5,172.5 304.5,173.5" fill="#0bff00" stroke="#0bff00"/>
<polygon points="417.5,163.5 424.5,162.5 424.5,159.5 417.5,160.5" fill="#8900ff" stroke="#8900ff"/>
<polygon points="424.5,162.5 431.5,162.5 431.5,159.5 424.5,159.5" fill="#a200ff" stroke="#a200ff"/>
<polygon points="254.5,194.5 261.5,195.5 261.5,190.5 254.5,190.5" fill="#ffa000" stroke="#ffa000"/>
<polygon points="148.5,159.5 155.5,159.5 155.5,156.5 148.5,156.5" fill="#ff0000" stroke="#ff0000"/>
<polygon points="431.5,162.5 438.5,162.5 438.5,159.5 431.5,159.5" fill="#ba00ff" stroke="#ba00ff"/>
<polygon points="310.5,176.5 317.5,174.5 318.5,171.5 311.5,172.5" fill="#00ff2a" stroke="#00ff2a"/>
<polygon points="155.5,159.5 162.5,159.5 162.5,156.5 155.5,156.5" fill="#ff0000" stroke="#ff0000"/>
<polygon points="261.5,195.5 268.5,194.5 268.5,188.5 261.5,190.5" fill="#ffa800" stroke="#ffa800"/>
<polygon points="438.5,162.5 445.5,162.5 445.5,159.5 438.5,159.5" fill="#d100ff" stroke="#d100ff"/>
<polygon points="162.5,159.5 169.5,159.5 169.5,157.5 162.5,156.5" fill="#ff0000" stroke="#ff0000"/>
<polygon points="246.5,190.5 254.5,194.5 254.5,190.5 247.5,187.5" fill="#ffbd00" stroke="#ffbd00"/>
<polygon points="169.5,159.5 176.5,159.5 176.5,157.5 169.5,157.5" fill="#ff0000" stroke="#ff0000"/>
<polygon points="445.5,162.5 452.5,162.5 452.5,159.5 445.5,159.5" fill="#e700ff" stroke="#e700ff"/>
<polygon points="317.5,174.5 324.5,173.5 325.5,170.5 318.5,171.5" fill="#00ff5d" stroke="#00ff5d"/>
<polygon points="176.5,159.5 183.5,160.5 184.5,157.5 176.5,157.5" fill="#ff0000" stroke="#ff0000"/>
<polygon points="452.5,162.5 459.5,161.5 459.5,158.5 452.5,159.5" fill="#fc00ff" stroke="#fc00ff"/>
<polygon points="183.5,160.5 190.5,160.5 191.5,157.5 184.5,157.5" fill="#ff0000" stroke="#ff0000"/>
<polygon points="219.5,160.5 226.5,165.5 226.5,164.5 219.5,157.5" fill="#f300ff" stroke="#f300ff"/>
<polygon points="459.5,161.5 466.5,161.5 466.5,158.5 459.5,158.5" fill="#ff00ee" stroke="#ff00ee"/>
<polygon points="190.5,160.5 197.5,160.5 198.5,157.5 191.5,157.5" fill="#ff0000" stroke="#ff0000"/>
<polygon points="324.5,173.5 332.5,172.5 332.5,169.5 325.5,170.5" fill="#00ff8f" stroke="#00ff8f"/>
<polygon points="268.5,194.5 275.5,191.5 275.5,186.5 268.5,188.5" fill="#ffc700" stroke="#ffc700"/>
<polygon points="197.5,160.5 204.5,160.5 205.5,157.5 198.5,157.5" fill="#ff0000" stroke="#ff0000"/>
<polygon points="466.5,161.5 473.5,161.5 473.5,158.5 466.5,158.5" fill="#ff00da" stroke="#ff00da"/>
<polygon points="204.5,160.5 211.5,160.5 212.5,157.5 205.5,157.5" fill="#ff0000" stroke="#ff0000"/>
<polygon points="473.5,161.5 480.5,161.5 480.5,158.5 473.5,158.5" fill="#ff00c8" stroke="#ff00c8"/>
<polygon points="332.5,172.5 339.5,171.5 339.5,168.5 332.5,169.5" fill="#00ffbf" stroke="#00ffbf"/>
<polygon points="211.5,160.5 219.5,160.5 219.5,157.5 212.5,157.5" fill="#ff0000" stroke="#ff0000"/>
<polygon points="239.5,183.5 246.5,190.5 247.5,187.5 240.5,181.5" fill="#e4ff00" stroke="#e4ff00"/>
<polygon points="480.5,161.5 487.5,161.5 488.5,158.5 480.5,158.5" fill="#ff00b6" stroke="#ff00b6"/>
<polygon points="339.5,171.5 346.5,171.5 346.5,167.5 339.5,168.5" fill="#00ffec" stroke="#00ffec"/>
<polygon points="275.5,191.5 282.5,188.5 282.5,183.5 275.5,186.5" fill="#fff200" stroke="#fff200"/>
<polygon points="346.5,171.5 353.5,170.5 353.5,166.5 346.5,167.5" fill="#00e6ff" stroke="#00e6ff"/>
<polygon points="353.5,170.5 360.5,169.5 360.5,166.5 353.5,166.5" fill="#00bcff" stroke="#00bcff"/>
<polygon points="282.5,188.5 289.5,186.5 289.5,181.5 282.5,183.5" fill="#daff00" stroke="#daff00"/>
<polygon points="360.5,169.5 367.5,169.5 367.5,165.5 360.5,166.5" fill="#0095ff" stroke="#0095ff"/>
<polygon points="367.5,169.5 374.5,168.5 374.5,165.5 367.5,165.5" fill="#006fff" stroke="#006fff"/>
<polygon points="232.5,175.5 239.5,183.5 240.5,181.5 233.5,173.5" fill="#1cff00" stroke="#1cff00"/>
<polygon points="374.5,168.5 381.5,168.5 381.5,164.5 374.5,165.5" fill="#004bff" stroke="#004bff"/>
<polygon points="289.5,186.5 296.5,183.5 296.5,179.5 289.5,181.5" fill="#a4ff00" stroke="#a4ff00"/>
<polygon points="381.5,168.5 388.5,167.5 388.5,164.5 381.5,164.5" fill="#0028ff" stroke="#0028ff"/>
<polygon points="388.5,167.5 395.5,167.5 395.5,164.5 388.5,164.5" fill="#0007ff" stroke="#0007ff"/>
<polygon points="296.5,183.5 303.5,182.5 303.5,177.5 296.5,179.5" fill="#6eff00" stroke="#6eff00"/>
<polygon points="395.5,167.5 402.5,167.5 402.5,163.5 395.5,164.5" fill="#1800ff" stroke="#1800ff"/>
<polygon points="402.5,167.5 409.5,166.5 410.5,163.5 402.5,163.5" fill="#3600ff" stroke="#3600ff"/>
<polygon points="303.5,182.5 310.5,180.5 310.5,176.5 303.5,177.5" fill="#37ff00" stroke="#37ff00"/>
<polygon points="409.5,166.5 416.5,166.5 417.5,163.5 410.5,163.5" fill="#5300ff" stroke="#5300ff"/>
<polygon points="253.5,198.5 260.5,201.5 261.5,195.5 254.5,194.5" fill="#ff8a00" stroke="#ff8a00"/>
<polygon points="416.5,166.5 423.5,166.5 424.5,162.5 417.5,163.5" fill="#6e00ff" stroke="#6e00ff"/>
<polygon points="260.5,201.5 267.5,200.5 268.5,194.5 261.5,195.5" fill="#ff8900" stroke="#ff8900"/>
<polygon points="225.5,166.5 232.5,175.5 233.5,173.5 226.5,165.5" fill="#009dff" stroke="#009dff"/>
<polygon points="423.5,166.5 430.5,165.5 431.5,162.5 424.5,162.5" fill="#8800ff" stroke="#8800ff"/>
<polygon points="310.5,180.5 317.5,178.5 317.5,174.5 310.5,176.5" fill="#02ff00" stroke="#02ff00"/>
<polygon points="430.5,165.5 437.5,165.5 438.5,162.5 431.5,162.5" fill="#a100ff" stroke="#a100ff"/>
<polygon points="148.5,162.5 155.5,162.5 155.5,159.5 148.5,159.5" fill="#ff0000" stroke="#ff0000"/>
<polygon points="155.5,162.5 162.5,162.5 162.5,159.5 155.5,159.5" fill="#ff0000" stroke="#ff0000"/>
<polygon points="246.5,192.5 253.5,198.5 254.5,194.5 246.5,190.5" fill="#ffb600" stroke="#ffb600"/>
<polygon points="437.5,165.5 445.5,165.5 445.5,162.5 438.5,162.5" fill="#b800ff" stroke="#b800ff"/>
<polygon points="267.5,200.5 274.5,197.5 275.5,191.5 268.5,194.5" fill="#ffa200" stroke="#ffa200"/>
<polygon points="317.5,178.5 324.5,177.5 324.5,173.5 317.5,174.5" fill="#00ff33" stroke="#00ff33"/>
<polygon points="162.5,162.5 169.5,162.5 169.5,159.5 162.5,159.5" fill="#ff0000" stroke="#ff0000"/>
<polygon points="445.5,165.5 452.5,165.5 452.5,162.5 445.5,162.5" fill="#cf00ff" stroke="#cf00ff"/>
<polygon points="169.5,162.5 176.5,162.5 176.5,159.5 169.5,159.5" fill="#ff0000" stroke="#ff0000"/>
<polygon points="176.5,162.5 183.5,162.5 183.5,160.5 176.5,159.5" fill="#ff0000" stroke="#ff0000"/>
<polygon points="452.5,165.5 459.5,165.5 459.5,161.5 452.5,162.5" fill="#e500ff" stroke="#e500ff"/>
<polygon points="324.5,177.5 331.5,176.5 332.5,172.5 324.5,173.5" fill="#00ff65" stroke="#00ff65"/>
<polygon points="183.5,162.5 190.5,162.5 190.5,160.5 183.5,160.5" fill="#ff0000" stroke="#ff0000"/>
<polygon points="459.5,165.5 466.5,164.5 466.5,161.5 459.5,161.5" fill="#fa00ff" stroke="#fa00ff"/>
<polygon points="190.5,162.5 197.5,162.5 197.5,160.5 190.5,160.5" fill="#ff0000" stroke="#ff0000"/>
<polygon points="218.5,163.5 225.5,166.5 226.5,165.5 219.5,160.5" fill="#ff00d1" stroke="#ff00d1"/>
<polygon points="466.5,164.5 473.5,164.5 473.5,161.5 466.5,161.5" fill="#ff00f0" stroke="#ff00f0"/>
<polygon points="197.5,162.5 204.5,163.5 204.5,160.5 197.5,160.5" fill="#ff0000" stroke="#ff0000"/>
<polygon points="331.5,176.5 338.5,175.5 339.5,171.5 332.5,172.5" fill="#00ff96" stroke="#00ff96"/>
<polygon points="274.5,197.5 281.5,194.5 282.5,188.5 275.5,191.5" fill="#ffc900" stroke="#ffc900"/>
<polygon points="204.5,163.5 211.5,163.5 211.5,160.5 204.5,160.5" fill="#ff0000" stroke="#ff0000"/>
<polygon points="473.5,164.5 480.5,164.5 480.5,161.5 473.5,161.5" fill="#ff00dd" stroke="#ff00dd"/>
<polygon points="211.5,163.5 218.5,163.5 219.5,160.5 211.5,160.5" fill="#ff0000" stroke="#ff0000"/>
<polygon points="480.5,164.5 487.5,164.5 487.5,161.5 480.5,161.5" fill="#ff00cb" stroke="#ff00cb"/>
<polygon points="338.5,175.5 345.5,174.5 346.5,171.5 339.5,171.5" fill="#00ffc4" stroke="#00ffc4"/>
<polygon points="239.5,184.5 246.5,192.5 246.5,190.5 239.5,183.5" fill="#d4ff00" stroke="#d4ff00"/>
<polygon points="345.5,174.5 352.5,173.5 353.5,170.5 346.5,171.5" fill="#00fff1" stroke="#00fff1"/>
<polygon points="281.5,194.5 289.5,191.5 289.5,186.5 282.5,188.5" fill="#fff900" stroke="#fff900"/>
<polygon points="352.5,173.5 359.5,173.5 360.5,169.5 353.5,170.5" fill="#00e3ff" stroke="#00e3ff"/>
<polygon points="359.5,173.5 367.5,172.5 367.5,169.5 360.5,169.5" fill="#00baff" stroke="#00baff"/>
<polygon points="289.5,191.5 296.5,188.5 296.5,183.5 289.5,186.5" fill="#d1ff00" stroke="#d1ff00"/>
<polygon points="367.5,172.5 374.5,172.5 374.5,168.5 367.5,169.5" fill="#0093ff" stroke="#0093ff"/>
<polygon points="374.5,172.5 381.5,171.5 381.5,168.5 374.5,168.5" fill="#006eff" stroke="#006eff"/>
<polygon points="232.5,176.5 239.5,184.5 239.5,183.5 232.5,175.5" fill="#00ff18" stroke="#00ff18"/>
<polygon points="381.5,171.5 388.5,171.5 388.5,167.5 381.5,168.5" fill="#004aff" stroke="#004aff"/>
<polygon points="296.5,188.5 303.5,186.5 303.5,182.5 296.5,183.5" fill="#9bff00" stroke="#9bff00"/>
<polygon points="388.5,171.5 395.5,170.5 395.5,167.5 388.5,167.5" fill="#0028ff" stroke="#0028ff"/>
<polygon points="395.5,170.5 402.5,170.5 402.5,167.5 395.5,167.5" fill="#0008ff" stroke="#0008ff"/>
<polygon points="260.5,207.5 267.5,207.5 267.5,200.5 260.5,201.5" fill="#ff6d00" stroke="#ff6d00"/>
<polygon points="303.5,186.5 310.5,184.5 310.5,180.5 303.5,182.5" fill="#65ff00" stroke="#65ff00"/>
<polygon points="402.5,170.5 409.5,169.5 409.5,166.5 402.5,167.5" fill="#1700ff" stroke="#1700ff"/>
<polygon points="253.5,202.5 260.5,207.5 260.5,201.5 253.5,198.5" fill="#ff7a00" stroke="#ff7a00"/>
<polygon points="409.5,169.5 416.5,169.5 416.5,166.5 409.5,166.5" fill="#3400ff" stroke="#3400ff"/>
<polygon points="267.5,207.5 274.5,204.5 274.5,197.5 267.5,200.5" fill="#ff7e00" stroke="#ff7e00"/>
<polygon points="416.5,169.5 423.5,169.5 423.5,166.5 416.5,166.5" fill="#5100ff" stroke="#5100ff"/>
<polygon points="310.5,184.5 317.5,183.5 317.5,178.5 310.5,180.5" fill="#2fff00" stroke="#2fff00"/>
<polygon points="423.5,169.5 430.5,169.5 430.5,165.5 423.5,166.5" fill="#6b00ff" stroke="#6b00ff"/>
<polygon points="430.5,169.5 437.5,168.5 437.5,165.5 430.5,165.5" fill="#8500ff" stroke="#8500ff"/>
<polygon points="147.5,165.5 154.5,165.5 155.5,162.5 148.5,162.5" fill="#ff0000" stroke="#ff0000"/>
<polygon points="225.5,167.5 232.5,176.5 232.5,175.5 225.5,166.5" fill="#002fff" stroke="#002fff"/>
<polygon points="317.5,183.5 324.5,181.5 324.5,177.5 317.5,178.5" fill="#00ff06" stroke="#00ff06"/>
<polygon points="437.5,168.5 444.5,168.5 445.5,165.5 437.5,165.5" fill="#9e00ff" stroke="#9e00ff"/>
<polygon points="154.5,165.5 161.5,165.5 162.5,162.5 155.5,162.5" fill="#ff0000" stroke="#ff0000"/>
<polygon points="246.5,194.5 253.5,202.5 253.5,198.5 246.5,192.5" fill="#ffb800" stroke="#ffb800"/>
<polygon points="161.5,165.5 168.5,165.5 169.5,162.5 162.5,162.5" fill="#ff0000" stroke="#ff0000"/>
<polygon points="444.5,168.5 451.5,168.5 452.5,165.5 445.5,165.5" fill="#b500ff" stroke="#b500ff"/>
<polygon points="274.5,204.5 281.5,200.5 281.5,194.5 274.5,197.5" fill="#ffa000" stroke="#ffa000"/>
<polygon points="168.5,165.5 176.5,165.5 176.5,162.5 169.5,162.5" fill="#ff0000" stroke="#ff0000"/>
<polygon points="324.5,181.5 331.5,180.5 331.5,176.5 324.5,177.5" fill="#00ff39" stroke="#00ff39"/>
<polygon points="451.5,168.5 458.5,168.5 459.5,165.5 452.5,165.5" fill="#cc00ff" stroke="#cc00ff"/>
<polygon points="176.5,165.5 183.5,165.5 183.5,162.5 176.5,162.5" fill="#ff0000" stroke="#ff0000"/>
<polygon points="183.5,165.5 190.5,165.5 190.5,162.5 183.5,162.5" fill="#ff0000" stroke="#ff0000"/>
<polygon points="458.5,168.5 465.5,168.5 466.5,164.5 459.5,165.5" fill="#e100ff" stroke="#e100ff"/>
<polygon points="190.5,165.5 197.5,165.5 197.5,162.5 190.5,162.5" fill="#ff0000" stroke="#ff0000"/>
<polygon points="331.5,180.5 338.5,179.5 338.5,175.5 331.5,176.5" fill="#00ff6a" stroke="#00ff6a"/>
<polygon points="465.5,168.5 472.5,167.5 473.5,164.5 466.5,164.5" fill="#f600ff" stroke="#f600ff"/>
<polygon points="197.5,165.5 204.5,165.5 204.5,163.5 197.5,162.5" fill="#ff0000" stroke="#ff0000"/>
<polygon points="218.5,166.5 225.5,167.5 225.5,166.5 218.5,163.5" fill="#ff0089" stroke="#ff0089"/>
<polygon points="472.5,167.5 480.5,167.5 480.5,164.5 473.5,164.5" fill="#ff00f4" stroke="#ff00f4"/>
<polygon points="204.5,165.5 211.5,165.5 211.5,163.5 204.5,163.5" fill="#ff0000" stroke="#ff0000"/>
<polygon points="338.5,179.5 345.5,178.5 345.5,174.5 338.5,175.5" fill="#00ff99" stroke="#00ff99"/>
<polygon points="281.5,200.5 288.5,196.5 289.5,191.5 281.5,194.5" fill="#ffcd00" stroke="#ffcd00"/>
<polygon points="211.5,165.5 218.5,166.5 218.5,163.5 211.5,163.5" fill="#ff0000" stroke="#ff0000"/>
<polygon points="480.5,167.5 487.5,167.5 487.5,164.5 480.5,164.5" fill="#ff00e1" stroke="#ff00e1"/>
<polygon points="345.5,178.5 352.5,177.5 352.5,173.5 345.5,174.5" fill="#00ffc7" stroke="#00ffc7"/>
<polygon points="239.5,185.5 246.5,194.5 246.5,192.5 239.5,184.5" fill="#b7ff00" stroke="#b7ff00"/>
<polygon points="352.5,177.5 359.5,176.5 359.5,173.5 352.5,173.5" fill="#00fff3" stroke="#00fff3"/>
<polygon points="288.5,196.5 295.5,193.5 296.5,188.5 289.5,191.5" fill="#ffff00" stroke="#ffff00"/>
<polygon points="359.5,176.5 366.5,176.5 367.5,172.5 359.5,173.5" fill="#00e1ff" stroke="#00e1ff"/>
<polygon points="366.5,176.5 373.5,175.5 374.5,172.5 367.5,172.5" fill="#00baff" stroke="#00baff"/>
<polygon points="373.5,175.5 380.5,175.5 381.5,171.5 374.5,172.5" fill="#0093ff" stroke="#0093ff"/>
<polygon points="295.5,193.5 302.5,191.5 303.5,186.5 296.5,188.5" fill="#cbff00" stroke="#cbff00"/>
<polygon points="260.5,212.5 267.5,214.5 267.5,207.5 260.5,207.5" fill="#ff5600" stroke="#ff5600"/>
<polygon points="380.5,175.5 387.5,174.5 388.5,171.5 381.5,171.5" fill="#006fff" stroke="#006fff"/>
<polygon points="387.5,174.5 394.5,174.5 395.5,170.5 388.5,171.5" fill="#004cff" stroke="#004cff"/>
<polygon points="267.5,214.5 274.5,211.5 274.5,204.5 267.5,207.5" fill="#ff5d00" stroke="#ff5d00"/>
<polygon points="302.5,191.5 309.5,189.5 310.5,184.5 303.5,186.5" fill="#95ff00" stroke="#95ff00"/>
<polygon points="232.5,177.5 239.5,185.5 239.5,184.5 232.5,176.5" fill="#00ff60" stroke="#00ff60"/>
<polygon points="394.5,174.5 402.5,173.5 402.5,170.5 395.5,170.5" fill="#002bff" stroke="#002bff"/>
<polygon points="253.5,204.5 260.5,212.5 260.5,207.5 253.5,202.5" fill="#ff7100" stroke="#ff7100"/>
<polygon points="402.5,173.5 409.5,173.5 409.5,169.5 402.5,170.5" fill="#000bff" stroke="#000bff"/>
<polygon points="409.5,173.5 416.5,172.5 416.5,169.5 409.5,169.5" fill="#1400ff" stroke="#1400ff"/>
<polygon points="309.5,189.5 316.5,187.5 317.5,183.5 310.5,184.5" fill="#5fff00" stroke="#5fff00"/>
<polygon points="416.5,172.5 423.5,172.5 423.5,169.5 416.5,169.5" fill="#3100ff" stroke="#3100ff"/>
<polygon points="274.5,211.5 281.5,207.5 281.5,200.5 274.5,204.5" fill="#ff7900" stroke="#ff7900"/>
<polygon points="423.5,172.5 430.5,172.5 430.5,169.5 423.5,169.5" fill="#4d00ff" stroke="#4d00ff"/>
<polygon points="316.5,187.5 324.5,185.5 324.5,181.5 317.5,183.5" fill="#2aff00" stroke="#2aff00"/>
<polygon points="430.5,172.5 437.5,172.5 437.5,168.5 430.5,169.5" fill="#6700ff" stroke="#6700ff"/>
<polygon points="147.5,168.5 154.5,168.5 154.5,165.5 147.5,165.5" fill="#ff0000" stroke="#ff0000"/>
<polygon points="437.5,172.5 444.5,171.5 444.5,168.5 437.5,168.5" fill="#8100ff" stroke="#8100ff"/>
<polygon points="154.5,168.5 161.5,168.5 161.5,165.5 154.5,165.5" fill="#ff0000" stroke="#ff0000"/>
<polygon points="324.5,185.5 331.5,184.5 331.5,180.5 324.5,181.5" fill="#00ff0a" stroke="#00ff0a"/>
<polygon points="444.5,171.5 451.5,171.5 451.5,168.5 444.5,168.5" fill="#9900ff" stroke="#9900ff"/>
<polygon points="161.5,168.5 168.5,168.5 168.5,165.5 161.5,165.5" fill="#ff0000" stroke="#ff0000"/>
<polygon points="246.5,195.5 253.5,204.5 253.5,202.5 246.5,194.5" fill="#ffc500" stroke="#ffc500"/>
<polygon points="225.5,168.5 232.5,177.5 232.5,176.5 225.5,167.5" fill="#5b00ff" stroke="#5b00ff"/>
<polygon points="168.5,168.5 175.5,168.5 176.5,165.5 168.5,165.5" fill="#ff0000" stroke="#ff0000"/>
<polygon points="451.5,171.5 458.5,171.5 458.5,168.5 451.5,168.5" fill="#b000ff" stroke="#b000ff"/>
<polygon points="281.5,207.5 288.5,203.5 288.5,196.5 281.5,200.5" fill="#ffa100" stroke="#ffa100"/>
<polygon points="175.5,168.5 182.5,168.5 183.5,165.5 176.5,165.5" fill="#ff0000" stroke="#ff0000"/>
<polygon points="331.5,184.5 338.5,183.5 338.5,179.5 331.5,180.5" fill="#00ff3c" stroke="#00ff3c"/>
<polygon points="458.5,171.5 465.5,171.5 465.5,168.5 458.5,168.5" fill="#c700ff" stroke="#c700ff"/>
<polygon points="182.5,168.5 189.5,168.5 190.5,165.5 183.5,165.5" fill="#ff0000" stroke="#ff0000"/>
<polygon points="189.5,168.5 196.5,168.5 197.5,165.5 190.5,165.5" fill="#ff0000" stroke="#ff0000"/>
<polygon points="465.5,171.5 472.5,171.5 472.5,167.5 465.5,168.5" fill="#dc00ff" stroke="#dc00ff"/>
<polygon points="196.5,168.5 204.5,168.5 204.5,165.5 197.5,165.5" fill="#ff0000" stroke="#ff0000"/>
<polygon points="338.5,183.5 345.5,182.5 345.5,178.5 338.5,179.5" fill="#00ff6c" stroke="#00ff6c"/>
<polygon points="472.5,171.5 479.5,170.5 480.5,167.5 472.5,167.5" fill="#f100ff" stroke="#f100ff"/>
<polygon points="204.5,168.5 211.5,168.5 211.5,165.5 204.5,165.5" fill="#ff0000" stroke="#ff0000"/>
<polygon points="479.5,170.5 486.5,170.5 487.5,167.5 480.5,167.5" fill="#ff00fa" stroke="#ff00fa"/>
<polygon points="211.5,168.5 218.5,168.5 218.5,166.5 211.5,165.5" fill="#ff0000" stroke="#ff0000"/>
<polygon points="218.5,168.5 225.5,168.5 225.5,167.5 218.5,166.5" fill="#ff0030" stroke="#ff0030"/>
<polygon points="345.5,182.5 352.5,181.5 352.5,177.5 345.5,178.5" fill="#00ff9a" stroke="#00ff9a"/>
<polygon points="288.5,203.5 295.5,199.5 295.5,193.5 288.5,196.5" fill="#ffd000" stroke="#ffd000"/>
<polygon points="352.5,181.5 359.5,180.5 359.5,176.5 352.5,177.5" fill="#00ffc7" stroke="#00ffc7"/>
<polygon points="359.5,180.5 366.5,179.5 366.5,176.5 359.5,176.5" fill="#00fff2" stroke="#00fff2"/>
<polygon points="239.5,186.5 246.5,195.5 246.5,194.5 239.5,185.5" fill="#89ff00" stroke="#89ff00"/>
<polygon points="266.5,221.5 274.5,220.5 274.5,211.5 267.5,214.5" fill="#ff4100" stroke="#ff4100"/>
<polygon points="295.5,199.5 302.5,196.5 302.5,191.5 295.5,193.5" fill="#fbff00" stroke="#fbff00"/>
<polygon points="366.5,179.5 373.5,179.5 373.5,175.5 366.5,176.5" fill="#00e3ff" stroke="#00e3ff"/>
<polygon points="259.5,215.5 266.5,221.5 267.5,214.5 260.5,212.5" fill="#ff4600" stroke="#ff4600"/>
<polygon points="373.5,179.5 380.5,178.5 380.5,175.5 373.5,175.5" fill="#00bcff" stroke="#00bcff"/>
<polygon points="380.5,178.5 387.5,178.5 387.5,174.5 380.5,175.5" fill="#0096ff" stroke="#0096ff"/>
<polygon points="302.5,196.5 309.5,194.5 309.5,189.5 302.5,191.5" fill="#c6ff00" stroke="#c6ff00"/>
<polygon points="274.5,220.5 281.5,215.5 281.5,207.5 274.5,211.5" fill="#ff5400" stroke="#ff5400"/>
<polygon points="387.5,178.5 394.5,177.5 394.5,174.5 387.5,174.5" fill="#0072ff" stroke="#0072ff"/>
<polygon points="394.5,177.5 401.5,177.5 402.5,173.5 394.5,174.5" fill="#0050ff" stroke="#0050ff"/>
<polygon points="309.5,194.5 316.5,192.5 316.5,187.5 309.5,189.5" fill="#91ff00" stroke="#91ff00"/>
<polygon points="252.5,205.5 259.5,215.5 260.5,212.5 253.5,204.5" fill="#ff7300" stroke="#ff7300"/>
<polygon points="401.5,177.5 408.5,176.5 409.5,173.5 402.5,173.5" fill="#002fff" stroke="#002fff"/>
<polygon points="408.5,176.5 415.5,176.5 416.5,172.5 409.5,173.5" fill="#0010ff" stroke="#0010ff"/>
<polygon points="231.5,177.5 239.5,186.5 239.5,185.5 232.5,177.5" fill="#00ffc1" stroke="#00ffc1"/>
<polygon points="415.5,176.5 422.5,175.5 423.5,172.5 416.5,172.5" fill="#0f00ff" stroke="#0f00ff"/>
<polygon points="316.5,192.5 323.5,190.5 324.5,185.5 316.5,187.5" fill="#5cff00" stroke="#5cff00"/>
<polygon points="281.5,215.5 288.5,210.5 288.5,203.5 281.5,207.5" fill="#ff7600" stroke="#ff7600"/>
<polygon points="422.5,175.5 430.5,175.5 430.5,172.5 423.5,172.5" fill="#2b00ff" stroke="#2b00ff"/>
<polygon points="430.5,175.5 437.5,175.5 437.5,172.5 430.5,172.5" fill="#4700ff" stroke="#4700ff"/>
<polygon points="323.5,190.5 330.5,188.5 331.5,184.5 324.5,185.5" fill="#28ff00" stroke="#28ff00"/>
<polygon points="437.5,175.5 444.5,175.5 444.5,171.5 437.5,172.5" fill="#6100ff" stroke="#6100ff"/>
<polygon points="147.5,171.5 154.5,171.5 154.5,168.5 147.5,168.5" fill="#ff0000" stroke="#ff0000"/>
<polygon points="154.5,171.5 161.5,171.5 161.5,168.5 154.5,168.5" fill="#ff0000" stroke="#ff0000"/>
<polygon points="444.5,175.5 451.5,174.5 451.5,171.5 444.5,171.5" fill="#7b00ff" stroke="#7b00ff"/>
<polygon points="161.5,171.5 168.5,171.5 168.5,168.5 161.5,168.5" fill="#ff0000" stroke="#ff0000"/>
<polygon points="330.5,188.5 337.5,187.5 338.5,183.5 331.5,184.5" fill="#00ff0b" stroke="#00ff0b"/>
<polygon points="451.5,174.5 458.5,174.5 458.5,171.5 451.5,171.5" fill="#9300ff" stroke="#9300ff"/>
<polygon points="168.5,171.5 175.5,171.5 175.5,168.5 168.5,168.5" fill="#ff0000" stroke="#ff0000"/>
<polygon points="175.5,171.5 182.5,171.5 182.5,168.5 175.5,168.5" fill="#ff0000" stroke="#ff0000"/>
<polygon points="458.5,174.5 465.5,174.5 465.5,171.5 458.5,171.5" fill="#aa00ff" stroke="#aa00ff"/>
<polygon points="288.5,210.5 295.5,206.5 295.5,199.5 288.5,203.5" fill="#ffa100" stroke="#ffa100"/>
<polygon points="182.5,171.5 189.5,171.5 189.5,168.5 182.5,168.5" fill="#ff0000" stroke="#ff0000"/>
<polygon points="245.5,195.5 252.5,205.5 253.5,204.5 246.5,195.5" fill="#ffe200" stroke="#ffe200"/>
<polygon points="337.5,187.5 344.5,186.5 345.5,182.5 338.5,183.5" fill="#00ff3c" stroke="#00ff3c"/>
<polygon points="224.5,171.5 231.5,177.5 232.5,177.5 225.5,168.5" fill="#cb00ff" stroke="#cb00ff"/>
<polygon points="465.5,174.5 472.5,174.5 472.5,171.5 465.5,171.5" fill="#c000ff" stroke="#c000ff"/>
<polygon points="189.5,171.5 196.5,171.5 196.5,168.5 189.5,168.5" fill="#ff0000" stroke="#ff0000"/>
<polygon points="472.5,174.5 479.5,174.5 479.5,170.5 472.5,171.5" fill="#d500ff" stroke="#d500ff"/>
<polygon points="266.5,227.5 273.5,231.5 274.5,220.5 266.5,221.5" fill="#ff2b00" stroke="#ff2b00"/>
<polygon points="196.5,171.5 203.5,171.5 204.5,168.5 196.5,168.5" fill="#ff0000" stroke="#ff0000"/>
<polygon points="203.5,171.5 210.5,171.5 211.5,168.5 204.5,168.5" fill="#ff0000" stroke="#ff0000"/>
<polygon points="344.5,186.5 352.5,185.5 352.5,181.5 345.5,182.5" fill="#00ff6b" stroke="#00ff6b"/>
<polygon points="479.5,174.5 486.5,173.5 486.5,170.5 479.5,170.5" fill="#ea00ff" stroke="#ea00ff"/>
<polygon points="210.5,171.5 217.5,171.5 218.5,168.5 211.5,168.5" fill="#ff0000" stroke="#ff0000"/>
<polygon points="217.5,171.5 224.5,171.5 225.5,168.5 218.5,168.5" fill="#ff0000" stroke="#ff0000"/>
<polygon points="352.5,185.5 359.5,184.5 359.5,180.5 352.5,181.5" fill="#00ff98" stroke="#00ff98"/>
<polygon points="273.5,231.5 280.5,226.5 281.5,215.5 274.5,220.5" fill="#ff3300" stroke="#ff3300"/>
<polygon points="295.5,206.5 302.5,202.5 302.5,196.5 295.5,199.5" fill="#ffd200" stroke="#ffd200"/>
<polygon points="359.5,184.5 366.5,183.5 366.5,179.5 359.5,180.5" fill="#00ffc4" stroke="#00ffc4"/>
<polygon points="259.5,216.5 266.5,227.5 266.5,221.5 259.5,215.5" fill="#ff4000" stroke="#ff4000"/>
<polygon points="366.5,183.5 373.5,182.5 373.5,179.5 366.5,179.5" fill="#00ffee" stroke="#00ffee"/>
<polygon points="302.5,202.5 309.5,199.5 309.5,194.5 302.5,196.5" fill="#f9ff00" stroke="#f9ff00"/>
<polygon points="373.5,182.5 380.5,182.5 380.5,178.5 373.5,179.5" fill="#00e7ff" stroke="#00e7ff"/>
<polygon points="238.5,186.5 245.5,195.5 246.5,195.5 239.5,186.5" fill="#44ff00" stroke="#44ff00"/>
<polygon points="380.5,182.5 387.5,181.5 387.5,178.5 380.5,178.5" fill="#00c1ff" stroke="#00c1ff"/>
<polygon points="280.5,226.5 287.5,219.5 288.5,210.5 281.5,215.5" fill="#ff4e00" stroke="#ff4e00"/>
<polygon points="387.5,181.5 394.5,181.5 394.5,177.5 387.5,178.5" fill="#009cff" stroke="#009cff"/>
<polygon points="309.5,199.5 316.5,197.5 316.5,192.5 309.5,194.5" fill="#c5ff00" stroke="#c5ff00"/>
<polygon points="394.5,181.5 401.5,180.5 401.5,177.5 394.5,177.5" fill="#0078ff" stroke="#0078ff"/>
<polygon points="401.5,180.5 408.5,180.5 408.5,176.5 401.5,177.5" fill="#0056ff" stroke="#0056ff"/>
<polygon points="316.5,197.5 323.5,195.5 323.5,190.5 316.5,192.5" fill="#90ff00" stroke="#90ff00"/>
<polygon points="408.5,180.5 415.5,179.5 415.5,176.5 408.5,176.5" fill="#0036ff" stroke="#0036ff"/>
<polygon points="252.5,205.5 259.5,216.5 259.5,215.5 252.5,205.5" fill="#ff8400" stroke="#ff8400"/>
<polygon points="415.5,179.5 422.5,179.5 422.5,175.5 415.5,176.5" fill="#0017ff" stroke="#0017ff"/>
<polygon points="422.5,179.5 429.5,178.5 430.5,175.5 422.5,175.5" fill="#0700ff" stroke="#0700ff"/>
<polygon points="273.5,242.5 280.5,242.5 280.5,226.5 273.5,231.5" fill="#ff1b00" stroke="#ff1b00"/>
<polygon points="323.5,195.5 330.5,193.5 330.5,188.5 323.5,190.5" fill="#5cff00" stroke="#5cff00"/>
<polygon points="287.5,219.5 294.5,213.5 295.5,206.5 288.5,210.5" fill="#ff7400" stroke="#ff7400"/>
<polygon points="429.5,178.5 436.5,178.5 437.5,175.5 430.5,175.5" fill="#2400ff" stroke="#2400ff"/>
<polygon points="231.5,178.5 238.5,186.5 239.5,186.5 231.5,177.5" fill="#00b9ff" stroke="#00b9ff"/>
<polygon points="436.5,178.5 443.5,178.5 444.5,175.5 437.5,175.5" fill="#3f00ff" stroke="#3f00ff"/>
<polygon points="146.5,174.5 153.5,174.5 154.5,171.5 147.5,171.5" fill="#ff0000" stroke="#ff0000"/>
<polygon points="330.5,193.5 337.5,191.5 337.5,187.5 330.5,188.5" fill="#29ff00" stroke="#29ff00"/>
<polygon points="266.5,228.5 273.5,242.5 273.5,231.5 266.5,227.5" fill="#ff2100" stroke="#ff2100"/>
<polygon points="443.5,178.5 450.5,178.5 451.5,174.5 444.5,175.5" fill="#5900ff" stroke="#5900ff"/>
<polygon points="153.5,174.5 161.5,174.5 161.5,171.5 154.5,171.5" fill="#ff0000" stroke="#ff0000"/>
<polygon points="161.5,174.5 168.5,174.5 168.5,171.5 161.5,171.5" fill="#ff0000" stroke="#ff0000"/>
<polygon points="450.5,178.5 457.5,177.5 458.5,174.5 451.5,174.5" fill="#7200ff" stroke="#7200ff"/>
<polygon points="168.5,174.5 175.5,174.5 175.5,171.5 168.5,171.5" fill="#ff0000" stroke="#ff0000"/>
<polygon points="337.5,191.5 344.5,190.5 344.5,186.5 337.5,187.5" fill="#00ff08" stroke="#00ff08"/>
<polygon points="457.5,177.5 465.5,177.5 465.5,174.5 458.5,174.5" fill="#8a00ff" stroke="#8a00ff"/>
<polygon points="175.5,174.5 182.5,174.5 182.5,171.5 175.5,171.5" fill="#ff0000" stroke="#ff0000"/>
<polygon points="182.5,174.5 189.5,174.5 189.5,171.5 182.5,171.5" fill="#ff0000" stroke="#ff0000"/>
<polygon points="465.5,177.5 472.5,177.5 472.5,174.5 465.5,174.5" fill="#a200ff" stroke="#a200ff"/>
<polygon points="294.5,213.5 301.5,209.5 302.5,202.5 295.5,206.5" fill="#ffa100" stroke="#ffa100"/>
<polygon points="189.5,174.5 196.5,174.5 196.5,171.5 189.5,171.5" fill="#ff0000" stroke="#ff0000"/>
<polygon points="344.5,190.5 351.5,189.5 352.5,185.5 344.5,186.5" fill="#00ff38" stroke="#00ff38"/>
<polygon points="472.5,177.5 479.5,177.5 479.5,174.5 472.5,174.5" fill="#b800ff" stroke="#b800ff"/>
<polygon points="280.5,242.5 287.5,231.5 287.5,219.5 280.5,226.5" fill="#ff2b00" stroke="#ff2b00"/>
<polygon points="196.5,174.5 203.5,174.5 203.5,171.5 196.5,171.5" fill="#ff0000" stroke="#ff0000"/>
<polygon points="224.5,174.5 231.5,178.5 231.5,177.5 224.5,171.5" fill="#ff00de" stroke="#ff00de"/>
<polygon points="479.5,177.5 486.5,177.5 486.5,173.5 479.5,174.5" fill="#cd00ff" stroke="#cd00ff"/>
<polygon points="203.5,174.5 210.5,174.5 210.5,171.5 203.5,171.5" fill="#ff0000" stroke="#ff0000"/>
<polygon points="351.5,189.5 358.5,188.5 359.5,184.5 352.5,185.5" fill="#00ff67" stroke="#00ff67"/>
<polygon points="210.5,174.5 217.5,174.5 217.5,171.5 210.5,171.5" fill="#ff0000" stroke="#ff0000"/>
<polygon points="245.5,195.5 252.5,205.5 252.5,205.5 245.5,195.5" fill="#eaff00" stroke="#eaff00"/>
<polygon points="217.5,174.5 224.5,174.5 224.5,171.5 217.5,171.5" fill="#ff0000" stroke="#ff0000"/>
<polygon points="358.5,188.5 365.5,187.5 366.5,183.5 359.5,184.5" fill="#00ff93" stroke="#00ff93"/>
<polygon points="301.5,209.5 309.5,205.5 309.5,199.5 302.5,202.5" fill="#ffd100" stroke="#ffd100"/>
<polygon points="365.5,187.5 372.5,186.5 373.5,182.5 366.5,183.5" fill="#00ffbe" stroke="#00ffbe"/>
<polygon points="273.5,242.5 280.5,265.5 280.5,242.5 273.5,242.5" fill="#ff0f00" stroke="#ff0f00"/>
<polygon points="259.5,215.5 266.5,228.5 266.5,227.5 259.5,216.5" fill="#ff4a00" stroke="#ff4a00"/>
<polygon points="372.5,186.5 379.5,185.5 380.5,182.5 373.5,182.5" fill="#00ffe8" stroke="#00ffe8"/>
<polygon points="279.5,253.5 286.5,319.5 287.5,251.5 280.5,265.5" fill="#ff0700" stroke="#ff0700"/>
<polygon points="280.5,265.5 287.5,251.5 287.5,231.5 280.5,242.5" fill="#ff1200" stroke="#ff1200"/>
<polygon points="379.5,185.5 387.5,185.5 387.5,181.5 380.5,182.5" fill="#00efff" stroke="#00efff"/>
<polygon points="309.5,205.5 316.5,202.5 316.5,197.5 309.5,199.5" fill="#faff00" stroke="#faff00"/>
<polygon points="387.5,185.5 394.5,184.5 394.5,181.5 387.5,181.5" fill="#00c8ff" stroke="#00c8ff"/>
<polygon points="287.5,231.5 294.5,223.5 294.5,213.5 287.5,219.5" fill="#ff4a00" stroke="#ff4a00"/>
<polygon points="394.5,184.5 401.5,184.5 401.5,180.5 394.5,181.5" fill="#00a4ff" stroke="#00a4ff"/>
<polygon points="316.5,202.5 323.5,200.5 323.5,195.5 316.5,197.5" fill="#c6ff00" stroke="#c6ff00"/>
<polygon points="238.5,186.5 245.5,195.5 245.5,195.5 238.5,186.5" fill="#00ff21" stroke="#00ff21"/>
<polygon points="401.5,184.5 408.5,183.5 408.5,180.5 401.5,180.5" fill="#0081ff" stroke="#0081ff"/>
<polygon points="408.5,183.5 415.5,183.5 415.5,179.5 408.5,180.5" fill="#005fff" stroke="#005fff"/>
<polygon points="415.5,183.5 422.5,182.5 422.5,179.5 415.5,179.5" fill="#003fff" stroke="#003fff"/>
<polygon points="323.5,200.5 330.5,198.5 330.5,193.5 323.5,195.5" fill="#93ff00" stroke="#93ff00"/>
<polygon points="286.5,319.5 294.5,256.5 294.5,236.5 287.5,251.5" fill="#ff0d00" stroke="#ff0d00"/>
<polygon points="422.5,182.5 429.5,182.5 429.5,178.5 422.5,179.5" fill="#0020ff" stroke="#0020ff"/>
<polygon points="429.5,182.5 436.5,182.5 436.5,178.5 429.5,178.5" fill="#0003ff" stroke="#0003ff"/>
<polygon points="330.5,198.5 337.5,196.5 337.5,191.5 330.5,193.5" fill="#60ff00" stroke="#60ff00"/>
<polygon points="294.5,223.5 301.5,216.5 301.5,209.5 294.5,213.5" fill="#ff7100" stroke="#ff7100"/>
<polygon points="436.5,182.5 443.5,181.5 443.5,178.5 436.5,178.5" fill="#1a00ff" stroke="#1a00ff"/>
<polygon points="252.5,204.5 259.5,215.5 259.5,216.5 252.5,205.5" fill="#ffab00" stroke="#ffab00"/>
<polygon points="443.5,181.5 450.5,181.5 450.5,178.5 443.5,178.5" fill="#3500ff" stroke="#3500ff"/>
<polygon points="146.5,176.5 153.5,176.5 153.5,174.5 146.5,174.5" fill="#ff0000" stroke="#ff0000"/>
<polygon points="337.5,196.5 344.5,194.5 344.5,190.5 337.5,191.5" fill="#2eff00" stroke="#2eff00"/>
<polygon points="153.5,176.5 160.5,176.5 161.5,174.5 153.5,174.5" fill="#ff0000" stroke="#ff0000"/>
<polygon points="450.5,181.5 457.5,181.5 457.5,177.5 450.5,178.5" fill="#4f00ff" stroke="#4f00ff"/>
<polygon points="266.5,224.5 273.5,242.5 273.5,242.5 266.5,228.5" fill="#ff2800" stroke="#ff2800"/>
<polygon points="231.5,178.5 238.5,186.5 238.5,186.5 231.5,178.5" fill="#0009ff" stroke="#0009ff"/>
<polygon points="160.5,176.5 167.5,177.5 168.5,174.5 161.5,174.5" fill="#ff0000" stroke="#ff0000"/>
<polygon points="457.5,181.5 464.5,180.5 465.5,177.5 457.5,177.5" fill="#6800ff" stroke="#6800ff"/>
<polygon points="167.5,177.5 174.5,177.5 175.5,174.5 168.5,174.5" fill="#ff0000" stroke="#ff0000"/>
<polygon points="287.5,251.5 294.5,236.5 294.5,223.5 287.5,231.5" fill="#ff2600" stroke="#ff2600"/>
<polygon points="344.5,194.5 351.5,193.5 351.5,189.5 344.5,190.5" fill="#00ff02" stroke="#00ff02"/>
<polygon points="174.5,177.5 181.5,177.5 182.5,174.5 175.5,174.5" fill="#ff0000" stroke="#ff0000"/>
<polygon points="464.5,180.5 471.5,180.5 472.5,177.5 465.5,177.5" fill="#8000ff" stroke="#8000ff"/>
<polygon points="181.5,177.5 188.5,177.5 189.5,174.5 182.5,174.5" fill="#ff0000" stroke="#ff0000"/>
<polygon points="471.5,180.5 478.5,180.5 479.5,177.5 472.5,177.5" fill="#9700ff" stroke="#9700ff"/>
<polygon points="188.5,177.5 196.5,177.5 196.5,174.5 189.5,174.5" fill="#ff0000" stroke="#ff0000"/>
<polygon points="301.5,216.5 308.5,212.5 309.5,205.5 301.5,209.5" fill="#ff9e00" stroke="#ff9e00"/>
<polygon points="351.5,193.5 358.5,192.5 358.5,188.5 351.5,189.5" fill="#00ff31" stroke="#00ff31"/>
<polygon points="196.5,177.5 203.5,177.5 203.5,174.5 196.5,174.5" fill="#ff0000" stroke="#ff0000"/>
<polygon points="478.5,180.5 485.5,180.5 486.5,177.5 479.5,177.5" fill="#ad00ff" stroke="#ad00ff"/>
<polygon points="203.5,177.5 210.5,177.5 210.5,174.5 203.5,174.5" fill="#ff0000" stroke="#ff0000"/>
<polygon points="210.5,177.5 217.5,177.5 217.5,174.5 210.5,174.5" fill="#ff0000" stroke="#ff0000"/>
<polygon points="224.5,177.5 231.5,178.5 231.5,178.5 224.5,174.5" fill="#ff006f" stroke="#ff006f"/>
<polygon points="358.5,192.5 365.5,191.5 365.5,187.5 358.5,188.5" fill="#00ff5f" stroke="#00ff5f"/>
<polygon points="217.5,177.5 224.5,177.5 224.5,174.5 217.5,174.5" fill="#ff0000" stroke="#ff0000"/>
<polygon points="365.5,191.5 372.5,190.5 372.5,186.5 365.5,187.5" fill="#00ff8b" stroke="#00ff8b"/>
<polygon points="308.5,212.5 315.5,208.5 316.5,202.5 309.5,205.5" fill="#ffcf00" stroke="#ffcf00"/>
<polygon points="372.5,190.5 379.5,189.5 379.5,185.5 372.5,186.5" fill="#00ffb5" stroke="#00ffb5"/>
<polygon points="245.5,194.5 252.5,204.5 252.5,205.5 245.5,195.5" fill="#9aff00" stroke="#9aff00"/>
<polygon points="379.5,189.5 386.5,189.5 387.5,185.5 379.5,185.5" fill="#00ffde" stroke="#00ffde"/>
<polygon points="386.5,189.5 393.5,188.5 394.5,184.5 387.5,185.5" fill="#00f9ff" stroke="#00f9ff"/>
<polygon points="315.5,208.5 322.5,205.5 323.5,200.5 316.5,202.5" fill="#feff00" stroke="#feff00"/>
<polygon points="272.5,232.5 279.5,253.5 280.5,265.5 273.5,242.5" fill="#ff1600" stroke="#ff1600"/>
<polygon points="286.5,252.5 293.5,267.5 294.5,256.5 286.5,319.5" fill="#ff0800" stroke="#ff0800"/>
<polygon points="294.5,236.5 301.5,226.5 301.5,216.5 294.5,223.5" fill="#ff4600" stroke="#ff4600"/>
<polygon points="393.5,188.5 400.5,187.5 401.5,184.5 394.5,184.5" fill="#00d3ff" stroke="#00d3ff"/>
<polygon points="400.5,187.5 407.5,187.5 408.5,183.5 401.5,184.5" fill="#00afff" stroke="#00afff"/>
<polygon points="258.5,212.5 266.5,224.5 266.5,228.5 259.5,215.5" fill="#ff6b00" stroke="#ff6b00"/>
<polygon points="322.5,205.5 329.5,203.5 330.5,198.5 323.5,200.5" fill="#cbff00" stroke="#cbff00"/>
<polygon points="407.5,187.5 414.5,186.5 415.5,183.5 408.5,183.5" fill="#008cff" stroke="#008cff"/>
<polygon points="414.5,186.5 422.5,186.5 422.5,182.5 415.5,183.5" fill="#006bff" stroke="#006bff"/>
<polygon points="329.5,203.5 336.5,201.5 337.5,196.5 330.5,198.5" fill="#99ff00" stroke="#99ff00"/>
<polygon points="422.5,186.5 429.5,185.5 429.5,182.5 422.5,182.5" fill="#004bff" stroke="#004bff"/>
<polygon points="238.5,186.5 245.5,194.5 245.5,195.5 238.5,186.5" fill="#00ffaf" stroke="#00ffaf"/>
<polygon points="429.5,185.5 436.5,185.5 436.5,182.5 429.5,182.5" fill="#002dff" stroke="#002dff"/>
<polygon points="436.5,185.5 443.5,185.5 443.5,181.5 436.5,182.5" fill="#000fff" stroke="#000fff"/>
<polygon points="301.5,226.5 308.5,220.5 308.5,212.5 301.5,216.5" fill="#ff6e00" stroke="#ff6e00"/>
<polygon points="336.5,201.5 344.5,199.5 344.5,194.5 337.5,196.5" fill="#67ff00" stroke="#67ff00"/>
<polygon points="279.5,235.5 286.5,252.5 286.5,319.5 279.5,253.5" fill="#ff1400" stroke="#ff1400"/>
<polygon points="443.5,185.5 450.5,184.5 450.5,181.5 443.5,181.5" fill="#0d00ff" stroke="#0d00ff"/>
<polygon points="146.5,179.5 153.5,179.5 153.5,176.5 146.5,176.5" fill="#ff0000" stroke="#ff0000"/>
<polygon points="450.5,184.5 457.5,184.5 457.5,181.5 450.5,181.5" fill="#2800ff" stroke="#2800ff"/>
<polygon points="153.5,179.5 160.5,179.5 160.5,176.5 153.5,176.5" fill="#ff0000" stroke="#ff0000"/>
<polygon points="344.5,199.5 351.5,198.5 351.5,193.5 344.5,194.5" fill="#37ff00" stroke="#37ff00"/>
<polygon points="160.5,179.5 167.5,179.5 167.5,177.5 160.5,176.5" fill="#ff0000" stroke="#ff0000"/>
<polygon points="457.5,184.5 464.5,184.5 464.5,180.5 457.5,181.5" fill="#4200ff" stroke="#4200ff"/>
<polygon points="294.5,256.5 301.5,239.5 301.5,226.5 294.5,236.5" fill="#ff2300" stroke="#ff2300"/>
<polygon points="167.5,179.5 174.5,179.5 174.5,177.5 167.5,177.5" fill="#ff0000" stroke="#ff0000"/>
<polygon points="464.5,184.5 471.5,184.5 471.5,180.5 464.5,180.5" fill="#5b00ff" stroke="#5b00ff"/>
<polygon points="174.5,179.5 181.5,180.5 181.5,177.5 174.5,177.5" fill="#ff0000" stroke="#ff0000"/>
<polygon points="351.5,198.5 358.5,196.5 358.5,192.5 351.5,193.5" fill="#07ff00" stroke="#07ff00"/>
<polygon points="181.5,180.5 188.5,180.5 188.5,177.5 181.5,177.5" fill="#ff0000" stroke="#ff0000"/>
<polygon points="471.5,184.5 478.5,183.5 478.5,180.5 471.5,180.5" fill="#7300ff" stroke="#7300ff"/>
<polygon points="231.5,180.5 238.5,186.5 238.5,186.5 231.5,178.5" fill="#a800ff" stroke="#a800ff"/>
<polygon points="188.5,180.5 195.5,180.5 196.5,177.5 188.5,177.5" fill="#ff0000" stroke="#ff0000"/>
<polygon points="308.5,220.5 315.5,215.5 315.5,208.5 308.5,212.5" fill="#ff9a00" stroke="#ff9a00"/>
<polygon points="478.5,183.5 485.5,183.5 485.5,180.5 478.5,180.5" fill="#8a00ff" stroke="#8a00ff"/>
<polygon points="251.5,202.5 258.5,212.5 259.5,215.5 252.5,204.5" fill="#fff000" stroke="#fff000"/>
<polygon points="195.5,180.5 202.5,180.5 203.5,177.5 196.5,177.5" fill="#ff0000" stroke="#ff0000"/>
<polygon points="358.5,196.5 365.5,195.5 365.5,191.5 358.5,192.5" fill="#00ff27" stroke="#00ff27"/>
<polygon points="202.5,180.5 209.5,180.5 210.5,177.5 203.5,177.5" fill="#ff0000" stroke="#ff0000"/>
<polygon points="209.5,180.5 216.5,180.5 217.5,177.5 210.5,177.5" fill="#ff0000" stroke="#ff0000"/>
<polygon points="216.5,180.5 223.5,180.5 224.5,177.5 217.5,177.5" fill="#ff0000" stroke="#ff0000"/>
<polygon points="365.5,195.5 372.5,194.5 372.5,190.5 365.5,191.5" fill="#00ff54" stroke="#00ff54"/>
<polygon points="223.5,180.5 231.5,180.5 231.5,178.5 224.5,177.5" fill="#ff0018" stroke="#ff0018"/>
<polygon points="372.5,194.5 379.5,193.5 379.5,189.5 372.5,190.5" fill="#00ff7f" stroke="#00ff7f"/>
<polygon points="315.5,215.5 322.5,212.5 322.5,205.5 315.5,208.5" fill="#ffc900" stroke="#ffc900"/>
<polygon points="265.5,219.5 272.5,232.5 273.5,242.5 266.5,224.5" fill="#ff4800" stroke="#ff4800"/>
<polygon points="379.5,193.5 386.5,192.5 386.5,189.5 379.5,189.5" fill="#00ffa9" stroke="#00ffa9"/>
<polygon points="386.5,192.5 393.5,192.5 393.5,188.5 386.5,189.5" fill="#00ffd1" stroke="#00ffd1"/>
<polygon points="293.5,267.5 300.5,254.5 301.5,239.5 294.5,256.5" fill="#ff0f00" stroke="#ff0f00"/>
<polygon points="322.5,212.5 329.5,209.5 329.5,203.5 322.5,205.5" fill="#fffa00" stroke="#fffa00"/>
<polygon points="393.5,192.5 400.5,191.5 400.5,187.5 393.5,188.5" fill="#00fff7" stroke="#00fff7"/>
<polygon points="301.5,239.5 308.5,230.5 308.5,220.5 301.5,226.5" fill="#ff4300" stroke="#ff4300"/>
<polygon points="244.5,193.5 251.5,202.5 252.5,204.5 245.5,194.5" fill="#1fff00" stroke="#1fff00"/>
<polygon points="400.5,191.5 407.5,190.5 407.5,187.5 400.5,187.5" fill="#00e1ff" stroke="#00e1ff"/>
<polygon points="407.5,190.5 414.5,190.5 414.5,186.5 407.5,187.5" fill="#00beff" stroke="#00beff"/>
<polygon points="329.5,209.5 336.5,206.5 336.5,201.5 329.5,203.5" fill="#d3ff00" stroke="#d3ff00"/>
<polygon points="414.5,190.5 421.5,189.5 422.5,186.5 414.5,186.5" fill="#009bff" stroke="#009bff"/>
<polygon points="421.5,189.5 428.5,189.5 429.5,185.5 422.5,186.5" fill="#007aff" stroke="#007aff"/>
<polygon points="336.5,206.5 343.5,204.5 344.5,199.5 336.5,201.5" fill="#a2ff00" stroke="#a2ff00"/>
<polygon points="428.5,189.5 435.5,189.5 436.5,185.5 429.5,185.5" fill="#005bff" stroke="#005bff"/>
<polygon points="435.5,189.5 442.5,188.5 443.5,185.5 436.5,185.5" fill="#003cff" stroke="#003cff"/>
<polygon points="308.5,230.5 315.5,223.5 315.5,215.5 308.5,220.5" fill="#ff6900" stroke="#ff6900"/>
<polygon points="442.5,188.5 449.5,188.5 450.5,184.5 443.5,185.5" fill="#001fff" stroke="#001fff"/>
<polygon points="343.5,204.5 350.5,203.5 351.5,198.5 344.5,199.5" fill="#72ff00" stroke="#72ff00"/>
<polygon points="449.5,188.5 457.5,187.5 457.5,184.5 450.5,184.5" fill="#0003ff" stroke="#0003ff"/>
<polygon points="237.5,185.5 244.5,193.5 245.5,194.5 238.5,186.5" fill="#0086ff" stroke="#0086ff"/>
<polygon points="146.5,182.5 153.5,182.5 153.5,179.5 146.5,179.5" fill="#ff0000" stroke="#ff0000"/>
<polygon points="258.5,208.5 265.5,219.5 266.5,224.5 258.5,212.5" fill="#ffad00" stroke="#ffad00"/>
<polygon points="153.5,182.5 160.5,182.5 160.5,179.5 153.5,179.5" fill="#ff0000" stroke="#ff0000"/>
<polygon points="457.5,187.5 464.5,187.5 464.5,184.5 457.5,184.5" fill="#1900ff" stroke="#1900ff"/>
<polygon points="350.5,203.5 357.5,201.5 358.5,196.5 351.5,198.5" fill="#43ff00" stroke="#43ff00"/>
<polygon points="160.5,182.5 167.5,182.5 167.5,179.5 160.5,179.5" fill="#ff0000" stroke="#ff0000"/>
<polygon points="464.5,187.5 471.5,187.5 471.5,184.5 464.5,184.5" fill="#3300ff" stroke="#3300ff"/>
<polygon points="167.5,182.5 174.5,182.5 174.5,179.5 167.5,179.5" fill="#ff0000" stroke="#ff0000"/>
<polygon points="174.5,182.5 181.5,182.5 181.5,180.5 174.5,179.5" fill="#ff0000" stroke="#ff0000"/>
<polygon points="471.5,187.5 478.5,187.5 478.5,183.5 471.5,184.5" fill="#4c00ff" stroke="#4c00ff"/>
<polygon points="300.5,254.5 307.5,242.5 308.5,230.5 301.5,239.5" fill="#ff2300" stroke="#ff2300"/>
<polygon points="357.5,201.5 364.5,200.5 365.5,195.5 358.5,196.5" fill="#14ff00" stroke="#14ff00"/>
<polygon points="181.5,182.5 188.5,182.5 188.5,180.5 181.5,180.5" fill="#ff0000" stroke="#ff0000"/>
<polygon points="478.5,187.5 485.5,186.5 485.5,183.5 478.5,183.5" fill="#6400ff" stroke="#6400ff"/>
<polygon points="188.5,182.5 195.5,182.5 195.5,180.5 188.5,180.5" fill="#ff0000" stroke="#ff0000"/>
<polygon points="315.5,223.5 322.5,219.5 322.5,212.5 315.5,215.5" fill="#ff9400" stroke="#ff9400"/>
<polygon points="195.5,182.5 202.5,183.5 202.5,180.5 195.5,180.5" fill="#ff0000" stroke="#ff0000"/>
<polygon points="364.5,200.5 372.5,199.5 372.5,194.5 365.5,195.5" fill="#00ff19" stroke="#00ff19"/>
<polygon points="202.5,183.5 209.5,183.5 209.5,180.5 202.5,180.5" fill="#ff0000" stroke="#ff0000"/>
<polygon points="230.5,183.5 237.5,185.5 238.5,186.5 231.5,180.5" fill="#ff00c2" stroke="#ff00c2"/>
<polygon points="209.5,183.5 216.5,183.5 216.5,180.5 209.5,180.5" fill="#ff0000" stroke="#ff0000"/>
<polygon points="272.5,223.5 279.5,235.5 279.5,253.5 272.5,232.5" fill="#ff3d00" stroke="#ff3d00"/>
<polygon points="216.5,183.5 223.5,183.5 223.5,180.5 216.5,180.5" fill="#ff0000" stroke="#ff0000"/>
<polygon points="372.5,199.5 379.5,198.5 379.5,193.5 372.5,194.5" fill="#00ff45" stroke="#00ff45"/>
<polygon points="223.5,183.5 230.5,183.5 231.5,180.5 223.5,180.5" fill="#ff0000" stroke="#ff0000"/>
<polygon points="379.5,198.5 386.5,197.5 386.5,192.5 379.5,193.5" fill="#00ff6f" stroke="#00ff6f"/>
<polygon points="322.5,219.5 329.5,215.5 329.5,209.5 322.5,212.5" fill="#ffc100" stroke="#ffc100"/>
<polygon points="386.5,197.5 393.5,196.5 393.5,192.5 386.5,192.5" fill="#00ff98" stroke="#00ff98"/>
<polygon points="251.5,200.5 258.5,208.5 258.5,212.5 251.5,202.5" fill="#9bff00" stroke="#9bff00"/>
<polygon points="393.5,196.5 400.5,195.5 400.5,191.5 393.5,192.5" fill="#00ffc0" stroke="#00ffc0"/>
<polygon points="329.5,215.5 336.5,212.5 336.5,206.5 329.5,209.5" fill="#fff000" stroke="#fff000"/>
<polygon points="400.5,195.5 407.5,194.5 407.5,190.5 400.5,191.5" fill="#00ffe6" stroke="#00ffe6"/>
<polygon points="307.5,242.5 314.5,233.5 315.5,223.5 308.5,230.5" fill="#ff4100" stroke="#ff4100"/>
<polygon points="407.5,194.5 414.5,194.5 414.5,190.5 407.5,190.5" fill="#00f3ff" stroke="#00f3ff"/>
<polygon points="293.5,243.5 300.5,249.5 300.5,254.5 293.5,267.5" fill="#ff1300" stroke="#ff1300"/>
<polygon points="414.5,194.5 421.5,193.5 421.5,189.5 414.5,190.5" fill="#00d0ff" stroke="#00d0ff"/>
<polygon points="336.5,212.5 343.5,210.5 343.5,204.5 336.5,206.5" fill="#dfff00" stroke="#dfff00"/>
<polygon points="421.5,193.5 428.5,193.5 428.5,189.5 421.5,189.5" fill="#00aeff" stroke="#00aeff"/>
<polygon points="428.5,193.5 435.5,192.5 435.5,189.5 428.5,189.5" fill="#008dff" stroke="#008dff"/>
<polygon points="244.5,192.5 251.5,200.5 251.5,202.5 244.5,193.5" fill="#00ff98" stroke="#00ff98"/>
<polygon points="343.5,210.5 350.5,208.5 350.5,203.5 343.5,204.5" fill="#b0ff00" stroke="#b0ff00"/>
<polygon points="435.5,192.5 442.5,192.5 442.5,188.5 435.5,189.5" fill="#006dff" stroke="#006dff"/>
<polygon points="286.5,233.5 293.5,243.5 293.5,267.5 286.5,252.5" fill="#ff2100" stroke="#ff2100"/>
<polygon points="265.5,213.5 272.5,223.5 272.5,232.5 265.5,219.5" fill="#ff9000" stroke="#ff9000"/>
<polygon points="442.5,192.5 449.5,191.5 449.5,188.5 442.5,188.5" fill="#004fff" stroke="#004fff"/>
<polygon points="314.5,233.5 321.5,227.5 322.5,219.5 315.5,223.5" fill="#ff6500" stroke="#ff6500"/>
<polygon points="300.5,249.5 307.5,248.5 307.5,242.5 300.5,254.5" fill="#ff1800" stroke="#ff1800"/>
<polygon points="350.5,208.5 357.5,206.5 357.5,201.5 350.5,203.5" fill="#81ff00" stroke="#81ff00"/>
<polygon points="449.5,191.5 456.5,191.5 457.5,187.5 449.5,188.5" fill="#0032ff" stroke="#0032ff"/>
<polygon points="145.5,185.5 152.5,185.5 153.5,182.5 146.5,182.5" fill="#ff0000" stroke="#ff0000"/>
<polygon points="456.5,191.5 463.5,191.5 464.5,187.5 457.5,187.5" fill="#0015ff" stroke="#0015ff"/>
<polygon points="152.5,185.5 159.5,185.5 160.5,182.5 153.5,182.5" fill="#ff0000" stroke="#ff0000"/>
<polygon points="463.5,191.5 470.5,190.5 471.5,187.5 464.5,187.5" fill="#0600ff" stroke="#0600ff"/>
<polygon points="357.5,206.5 364.5,204.5 364.5,200.5 357.5,201.5" fill="#53ff00" stroke="#53ff00"/>
<polygon points="159.5,185.5 166.5,185.5 167.5,182.5 160.5,182.5" fill="#ff0000" stroke="#ff0000"/>
<polygon points="166.5,185.5 173.5,185.5 174.5,182.5 167.5,182.5" fill="#ff0000" stroke="#ff0000"/>
<polygon points="470.5,190.5 477.5,190.5 478.5,187.5 471.5,187.5" fill="#2000ff" stroke="#2000ff"/>
<polygon points="173.5,185.5 181.5,185.5 181.5,182.5 174.5,182.5" fill="#ff0000" stroke="#ff0000"/>
<polygon points="477.5,190.5 484.5,190.5 485.5,186.5 478.5,187.5" fill="#3900ff" stroke="#3900ff"/>
<polygon points="181.5,185.5 188.5,185.5 188.5,182.5 181.5,182.5" fill="#ff0000" stroke="#ff0000"/>
<polygon points="364.5,204.5 371.5,203.5 372.5,199.5 364.5,200.5" fill="#25ff00" stroke="#25ff00"/>
<polygon points="237.5,186.5 244.5,192.5 244.5,193.5 237.5,185.5" fill="#6f00ff" stroke="#6f00ff"/>
<polygon points="188.5,185.5 195.5,185.5 195.5,182.5 188.5,182.5" fill="#ff0000" stroke="#ff0000"/>
<polygon points="321.5,227.5 329.5,222.5 329.5,215.5 322.5,219.5" fill="#ff8d00" stroke="#ff8d00"/>
<polygon points="195.5,185.5 202.5,185.5 202.5,183.5 195.5,182.5" fill="#ff0000" stroke="#ff0000"/>
<polygon points="202.5,185.5 209.5,185.5 209.5,183.5 202.5,183.5" fill="#ff0000" stroke="#ff0000"/>
<polygon points="371.5,203.5 378.5,202.5 379.5,198.5 372.5,199.5" fill="#00ff07" stroke="#00ff07"/>
<polygon points="209.5,185.5 216.5,186.5 216.5,183.5 209.5,183.5" fill="#ff0000" stroke="#ff0000"/>
<polygon points="216.5,186.5 223.5,186.5 223.5,183.5 216.5,183.5" fill="#ff0000" stroke="#ff0000"/>
<polygon points="307.5,248.5 314.5,242.5 314.5,233.5 307.5,242.5" fill="#ff2800" stroke="#ff2800"/>
<polygon points="378.5,202.5 385.5,201.5 386.5,197.5 379.5,198.5" fill="#00ff32" stroke="#00ff32"/>
<polygon points="223.5,186.5 230.5,186.5 230.5,183.5 223.5,183.5" fill="#ff0000" stroke="#ff0000"/>
<polygon points="230.5,186.5 237.5,186.5 237.5,185.5 230.5,183.5" fill="#ff003d" stroke="#ff003d"/>
<polygon points="258.5,205.5 265.5,213.5 265.5,219.5 258.5,208.5" fill="#dbff00" stroke="#dbff00"/>
<polygon points="329.5,222.5 336.5,219.5 336.5,212.5 329.5,215.5" fill="#ffb700" stroke="#ffb700"/>
<polygon points="385.5,201.5 392.5,200.5 393.5,196.5 386.5,197.5" fill="#00ff5b" stroke="#00ff5b"/>
<polygon points="279.5,224.5 286.5,233.5 286.5,252.5 279.5,235.5" fill="#ff4800" stroke="#ff4800"/>
<polygon points="392.5,200.5 399.5,199.5 400.5,195.5 393.5,196.5" fill="#00ff84" stroke="#00ff84"/>
<polygon points="399.5,199.5 407.5,198.5 407.5,194.5 400.5,195.5" fill="#00ffab" stroke="#00ffab"/>
<polygon points="336.5,219.5 343.5,216.5 343.5,210.5 336.5,212.5" fill="#ffe400" stroke="#ffe400"/>
<polygon points="407.5,198.5 414.5,198.5 414.5,194.5 407.5,194.5" fill="#00ffd0" stroke="#00ffd0"/>
<polygon points="414.5,198.5 421.5,197.5 421.5,193.5 414.5,194.5" fill="#00fff5" stroke="#00fff5"/>
<polygon points="314.5,242.5 321.5,235.5 321.5,227.5 314.5,233.5" fill="#ff4200" stroke="#ff4200"/>
<polygon points="343.5,216.5 350.5,214.5 350.5,208.5 343.5,210.5" fill="#edff00" stroke="#edff00"/>
<polygon points="421.5,197.5 428.5,197.5 428.5,193.5 421.5,193.5" fill="#00e6ff" stroke="#00e6ff"/>
<polygon points="251.5,197.5 258.5,205.5 258.5,208.5 251.5,200.5" fill="#00ff1a" stroke="#00ff1a"/>
<polygon points="428.5,197.5 435.5,196.5 435.5,192.5 428.5,193.5" fill="#00c4ff" stroke="#00c4ff"/>
<polygon points="435.5,196.5 442.5,196.5 442.5,192.5 435.5,192.5" fill="#00a3ff" stroke="#00a3ff"/>
<polygon points="350.5,214.5 357.5,211.5 357.5,206.5 350.5,208.5" fill="#c0ff00" stroke="#c0ff00"/>
<polygon points="442.5,196.5 449.5,195.5 449.5,191.5 442.5,192.5" fill="#0084ff" stroke="#0084ff"/>
<polygon points="449.5,195.5 456.5,195.5 456.5,191.5 449.5,191.5" fill="#0065ff" stroke="#0065ff"/>
<polygon points="272.5,216.5 279.5,224.5 279.5,235.5 272.5,223.5" fill="#ff9400" stroke="#ff9400"/>
<polygon points="357.5,211.5 364.5,210.5 364.5,204.5 357.5,206.5" fill="#93ff00" stroke="#93ff00"/>
<polygon points="321.5,235.5 328.5,230.5 329.5,222.5 321.5,227.5" fill="#ff6200" stroke="#ff6200"/>
<polygon points="456.5,195.5 463.5,194.5 463.5,191.5 456.5,191.5" fill="#0048ff" stroke="#0048ff"/>
<polygon points="145.5,188.5 152.5,188.5 152.5,185.5 145.5,185.5" fill="#ff0000" stroke="#ff0000"/>
<polygon points="463.5,194.5 470.5,194.5 470.5,190.5 463.5,191.5" fill="#002cff" stroke="#002cff"/>
<polygon points="152.5,188.5 159.5,188.5 159.5,185.5 152.5,185.5" fill="#ff0000" stroke="#ff0000"/>
<polygon points="364.5,210.5 371.5,208.5 371.5,203.5 364.5,204.5" fill="#66ff00" stroke="#66ff00"/>
<polygon points="159.5,188.5 166.5,188.5 166.5,185.5 159.5,185.5" fill="#ff0000" stroke="#ff0000"/>
<polygon points="244.5,190.5 251.5,197.5 251.5,200.5 244.5,192.5" fill="#0057ff" stroke="#0057ff"/>
<polygon points="470.5,194.5 477.5,194.5 477.5,190.5 470.5,190.5" fill="#0011ff" stroke="#0011ff"/>
<polygon points="166.5,188.5 173.5,188.5 173.5,185.5 166.5,185.5" fill="#ff0000" stroke="#ff0000"/>
<polygon points="477.5,194.5 484.5,193.5 484.5,190.5 477.5,190.5" fill="#0900ff" stroke="#0900ff"/>
<polygon points="173.5,188.5 180.5,188.5 181.5,185.5 173.5,185.5" fill="#ff0000" stroke="#ff0000"/>
<polygon points="180.5,188.5 187.5,188.5 188.5,185.5 181.5,185.5" fill="#ff0000" stroke="#ff0000"/>
<polygon points="371.5,208.5 378.5,207.5 378.5,202.5 371.5,203.5" fill="#3aff00" stroke="#3aff00"/>
<polygon points="187.5,188.5 194.5,188.5 195.5,185.5 188.5,185.5" fill="#ff0000" stroke="#ff0000"/>
<polygon points="328.5,230.5 335.5,226.5 336.5,219.5 329.5,222.5" fill="#ff8600" stroke="#ff8600"/>
<polygon points="194.5,188.5 201.5,188.5 202.5,185.5 195.5,185.5" fill="#ff0000" stroke="#ff0000"/>
<polygon points="201.5,188.5 208.5,188.5 209.5,185.5 202.5,185.5" fill="#ff0000" stroke="#ff0000"/>
<polygon points="378.5,207.5 385.5,206.5 385.5,201.5 378.5,202.5" fill="#0fff00" stroke="#0fff00"/>
<polygon points="208.5,188.5 216.5,188.5 216.5,186.5 209.5,185.5" fill="#ff0000" stroke="#ff0000"/>
<polygon points="237.5,189.5 244.5,190.5 244.5,192.5 237.5,186.5" fill="#ff00b0" stroke="#ff00b0"/>
<polygon points="216.5,188.5 223.5,188.5 223.5,186.5 216.5,186.5" fill="#ff0000" stroke="#ff0000"/>
<polygon points="385.5,206.5 392.5,205.5 392.5,200.5 385.5,201.5" fill="#00ff1a" stroke="#00ff1a"/>
<polygon points="223.5,188.5 230.5,189.5 230.5,186.5 223.5,186.5" fill="#ff0000" stroke="#ff0000"/>
<polygon points="300.5,235.5 307.5,239.5 307.5,248.5 300.5,249.5" fill="#ff3000" stroke="#ff3000"/>
<polygon points="265.5,208.5 272.5,216.5 272.5,223.5 265.5,213.5" fill="#e8ff00" stroke="#e8ff00"/>
<polygon points="230.5,189.5 237.5,189.5 237.5,186.5 230.5,186.5" fill="#ff0000" stroke="#ff0000"/>
<polygon points="335.5,226.5 342.5,223.5 343.5,216.5 336.5,219.5" fill="#ffad00" stroke="#ffad00"/>
<polygon points="307.5,239.5 314.5,241.5 314.5,242.5 307.5,248.5" fill="#ff2d00" stroke="#ff2d00"/>
<polygon points="392.5,205.5 399.5,204.5 399.5,199.5 392.5,200.5" fill="#00ff43" stroke="#00ff43"/>
<polygon points="399.5,204.5 406.5,203.5 407.5,198.5 399.5,199.5" fill="#00ff6b" stroke="#00ff6b"/>
<polygon points="293.5,229.5 300.5,235.5 300.5,249.5 293.5,243.5" fill="#ff4400" stroke="#ff4400"/>
<polygon points="406.5,203.5 413.5,202.5 414.5,198.5 407.5,198.5" fill="#00ff91" stroke="#00ff91"/>
<polygon points="342.5,223.5 349.5,220.5 350.5,214.5 343.5,216.5" fill="#ffd600" stroke="#ffd600"/>
<polygon points="314.5,241.5 321.5,239.5 321.5,235.5 314.5,242.5" fill="#ff3700" stroke="#ff3700"/>
<polygon points="413.5,202.5 420.5,201.5 421.5,197.5 414.5,198.5" fill="#00ffb7" stroke="#00ffb7"/>
<polygon points="420.5,201.5 427.5,201.5 428.5,197.5 421.5,197.5" fill="#00ffdb" stroke="#00ffdb"/>
<polygon points="258.5,201.5 265.5,208.5 265.5,213.5 258.5,205.5" fill="#17ff00" stroke="#17ff00"/>
<polygon points="349.5,220.5 356.5,217.5 357.5,211.5 350.5,214.5" fill="#fdff00" stroke="#fdff00"/>
<polygon points="427.5,201.5 434.5,200.5 435.5,196.5 428.5,197.5" fill="#00fffd" stroke="#00fffd"/>
<polygon points="434.5,200.5 442.5,199.5 442.5,196.5 435.5,196.5" fill="#00dfff" stroke="#00dfff"/>
<polygon points="321.5,239.5 328.5,236.5 328.5,230.5 321.5,235.5" fill="#ff4a00" stroke="#ff4a00"/>
<polygon points="286.5,222.5 293.5,229.5 293.5,243.5 286.5,233.5" fill="#ff7000" stroke="#ff7000"/>
<polygon points="356.5,217.5 364.5,215.5 364.5,210.5 357.5,211.5" fill="#d2ff00" stroke="#d2ff00"/>
<polygon points="442.5,199.5 449.5,199.5 449.5,195.5 442.5,196.5" fill="#00beff" stroke="#00beff"/>
<polygon points="449.5,199.5 456.5,198.5 456.5,195.5 449.5,195.5" fill="#009fff" stroke="#009fff"/>
<polygon points="456.5,198.5 463.5,198.5 463.5,194.5 456.5,195.5" fill="#0080ff" stroke="#0080ff"/>
<polygon points="364.5,215.5 371.5,213.5 371.5,208.5 364.5,210.5" fill="#a8ff00" stroke="#a8ff00"/>
<polygon points="463.5,198.5 470.5,198.5 470.5,194.5 463.5,194.5" fill="#0063ff" stroke="#0063ff"/>
<polygon points="145.5,191.5 152.5,191.5 152.5,188.5 145.5,188.5" fill="#ff0000" stroke="#ff0000"/>
<polygon points="251.5,195.5 258.5,201.5 258.5,205.5 251.5,197.5" fill="#00caff" stroke="#00caff"/>
<polygon points="328.5,236.5 335.5,232.5 335.5,226.5 328.5,230.5" fill="#ff6400" stroke="#ff6400"/>
<polygon points="152.5,191.5 159.5,191.5 159.5,188.5 152.5,188.5" fill="#ff0000" stroke="#ff0000"/>
<polygon points="470.5,198.5 477.5,197.5 477.5,194.5 470.5,194.5" fill="#0047ff" stroke="#0047ff"/>
<polygon points="371.5,213.5 378.5,212.5 378.5,207.5 371.5,208.5" fill="#7dff00" stroke="#7dff00"/>
<polygon points="159.5,191.5 166.5,191.5 166.5,188.5 159.5,188.5" fill="#ff0000" stroke="#ff0000"/>
<polygon points="477.5,197.5 484.5,197.5 484.5,193.5 477.5,194.5" fill="#002cff" stroke="#002cff"/>
<polygon points="166.5,191.5 173.5,191.5 173.5,188.5 166.5,188.5" fill="#ff0000" stroke="#ff0000"/>
<polygon points="173.5,191.5 180.5,191.5 180.5,188.5 173.5,188.5" fill="#ff0000" stroke="#ff0000"/>
<polygon points="278.5,216.5 286.5,222.5 286.5,233.5 279.5,224.5" fill="#ffbe00" stroke="#ffbe00"/>
<polygon points="378.5,212.5 385.5,211.5 385.5,206.5 378.5,207.5" fill="#53ff00" stroke="#53ff00"/>
<polygon points="180.5,191.5 187.5,191.5 187.5,188.5 180.5,188.5" fill="#ff0000" stroke="#ff0000"/>
<polygon points="187.5,191.5 194.5,191.5 194.5,188.5 187.5,188.5" fill="#ff0000" stroke="#ff0000"/>
<polygon points="194.5,191.5 201.5,191.5 201.5,188.5 194.5,188.5" fill="#ff0000" stroke="#ff0000"/>
<polygon points="335.5,232.5 342.5,229.5 342.5,223.5 335.5,226.5" fill="#ff8300" stroke="#ff8300"/>
<polygon points="201.5,191.5 208.5,191.5 208.5,188.5 201.5,188.5" fill="#ff0000" stroke="#ff0000"/>
<polygon points="385.5,211.5 392.5,209.5 392.5,205.5 385.5,206.5" fill="#29ff00" stroke="#29ff00"/>
<polygon points="243.5,191.5 251.5,195.5 251.5,197.5 244.5,190.5" fill="#d700ff" stroke="#d700ff"/>
<polygon points="208.5,191.5 215.5,191.5 216.5,188.5 208.5,188.5" fill="#ff0000" stroke="#ff0000"/>
<polygon points="215.5,191.5 222.5,191.5 223.5,188.5 216.5,188.5" fill="#ff0000" stroke="#ff0000"/>
<polygon points="392.5,209.5 399.5,208.5 399.5,204.5 392.5,205.5" fill="#01ff00" stroke="#01ff00"/>
<polygon points="222.5,191.5 229.5,191.5 230.5,189.5 223.5,188.5" fill="#ff0000" stroke="#ff0000"/>
<polygon points="229.5,191.5 236.5,191.5 237.5,189.5 230.5,189.5" fill="#ff0000" stroke="#ff0000"/>
<polygon points="236.5,191.5 243.5,191.5 244.5,190.5 237.5,189.5" fill="#ff0028" stroke="#ff0028"/>
<polygon points="342.5,229.5 349.5,226.5 349.5,220.5 342.5,223.5" fill="#ffa600" stroke="#ffa600"/>
<polygon points="399.5,208.5 406.5,207.5 406.5,203.5 399.5,204.5" fill="#00ff27" stroke="#00ff27"/>
<polygon points="271.5,209.5 278.5,216.5 279.5,224.5 272.5,216.5" fill="#c2ff00" stroke="#c2ff00"/>
<polygon points="406.5,207.5 413.5,206.5 413.5,202.5 406.5,203.5" fill="#00ff4e" stroke="#00ff4e"/>
<polygon points="413.5,206.5 420.5,206.5 420.5,201.5 413.5,202.5" fill="#00ff73" stroke="#00ff73"/>
<polygon points="349.5,226.5 356.5,223.5 356.5,217.5 349.5,220.5" fill="#ffcb00" stroke="#ffcb00"/>
<polygon points="420.5,206.5 427.5,205.5 427.5,201.5 420.5,201.5" fill="#00ff98" stroke="#00ff98"/>
<polygon points="427.5,205.5 434.5,204.5 434.5,200.5 427.5,201.5" fill="#00ffbc" stroke="#00ffbc"/>
<polygon points="356.5,223.5 363.5,221.5 364.5,215.5 356.5,217.5" fill="#fff100" stroke="#fff100"/>
<polygon points="434.5,204.5 441.5,204.5 442.5,199.5 434.5,200.5" fill="#00ffde" stroke="#00ffde"/>
<polygon points="264.5,203.5 271.5,209.5 272.5,216.5 265.5,208.5" fill="#00ff00" stroke="#00ff00"/>
<polygon points="441.5,204.5 448.5,203.5 449.5,199.5 442.5,199.5" fill="#00feff" stroke="#00feff"/>
<polygon points="363.5,221.5 370.5,219.5 371.5,213.5 364.5,215.5" fill="#e6ff00" stroke="#e6ff00"/>
<polygon points="448.5,203.5 455.5,202.5 456.5,198.5 449.5,199.5" fill="#00deff" stroke="#00deff"/>
<polygon points="314.5,231.5 321.5,234.5 321.5,239.5 314.5,241.5" fill="#ff5a00" stroke="#ff5a00"/>
<polygon points="306.5,228.5 314.5,231.5 314.5,241.5 307.5,239.5" fill="#ff6800" stroke="#ff6800"/>
<polygon points="455.5,202.5 462.5,202.5 463.5,198.5 456.5,198.5" fill="#00bfff" stroke="#00bfff"/>
<polygon points="321.5,234.5 328.5,234.5 328.5,236.5 321.5,239.5" fill="#ff5900" stroke="#ff5900"/>
<polygon points="370.5,219.5 377.5,217.5 378.5,212.5 371.5,213.5" fill="#beff00" stroke="#beff00"/>
<polygon points="462.5,202.5 469.5,202.5 470.5,198.5 463.5,198.5" fill="#00a0ff" stroke="#00a0ff"/>
<polygon points="469.5,202.5 477.5,201.5 477.5,197.5 470.5,198.5" fill="#0083ff" stroke="#0083ff"/>
<polygon points="144.5,194.5 151.5,194.5 152.5,191.5 145.5,191.5" fill="#ff0000" stroke="#ff0000"/>
<polygon points="328.5,234.5 335.5,234.5 335.5,232.5 328.5,236.5" fill="#ff6200" stroke="#ff6200"/>
<polygon points="299.5,223.5 306.5,228.5 307.5,239.5 300.5,235.5" fill="#ff8800" stroke="#ff8800"/>
<polygon points="257.5,198.5 264.5,203.5 265.5,208.5 258.5,201.5" fill="#00d5ff" stroke="#00d5ff"/>
<polygon points="151.5,194.5 158.5,194.5 159.5,191.5 152.5,191.5" fill="#ff0000" stroke="#ff0000"/>
<polygon points="377.5,217.5 384.5,216.5 385.5,211.5 378.5,212.5" fill="#96ff00" stroke="#96ff00"/>
<polygon points="477.5,201.5 484.5,201.5 484.5,197.5 477.5,197.5" fill="#0067ff" stroke="#0067ff"/>
<polygon points="158.5,194.5 165.5,194.5 166.5,191.5 159.5,191.5" fill="#ff0000" stroke="#ff0000"/>
<polygon points="165.5,194.5 173.5,194.5 173.5,191.5 166.5,191.5" fill="#ff0000" stroke="#ff0000"/>
<polygon points="173.5,194.5 180.5,194.5 180.5,191.5 173.5,191.5" fill="#ff0000" stroke="#ff0000"/>
<polygon points="384.5,216.5 391.5,214.5 392.5,209.5 385.5,211.5" fill="#6eff00" stroke="#6eff00"/>
<polygon points="335.5,234.5 342.5,232.5 342.5,229.5 335.5,232.5" fill="#ff7400" stroke="#ff7400"/>
<polygon points="180.5,194.5 187.5,194.5 187.5,191.5 180.5,191.5" fill="#ff0000" stroke="#ff0000"/>
<polygon points="187.5,194.5 194.5,194.5 194.5,191.5 187.5,191.5" fill="#ff0000" stroke="#ff0000"/>
<polygon points="194.5,194.5 201.5,194.5 201.5,191.5 194.5,191.5" fill="#ff0000" stroke="#ff0000"/>
<polygon points="292.5,219.5 299.5,223.5 300.5,235.5 293.5,229.5" fill="#ffc100" stroke="#ffc100"/>
<polygon points="391.5,214.5 399.5,213.5 399.5,208.5 392.5,209.5" fill="#46ff00" stroke="#46ff00"/>
<polygon points="201.5,194.5 208.5,194.5 208.5,191.5 201.5,191.5" fill="#ff0000" stroke="#ff0000"/>
<polygon points="250.5,194.5 257.5,198.5 258.5,201.5 251.5,195.5" fill="#a000ff" stroke="#a000ff"/>
<polygon points="208.5,194.5 215.5,194.5 215.5,191.5 208.5,191.5" fill="#ff0000" stroke="#ff0000"/>
<polygon points="342.5,232.5 349.5,231.5 349.5,226.5 342.5,229.5" fill="#ff8b00" stroke="#ff8b00"/>
<polygon points="215.5,194.5 222.5,194.5 222.5,191.5 215.5,191.5" fill="#ff0000" stroke="#ff0000"/>
<polygon points="399.5,213.5 406.5,212.5 406.5,207.5 399.5,208.5" fill="#1fff00" stroke="#1fff00"/>
<polygon points="222.5,194.5 229.5,194.5 229.5,191.5 222.5,191.5" fill="#ff0000" stroke="#ff0000"/>
<polygon points="229.5,194.5 236.5,194.5 236.5,191.5 229.5,191.5" fill="#ff0000" stroke="#ff0000"/>
<polygon points="243.5,194.5 250.5,194.5 251.5,195.5 243.5,191.5" fill="#ff004e" stroke="#ff004e"/>
<polygon points="236.5,194.5 243.5,194.5 243.5,191.5 236.5,191.5" fill="#ff0000" stroke="#ff0000"/>
<polygon points="406.5,212.5 413.5,211.5 413.5,206.5 406.5,207.5" fill="#00ff07" stroke="#00ff07"/>
<polygon points="349.5,231.5 356.5,229.5 356.5,223.5 349.5,226.5" fill="#ffa600" stroke="#ffa600"/>
<polygon points="285.5,214.5 292.5,219.5 293.5,229.5 286.5,222.5" fill="#e4ff00" stroke="#e4ff00"/>
<polygon points="413.5,211.5 420.5,210.5 420.5,206.5 413.5,206.5" fill="#00ff2d" stroke="#00ff2d"/>
<polygon points="420.5,210.5 427.5,209.5 427.5,205.5 420.5,206.5" fill="#00ff51" stroke="#00ff51"/>
<polygon points="356.5,229.5 363.5,226.5 363.5,221.5 356.5,223.5" fill="#ffc500" stroke="#ffc500"/>
<polygon points="427.5,209.5 434.5,209.5 434.5,204.5 427.5,205.5" fill="#00ff75" stroke="#00ff75"/>
<polygon points="434.5,209.5 441.5,208.5 441.5,204.5 434.5,204.5" fill="#00ff98" stroke="#00ff98"/>
<polygon points="278.5,209.5 285.5,214.5 286.5,222.5 278.5,216.5" fill="#5dff00" stroke="#5dff00"/>
<polygon points="363.5,226.5 370.5,225.5 370.5,219.5 363.5,221.5" fill="#ffe600" stroke="#ffe600"/>
<polygon points="441.5,208.5 448.5,207.5 448.5,203.5 441.5,204.5" fill="#00ffba" stroke="#00ffba"/>
<polygon points="448.5,207.5 455.5,207.5 455.5,202.5 448.5,203.5" fill="#00ffdb" stroke="#00ffdb"/>
<polygon points="370.5,225.5 377.5,223.5 377.5,217.5 370.5,219.5" fill="#f6ff00" stroke="#f6ff00"/>
<polygon points="455.5,207.5 462.5,206.5 462.5,202.5 455.5,202.5" fill="#00fffb" stroke="#00fffb"/>
<polygon points="462.5,206.5 469.5,206.5 469.5,202.5 462.5,202.5" fill="#00e4ff" stroke="#00e4ff"/>
<polygon points="271.5,204.5 278.5,209.5 278.5,216.5 271.5,209.5" fill="#00ff6a" stroke="#00ff6a"/>
<polygon points="377.5,223.5 384.5,221.5 384.5,216.5 377.5,217.5" fill="#d2ff00" stroke="#d2ff00"/>
<polygon points="469.5,206.5 476.5,205.5 477.5,201.5 469.5,202.5" fill="#00c6ff" stroke="#00c6ff"/>
<polygon points="476.5,205.5 483.5,205.5 484.5,201.5 477.5,201.5" fill="#00a8ff" stroke="#00a8ff"/>
<polygon points="144.5,196.5 151.5,196.5 151.5,194.5 144.5,194.5" fill="#ff0000" stroke="#ff0000"/>
<polygon points="384.5,221.5 391.5,220.5 391.5,214.5 384.5,216.5" fill="#adff00" stroke="#adff00"/>
<polygon points="151.5,196.5 158.5,197.5 158.5,194.5 151.5,194.5" fill="#ff0000" stroke="#ff0000"/>
<polygon points="158.5,197.5 165.5,197.5 165.5,194.5 158.5,194.5" fill="#ff0000" stroke="#ff0000"/>
<polygon points="165.5,197.5 172.5,197.5 173.5,194.5 165.5,194.5" fill="#ff0000" stroke="#ff0000"/>
<polygon points="172.5,197.5 179.5,197.5 180.5,194.5 173.5,194.5" fill="#ff0000" stroke="#ff0000"/>
<polygon points="391.5,220.5 398.5,218.5 399.5,213.5 391.5,214.5" fill="#89ff00" stroke="#89ff00"/>
<polygon points="264.5,199.5 271.5,204.5 271.5,209.5 264.5,203.5" fill="#0073ff" stroke="#0073ff"/>
<polygon points="179.5,197.5 186.5,197.5 187.5,194.5 180.5,194.5" fill="#ff0000" stroke="#ff0000"/>
<polygon points="186.5,197.5 193.5,197.5 194.5,194.5 187.5,194.5" fill="#ff0000" stroke="#ff0000"/>
<polygon points="193.5,197.5 200.5,197.5 201.5,194.5 194.5,194.5" fill="#ff0000" stroke="#ff0000"/>
<polygon points="398.5,218.5 405.5,217.5 406.5,212.5 399.5,213.5" fill="#64ff00" stroke="#64ff00"/>
<polygon points="200.5,197.5 208.5,197.5 208.5,194.5 201.5,194.5" fill="#ff0000" stroke="#ff0000"/>
<polygon points="208.5,197.5 215.5,197.5 215.5,194.5 208.5,194.5" fill="#ff0000" stroke="#ff0000"/>
<polygon points="405.5,217.5 412.5,216.5 413.5,211.5 406.5,212.5" fill="#40ff00" stroke="#40ff00"/>
<polygon points="215.5,197.5 222.5,197.5 222.5,194.5 215.5,194.5" fill="#ff0000" stroke="#ff0000"/>
<polygon points="257.5,197.5 264.5,199.5 264.5,203.5 257.5,198.5" fill="#cb00ff" stroke="#cb00ff"/>
<polygon points="222.5,197.5 229.5,197.5 229.5,194.5 222.5,194.5" fill="#ff0000" stroke="#ff0000"/>
<polygon points="229.5,197.5 236.5,197.5 236.5,194.5 229.5,194.5" fill="#ff0000" stroke="#ff0000"/>
<polygon points="412.5,216.5 419.5,215.5 420.5,210.5 413.5,211.5" fill="#1bff00" stroke="#1bff00"/>
<polygon points="236.5,197.5 243.5,197.5 243.5,194.5 236.5,194.5" fill="#ff0000" stroke="#ff0000"/>
<polygon points="250.5,197.5 257.5,197.5 257.5,198.5 250.5,194.5" fill="#ff0050" stroke="#ff0050"/>
<polygon points="243.5,197.5 250.5,197.5 250.5,194.5 243.5,194.5" fill="#ff0000" stroke="#ff0000"/>
<polygon points="419.5,215.5 426.5,214.5 427.5,209.5 420.5,210.5" fill="#00ff08" stroke="#00ff08"/>
<polygon points="426.5,214.5 434.5,213.5 434.5,209.5 427.5,209.5" fill="#00ff2c" stroke="#00ff2c"/>
<polygon points="434.5,213.5 441.5,212.5 441.5,208.5 434.5,209.5" fill="#00ff4e" stroke="#00ff4e"/>
<polygon points="441.5,212.5 448.5,212.5 448.5,207.5 441.5,208.5" fill="#00ff70" stroke="#00ff70"/>
<polygon points="448.5,212.5 455.5,211.5 455.5,207.5 448.5,207.5" fill="#00ff91" stroke="#00ff91"/>
<polygon points="455.5,211.5 462.5,210.5 462.5,206.5 455.5,207.5" fill="#00ffb1" stroke="#00ffb1"/>
<polygon points="462.5,210.5 469.5,210.5 469.5,206.5 462.5,206.5" fill="#00ffd1" stroke="#00ffd1"/>
<polygon points="469.5,210.5 476.5,209.5 476.5,205.5 469.5,206.5" fill="#00ffef" stroke="#00ffef"/>
<polygon points="476.5,209.5 483.5,209.5 483.5,205.5 476.5,205.5" fill="#00f1ff" stroke="#00f1ff"/>
</g>
<g shape-rendering="crispEdges">
<line x1="495.5" y1="85" x2="495.5" y2="285.5" stroke="#000" stroke-width="1"/>
<line x1="144.5" y1="196" x2="144.5" y2="397" stroke="#000" stroke-width="1" />
<line x1="144.5" y1="322.5" x2="149" y2="322.5" stroke="#000" stroke-width="1" />
<line x1="144.5" y1="313.5" x2="147" y2="313.5" stroke="#000" stroke-width="1" />
<line x1="144.5" y1="307.5" x2="147" y2="307.5" stroke="#000" stroke-width="1" />
<line x1="144.5" y1="303.5" x2="147" y2="303.5" stroke="#000" stroke-width="1" />
<line x1="144.5" y1="300.5" x2="147" y2="300.5" stroke="#000" stroke-width="1" />
<line x1="144.5" y1="298.5" x2="147" y2="298.5" stroke="#000" stroke-width="1" />
<line x1="144.5" y1="295.5" x2="147" y2="295.5" stroke="#000" stroke-width="1" />
<line x1="144.5" y1="294.5" x2="147" y2="294.5" stroke="#000" stroke-width="1" />
<line x1="144.5" y1="292.5" x2="147" y2="292.5" stroke="#000" stroke-width="1" />
<line x1="144.5" y1="291.5" x2="149" y2="291.5" stroke="#000" stroke-width="1" />
<line x1="144.5" y1="281.5" x2="147" y2="281.5" stroke="#000" stroke-width="1" />
<line x1="144.5" y1="276.5" x2="147" y2="276.5" stroke="#000" stroke-width="1" />
<line x1="144.5" y1="272.5" x2="147" y2="272.5" stroke="#000" stroke-width="1" />
<line x1="144.5" y1="269.5" x2="147" y2="269.5" stroke="#000" stroke-width="1" />
<line x1="144.5" y1="266.5" x2="147" y2="266.5" stroke="#000" stroke-width="1" />
<line x1="144.5" y1="264.5" x2="147" y2="264.5" stroke="#000" stroke-width="1" />
<line x1="144.5" y1="262.5" x2="147" y2="262.5" stroke="#000" stroke-width="1" />
<line x1="144.5" y1="261.5" x2="147" y2="261.5" stroke="#000" stroke-width="1" />
<line x1="144.5" y1="259.5" x2="149" y2="259.5" stroke="#000" stroke-width="1" />
<line x1="144.5" y1="250.5" x2="147" y2="250.5" stroke="#000" stroke-width="1" />
<line x1="144.5" y1="244.5" x2="147" y2="244.5" stroke="#000" stroke-width="1" />
<line x1="144.5" y1="240.5" x2="147" y2="240.5" stroke="#000" stroke-width="1" />
<line x1="144.5" y1="237.5" x2="147" y2="237.5" stroke="#000" stroke-width="1" />
<line x1="144.5" y1="235.5" x2="147" y2="235.5" stroke="#000" stroke-width="1" />
<line x1="144.5" y1="232.5" x2="147" y2="232.5" stroke="#000" stroke-width="1" />
<line x1="144.5" y1="231.5" x2="147" y2="231.5" stroke="#000" stroke-width="1" />
<line x1="144.5" y1="229.5" x2="147" y2="229.5" stroke="#000" stroke-width="1" />
<line x1="144.5" y1="228.5" x2="149" y2="228.5" stroke="#000" stroke-width="1" />
<line x1="144.5" y1="218.5" x2="147" y2="218.5" stroke="#000" stroke-width="1" />
<line x1="144.5" y1="213.5" x2="147" y2="213.5" stroke="#000" stroke-width="1" />
<line x1="144.5" y1="209.5" x2="147" y2="209.5" stroke="#000" stroke-width="1" />
<line x1="144.5" y1="206.5" x2="147" y2="206.5" stroke="#000" stroke-width="1" />
<line x1="144.5" y1="203.5" x2="147" y2="203.5" stroke="#000" stroke-width="1" />
<line x1="144.5" y1="201.5" x2="147" y2="201.5" stroke="#000" stroke-width="1" />
<line x1="144.5" y1="199.5" x2="147" y2="199.5" stroke="#000" stroke-width="1" />
<line x1="144.5" y1="198.5" x2="147" y2="198.5" stroke="#000" stroke-width="1" />
<line x1="144.5" y1="196.5" x2="149" y2="196.5" stroke="#000" stroke-width="1" />
<defs><linearGradient id="cb" x1="0" y1="0" x2="0" y2="1"><stop offset="0.0000" stop-color="#ff0000"/><stop offset="0.1667" stop-color="#ff00ff"/><stop offset="0.3333" stop-color="#0000ff"/><stop offset="0.5000" stop-color="#00ffff"/><stop offset="0.6667" stop-color="#00ff00"/><stop offset="0.8333" stop-color="#ffff00"/><stop offset="1.0000" stop-color="#ff0000"/></linearGradient></defs>
<rect x="561" y="126" width="24" height="149" fill="url(#cb)"/>
<rect x="561.5" y="126.5" width="23" height="148" fill="none" stroke="#000" stroke-width="1"/>
<line x1="561.5" y1="260.5" x2="566" y2="260.5" stroke="#000" stroke-width="1" />
<line x1="580" y1="260.5" x2="584.5" y2="260.5" stroke="#000" stroke-width="1" />
<line x1="561.5" y1="245.5" x2="566" y2="245.5" stroke="#000" stroke-width="1" />
<line x1="580" y1="245.5" x2="584.5" y2="245.5" stroke="#000" stroke-width="1" />
<line x1="561.5" y1="230.5" x2="566" y2="230.5" stroke="#000" stroke-width="1" />
<line x1="580" y1="230.5" x2="584.5" y2="230.5" stroke="#000" stroke-width="1" />
<line x1="561.5" y1="215.5" x2="566" y2="215.5" stroke="#000" stroke-width="1" />
<line x1="580" y1="215.5" x2="584.5" y2="215.5" stroke="#000" stroke-width="1" />
<line x1="561.5" y1="200.5" x2="566" y2="200.5" stroke="#000" stroke-width="1" />
<line x1="580" y1="200.5" x2="584.5" y2="200.5" stroke="#000" stroke-width="1" />
<line x1="561.5" y1="186.5" x2="566" y2="186.5" stroke="#000" stroke-width="1" />
<line x1="580" y1="186.5" x2="584.5" y2="186.5" stroke="#000" stroke-width="1" />
<line x1="561.5" y1="171.5" x2="566" y2="171.5" stroke="#000" stroke-width="1" />
<line x1="580" y1="171.5" x2="584.5" y2="171.5" stroke="#000" stroke-width="1" />
<line x1="561.5" y1="156.5" x2="566" y2="156.5" stroke="#000" stroke-width="1" />
<line x1="580" y1="156.5" x2="584.5" y2="156.5" stroke="#000" stroke-width="1" />
<line x1="561.5" y1="141.5" x2="566" y2="141.5" stroke="#000" stroke-width="1" />
<line x1="580" y1="141.5" x2="584.5" y2="141.5" stroke="#000" stroke-width="1" />
<text x="597" y="277.6" font-size="16">0</text>
<text x="597" y="263.6" font-size="16">10</text>
<text x="597" y="248.6" font-size="16">20</text>
<text x="597" y="233.6" font-size="16">30</text>
<text x="597" y="218.6" font-size="16">40</text>
<text x="597" y="203.6" font-size="16">50</text>
<text x="597" y="189.6" font-size="16">60</text>
<text x="597" y="174.6" font-size="16">70</text>
<text x="597" y="159.6" font-size="16">80</text>
<text x="597" y="144.6" font-size="16">90</text>
<text x="597" y="129.6" font-size="16">100</text>
</g>
</svg></body></html>
